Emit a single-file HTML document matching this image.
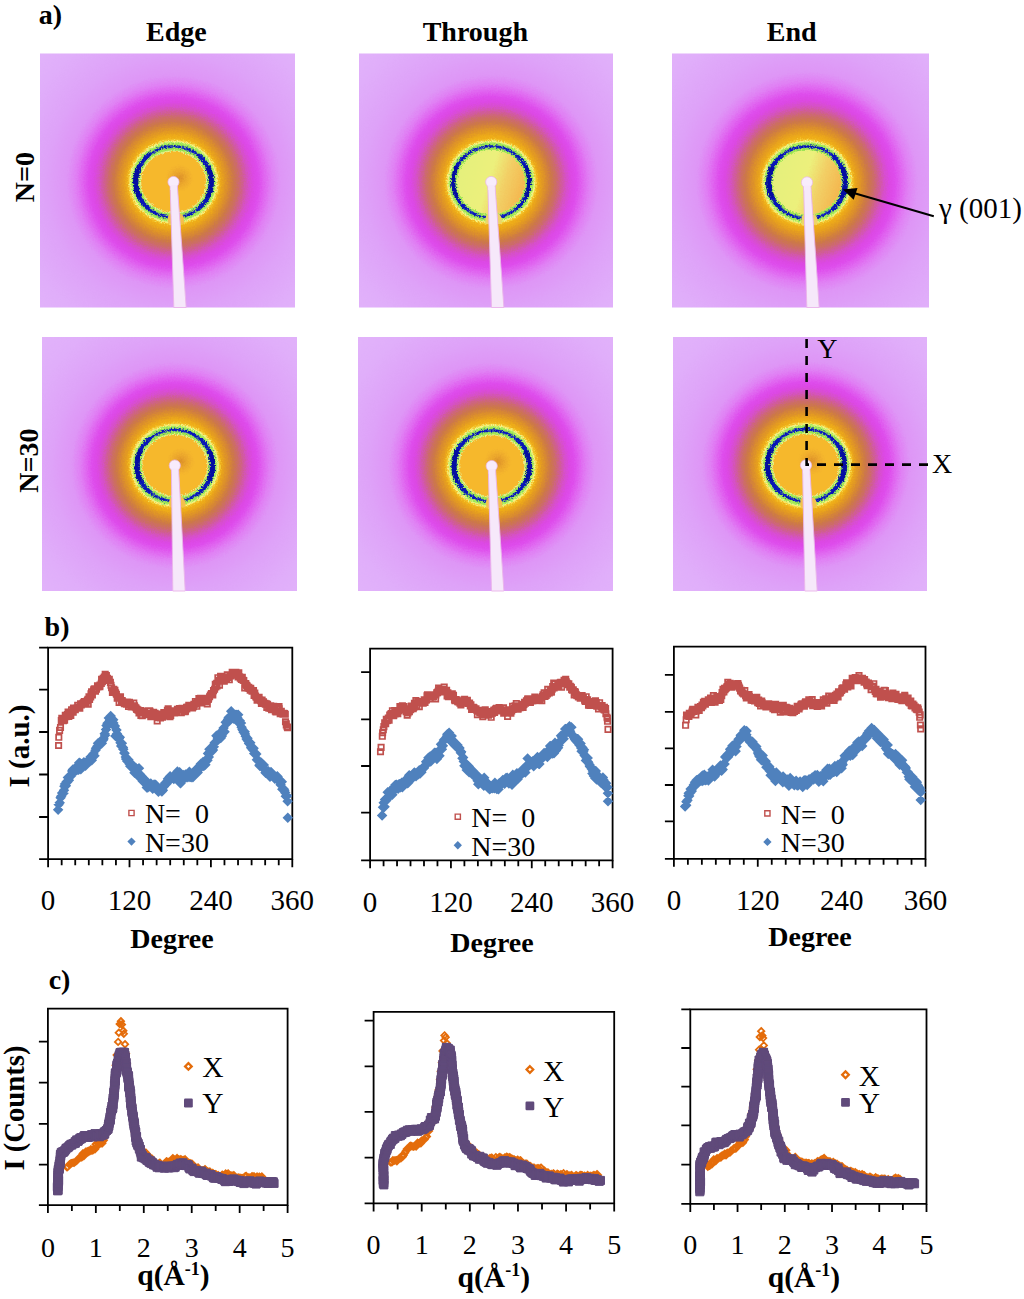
<!DOCTYPE html>
<html><head><meta charset="utf-8"><style>
html,body{margin:0;padding:0;background:#fff;}
body{width:1024px;height:1299px;position:relative;overflow:hidden;font-family:"Liberation Serif",serif;}
</style></head><body>
<svg width="1024" height="1299" viewBox="0 0 1024 1299" style="position:absolute;left:0;top:0">
<defs>
<radialGradient id="ge0" gradientUnits="userSpaceOnUse" cx="173.5" cy="182" r="260">
<stop offset="0.0000" stop-color="#eeac18"/>
<stop offset="0.1762" stop-color="#eeac18"/>
<stop offset="0.1915" stop-color="#e49c20"/>
<stop offset="0.2108" stop-color="#d88a30"/>
<stop offset="0.2300" stop-color="#cc7848"/>
<stop offset="0.2492" stop-color="#cc6c68"/>
<stop offset="0.2685" stop-color="#d05c98"/>
<stop offset="0.2877" stop-color="#d650c8"/>
<stop offset="0.3069" stop-color="#dc48e4"/>
<stop offset="0.3262" stop-color="#de4cec"/>
<stop offset="0.3492" stop-color="#e064f0"/>
<stop offset="0.3762" stop-color="#e080f4"/>
<stop offset="0.4108" stop-color="#de96f6"/>
<stop offset="0.4915" stop-color="#dea2f8"/>
<stop offset="0.6262" stop-color="#e0aefa"/>
<stop offset="1.0000" stop-color="#e6c0fa"/>
</radialGradient>
<radialGradient id="re0" gradientUnits="userSpaceOnUse" cx="173.5" cy="182" r="47.599999999999994" gradientTransform="translate(0 10.92) scale(1 0.94)">
<stop offset="0.0000" stop-color="#f6b82c" stop-opacity="1"/>
<stop offset="0.6681" stop-color="#f6b82c" stop-opacity="1"/>
<stop offset="0.6933" stop-color="#e8f090" stop-opacity="1"/>
<stop offset="0.7143" stop-color="#a8e858" stop-opacity="1"/>
<stop offset="0.7479" stop-color="#90e050" stop-opacity="1"/>
<stop offset="0.7790" stop-color="#1a28c8" stop-opacity="1"/>
<stop offset="0.7941" stop-color="#0410b0" stop-opacity="1"/>
<stop offset="0.8092" stop-color="#1020c0" stop-opacity="1"/>
<stop offset="0.8403" stop-color="#90e050" stop-opacity="1"/>
<stop offset="0.8782" stop-color="#b0ec60" stop-opacity="1"/>
<stop offset="0.9076" stop-color="#f8f488" stop-opacity="1"/>
<stop offset="0.9412" stop-color="#f4c830" stop-opacity="1"/>
<stop offset="1.0000" stop-color="#f0b018" stop-opacity="0"/>
</radialGradient>
<radialGradient id="gt0" gradientUnits="userSpaceOnUse" cx="491.2" cy="182" r="260">
<stop offset="0.0000" stop-color="#eeac18"/>
<stop offset="0.1769" stop-color="#eeac18"/>
<stop offset="0.1923" stop-color="#e49c20"/>
<stop offset="0.2115" stop-color="#d88a30"/>
<stop offset="0.2308" stop-color="#cc7848"/>
<stop offset="0.2500" stop-color="#cc6c68"/>
<stop offset="0.2692" stop-color="#d05c98"/>
<stop offset="0.2885" stop-color="#d650c8"/>
<stop offset="0.3077" stop-color="#dc48e4"/>
<stop offset="0.3269" stop-color="#de4cec"/>
<stop offset="0.3500" stop-color="#e064f0"/>
<stop offset="0.3769" stop-color="#e080f4"/>
<stop offset="0.4115" stop-color="#de96f6"/>
<stop offset="0.4923" stop-color="#dea2f8"/>
<stop offset="0.6269" stop-color="#e0aefa"/>
<stop offset="1.0000" stop-color="#e6c0fa"/>
</radialGradient>
<radialGradient id="rt0" gradientUnits="userSpaceOnUse" cx="491.2" cy="182" r="47.6" gradientTransform="translate(0 10.92) scale(1 0.94)">
<stop offset="0.0000" stop-color="#ecec78" stop-opacity="1"/>
<stop offset="0.6765" stop-color="#ecec78" stop-opacity="1"/>
<stop offset="0.7017" stop-color="#e8f090" stop-opacity="1"/>
<stop offset="0.7227" stop-color="#a8e858" stop-opacity="1"/>
<stop offset="0.7563" stop-color="#90e050" stop-opacity="1"/>
<stop offset="0.7849" stop-color="#1a28c8" stop-opacity="1"/>
<stop offset="0.7983" stop-color="#0410b0" stop-opacity="1"/>
<stop offset="0.8118" stop-color="#1020c0" stop-opacity="1"/>
<stop offset="0.8403" stop-color="#90e050" stop-opacity="1"/>
<stop offset="0.8782" stop-color="#b0ec60" stop-opacity="1"/>
<stop offset="0.9076" stop-color="#f8f488" stop-opacity="1"/>
<stop offset="0.9412" stop-color="#f4c830" stop-opacity="1"/>
<stop offset="1.0000" stop-color="#f0b018" stop-opacity="0"/>
</radialGradient>
<radialGradient id="gn0" gradientUnits="userSpaceOnUse" cx="807" cy="182.4" r="260">
<stop offset="0.0000" stop-color="#eeac18"/>
<stop offset="0.1781" stop-color="#eeac18"/>
<stop offset="0.1958" stop-color="#e49c20"/>
<stop offset="0.2160" stop-color="#d88a30"/>
<stop offset="0.2362" stop-color="#cc7848"/>
<stop offset="0.2563" stop-color="#cc6c68"/>
<stop offset="0.2765" stop-color="#d05c98"/>
<stop offset="0.2967" stop-color="#d650c8"/>
<stop offset="0.3169" stop-color="#dc48e4"/>
<stop offset="0.3371" stop-color="#de4cec"/>
<stop offset="0.3613" stop-color="#e064f0"/>
<stop offset="0.3896" stop-color="#e080f4"/>
<stop offset="0.4260" stop-color="#de96f6"/>
<stop offset="0.5108" stop-color="#dea2f8"/>
<stop offset="0.6521" stop-color="#e0aefa"/>
<stop offset="1.0000" stop-color="#e6c0fa"/>
</radialGradient>
<radialGradient id="rn0" gradientUnits="userSpaceOnUse" cx="807" cy="182.4" r="48.099999999999994" gradientTransform="translate(0 10.94) scale(1 0.94)">
<stop offset="0.0000" stop-color="#ecec78" stop-opacity="1"/>
<stop offset="0.6715" stop-color="#ecec78" stop-opacity="1"/>
<stop offset="0.6965" stop-color="#e8f090" stop-opacity="1"/>
<stop offset="0.7173" stop-color="#a8e858" stop-opacity="1"/>
<stop offset="0.7505" stop-color="#90e050" stop-opacity="1"/>
<stop offset="0.7813" stop-color="#1a28c8" stop-opacity="1"/>
<stop offset="0.7963" stop-color="#0410b0" stop-opacity="1"/>
<stop offset="0.8112" stop-color="#1020c0" stop-opacity="1"/>
<stop offset="0.8420" stop-color="#90e050" stop-opacity="1"/>
<stop offset="0.8794" stop-color="#b0ec60" stop-opacity="1"/>
<stop offset="0.9085" stop-color="#f8f488" stop-opacity="1"/>
<stop offset="0.9418" stop-color="#f4c830" stop-opacity="1"/>
<stop offset="1.0000" stop-color="#f0b018" stop-opacity="0"/>
</radialGradient>
<radialGradient id="ge3" gradientUnits="userSpaceOnUse" cx="174.8" cy="465.5" r="260">
<stop offset="0.0000" stop-color="#eeac18"/>
<stop offset="0.1762" stop-color="#eeac18"/>
<stop offset="0.1892" stop-color="#e49c20"/>
<stop offset="0.2075" stop-color="#d88a30"/>
<stop offset="0.2258" stop-color="#cc7848"/>
<stop offset="0.2440" stop-color="#cc6c68"/>
<stop offset="0.2623" stop-color="#d05c98"/>
<stop offset="0.2806" stop-color="#d650c8"/>
<stop offset="0.2988" stop-color="#dc48e4"/>
<stop offset="0.3171" stop-color="#de4cec"/>
<stop offset="0.3390" stop-color="#e064f0"/>
<stop offset="0.3646" stop-color="#e080f4"/>
<stop offset="0.3975" stop-color="#de96f6"/>
<stop offset="0.4742" stop-color="#dea2f8"/>
<stop offset="0.6021" stop-color="#e0aefa"/>
<stop offset="1.0000" stop-color="#e6c0fa"/>
</radialGradient>
<radialGradient id="re3" gradientUnits="userSpaceOnUse" cx="174.8" cy="465.5" r="47.5" gradientTransform="translate(0 27.93) scale(1 0.94)">
<stop offset="0.0000" stop-color="#f6b82c" stop-opacity="1"/>
<stop offset="0.6716" stop-color="#f6b82c" stop-opacity="1"/>
<stop offset="0.6968" stop-color="#e8f090" stop-opacity="1"/>
<stop offset="0.7179" stop-color="#a8e858" stop-opacity="1"/>
<stop offset="0.7516" stop-color="#90e050" stop-opacity="1"/>
<stop offset="0.7815" stop-color="#1a28c8" stop-opacity="1"/>
<stop offset="0.7958" stop-color="#0410b0" stop-opacity="1"/>
<stop offset="0.8101" stop-color="#1020c0" stop-opacity="1"/>
<stop offset="0.8400" stop-color="#90e050" stop-opacity="1"/>
<stop offset="0.8779" stop-color="#b0ec60" stop-opacity="1"/>
<stop offset="0.9074" stop-color="#f8f488" stop-opacity="1"/>
<stop offset="0.9411" stop-color="#f4c830" stop-opacity="1"/>
<stop offset="1.0000" stop-color="#f0b018" stop-opacity="0"/>
</radialGradient>
<radialGradient id="gt3" gradientUnits="userSpaceOnUse" cx="491.7" cy="466" r="260">
<stop offset="0.0000" stop-color="#eeac18"/>
<stop offset="0.1762" stop-color="#eeac18"/>
<stop offset="0.1892" stop-color="#e49c20"/>
<stop offset="0.2075" stop-color="#d88a30"/>
<stop offset="0.2258" stop-color="#cc7848"/>
<stop offset="0.2440" stop-color="#cc6c68"/>
<stop offset="0.2623" stop-color="#d05c98"/>
<stop offset="0.2806" stop-color="#d650c8"/>
<stop offset="0.2988" stop-color="#dc48e4"/>
<stop offset="0.3171" stop-color="#de4cec"/>
<stop offset="0.3390" stop-color="#e064f0"/>
<stop offset="0.3646" stop-color="#e080f4"/>
<stop offset="0.3975" stop-color="#de96f6"/>
<stop offset="0.4742" stop-color="#dea2f8"/>
<stop offset="0.6021" stop-color="#e0aefa"/>
<stop offset="1.0000" stop-color="#e6c0fa"/>
</radialGradient>
<radialGradient id="rt3" gradientUnits="userSpaceOnUse" cx="491.7" cy="466" r="47.5" gradientTransform="translate(0 27.96) scale(1 0.94)">
<stop offset="0.0000" stop-color="#f6b82c" stop-opacity="1"/>
<stop offset="0.6716" stop-color="#f6b82c" stop-opacity="1"/>
<stop offset="0.6968" stop-color="#e8f090" stop-opacity="1"/>
<stop offset="0.7179" stop-color="#a8e858" stop-opacity="1"/>
<stop offset="0.7516" stop-color="#90e050" stop-opacity="1"/>
<stop offset="0.7815" stop-color="#1a28c8" stop-opacity="1"/>
<stop offset="0.7958" stop-color="#0410b0" stop-opacity="1"/>
<stop offset="0.8101" stop-color="#1020c0" stop-opacity="1"/>
<stop offset="0.8400" stop-color="#90e050" stop-opacity="1"/>
<stop offset="0.8779" stop-color="#b0ec60" stop-opacity="1"/>
<stop offset="0.9074" stop-color="#f8f488" stop-opacity="1"/>
<stop offset="0.9411" stop-color="#f4c830" stop-opacity="1"/>
<stop offset="1.0000" stop-color="#f0b018" stop-opacity="0"/>
</radialGradient>
<radialGradient id="gn3" gradientUnits="userSpaceOnUse" cx="806" cy="465.3" r="260">
<stop offset="0.0000" stop-color="#eeac18"/>
<stop offset="0.1788" stop-color="#eeac18"/>
<stop offset="0.1919" stop-color="#e49c20"/>
<stop offset="0.2102" stop-color="#d88a30"/>
<stop offset="0.2285" stop-color="#cc7848"/>
<stop offset="0.2467" stop-color="#cc6c68"/>
<stop offset="0.2650" stop-color="#d05c98"/>
<stop offset="0.2833" stop-color="#d650c8"/>
<stop offset="0.3015" stop-color="#dc48e4"/>
<stop offset="0.3198" stop-color="#de4cec"/>
<stop offset="0.3417" stop-color="#e064f0"/>
<stop offset="0.3673" stop-color="#e080f4"/>
<stop offset="0.4002" stop-color="#de96f6"/>
<stop offset="0.4769" stop-color="#dea2f8"/>
<stop offset="0.6048" stop-color="#e0aefa"/>
<stop offset="1.0000" stop-color="#e6c0fa"/>
</radialGradient>
<radialGradient id="rn3" gradientUnits="userSpaceOnUse" cx="806" cy="465.3" r="48.3" gradientTransform="translate(0 27.92) scale(1 0.94)">
<stop offset="0.0000" stop-color="#f6b82c" stop-opacity="1"/>
<stop offset="0.6729" stop-color="#f6b82c" stop-opacity="1"/>
<stop offset="0.6977" stop-color="#e8f090" stop-opacity="1"/>
<stop offset="0.7184" stop-color="#a8e858" stop-opacity="1"/>
<stop offset="0.7516" stop-color="#90e050" stop-opacity="1"/>
<stop offset="0.7822" stop-color="#1a28c8" stop-opacity="1"/>
<stop offset="0.7971" stop-color="#0410b0" stop-opacity="1"/>
<stop offset="0.8120" stop-color="#1020c0" stop-opacity="1"/>
<stop offset="0.8427" stop-color="#90e050" stop-opacity="1"/>
<stop offset="0.8799" stop-color="#b0ec60" stop-opacity="1"/>
<stop offset="0.9089" stop-color="#f8f488" stop-opacity="1"/>
<stop offset="0.9420" stop-color="#f4c830" stop-opacity="1"/>
<stop offset="1.0000" stop-color="#f0b018" stop-opacity="0"/>
</radialGradient>
<linearGradient id="yl" x1="0" y1="0.2" x2="1" y2="0.5"><stop offset="0" stop-color="#e4f07c"/><stop offset="0.5" stop-color="#ecf07c"/><stop offset="0.72" stop-color="#f2d066"/><stop offset="1" stop-color="#f4b850"/></linearGradient>
<radialGradient id="dk"><stop offset="0" stop-color="#d88a28" stop-opacity="0.9"/><stop offset="1" stop-color="#e8a030" stop-opacity="0"/></radialGradient>
<filter id="spk" x="-5%" y="-5%" width="110%" height="110%" color-interpolation-filters="sRGB"><feTurbulence type="fractalNoise" baseFrequency="0.7" numOctaves="2" seed="3" result="n"/><feDisplacementMap in="SourceGraphic" in2="n" scale="4.5" xChannelSelector="R" yChannelSelector="G"/></filter>
<clipPath id="ce0"><rect x="40" y="53.5" width="255" height="254.0"/></clipPath>
<clipPath id="ct0"><rect x="359" y="53.5" width="254" height="254.0"/></clipPath>
<clipPath id="cn0"><rect x="672" y="53.5" width="257" height="254.0"/></clipPath>
<clipPath id="ce3"><rect x="42" y="337" width="255" height="254"/></clipPath>
<clipPath id="ct3"><rect x="358" y="337" width="255" height="254"/></clipPath>
<clipPath id="cn3"><rect x="673" y="337" width="254" height="254"/></clipPath>
</defs>
<g clip-path="url(#ce0)"><g filter="url(#spk)">
<rect x="34" y="47.5" width="267" height="266.0" fill="url(#ge0)"/>
<ellipse cx="173.5" cy="182" rx="47.599999999999994" ry="44.74" fill="url(#re0)"/>
<circle cx="179.5" cy="178" r="14" fill="url(#dk)" />
<ellipse cx="173.5" cy="182" rx="37.8" ry="35.53" fill="none" stroke="#0814b8" stroke-width="4.2" pathLength="360" stroke-dasharray="48 84 96 84 48" opacity="0.9"/>
<ellipse cx="173.5" cy="182" rx="37.8" ry="35.53" fill="none" stroke="#040ca0" stroke-width="5.4" pathLength="360" stroke-dasharray="25 130 50 130 25" opacity="0.9"/>
</g></g>
<path d="M169.5 213.8 Q166.5 217.8 168.5 223.8 L183.5 223.8 Q185.5 217.8 181.5 213.8 Z" fill="#f4c04c"/>
<path d="M170.1 185 L173.8 307.5 L186.2 307.5 L177.3 185 Z" fill="#f6e8fa" stroke="#eab4ea" stroke-width="0.9"/>
<circle cx="173.5" cy="182" r="5.6" fill="#f8ecfc" stroke="#eab4ea" stroke-width="0.7"/>
<path d="M170.5 185 L170.6 190 L176.9 190 L176.8 185 Z" fill="#f6e8fa"/>
<g clip-path="url(#ct0)"><g filter="url(#spk)">
<rect x="353" y="47.5" width="266" height="266.0" fill="url(#gt0)"/>
<ellipse cx="491.2" cy="182" rx="47.6" ry="44.74" fill="url(#rt0)"/>
<ellipse cx="491.2" cy="182" rx="34.0" ry="31.96" fill="url(#yl)" />
<ellipse cx="491.2" cy="182" rx="38" ry="35.72" fill="none" stroke="#0814b8" stroke-width="3.4" pathLength="360" stroke-dasharray="48 84 96 84 48" opacity="0.9"/>
<ellipse cx="491.2" cy="182" rx="38" ry="35.72" fill="none" stroke="#040ca0" stroke-width="4.2" pathLength="360" stroke-dasharray="25 130 50 130 25" opacity="0.9"/>
</g></g>
<path d="M487.2 214 Q484.2 218 486.2 224 L501.2 224 Q503.2 218 499.2 214 Z" fill="#eed468"/>
<path d="M487.8 185 L491.5 307.5 L503.9 307.5 L495.0 185 Z" fill="#f6e8fa" stroke="#eab4ea" stroke-width="0.9"/>
<circle cx="491.2" cy="182" r="5.6" fill="#f8ecfc" stroke="#eab4ea" stroke-width="0.7"/>
<path d="M488.2 185 L488.3 190 L494.59999999999997 190 L494.5 185 Z" fill="#f6e8fa"/>
<g clip-path="url(#cn0)"><g filter="url(#spk)">
<rect x="666" y="47.5" width="269" height="266.0" fill="url(#gn0)"/>
<ellipse cx="807" cy="182.4" rx="48.099999999999994" ry="45.21" fill="url(#rn0)"/>
<ellipse cx="807" cy="182.4" rx="34.3" ry="32.24" fill="url(#yl)" />
<ellipse cx="807" cy="182.4" rx="38.3" ry="36.00" fill="none" stroke="#0814b8" stroke-width="4.2" pathLength="360" stroke-dasharray="48 84 96 84 48" opacity="0.9"/>
<ellipse cx="807" cy="182.4" rx="38.3" ry="36.00" fill="none" stroke="#040ca0" stroke-width="5.4" pathLength="360" stroke-dasharray="25 130 50 130 25" opacity="0.9"/>
</g></g>
<path d="M803 214.7 Q800 218.7 802 224.7 L817 224.7 Q819 218.7 815 214.7 Z" fill="#eed468"/>
<path d="M803.6 185.4 L806.8 307.5 L819.2 307.5 L810.8 185.4 Z" fill="#f6e8fa" stroke="#eab4ea" stroke-width="0.9"/>
<circle cx="807" cy="182.4" r="5.6" fill="#f8ecfc" stroke="#eab4ea" stroke-width="0.7"/>
<path d="M804.0 185.4 L804.1 190.4 L810.4 190.4 L810.3 185.4 Z" fill="#f6e8fa"/>
<g clip-path="url(#ce3)"><g filter="url(#spk)">
<rect x="36" y="331" width="267" height="266" fill="url(#ge3)"/>
<ellipse cx="174.8" cy="465.5" rx="47.5" ry="44.65" fill="url(#re3)"/>
<circle cx="180.8" cy="461.5" r="14" fill="url(#dk)" />
<ellipse cx="174.8" cy="465.5" rx="37.8" ry="35.53" fill="none" stroke="#0814b8" stroke-width="4.2" pathLength="360" stroke-dasharray="48 84 96 84 48" opacity="0.9"/>
<ellipse cx="174.8" cy="465.5" rx="37.8" ry="35.53" fill="none" stroke="#040ca0" stroke-width="5.4" pathLength="360" stroke-dasharray="25 130 50 130 25" opacity="0.9"/>
</g></g>
<path d="M170.8 497.3 Q167.8 501.3 169.8 507.3 L184.8 507.3 Q186.8 501.3 182.8 497.3 Z" fill="#f4c04c"/>
<path d="M171.4 468.5 L172.8 591 L185.2 591 L178.60000000000002 468.5 Z" fill="#f6e8fa" stroke="#eab4ea" stroke-width="0.9"/>
<circle cx="174.8" cy="465.5" r="5.6" fill="#f8ecfc" stroke="#eab4ea" stroke-width="0.7"/>
<path d="M171.8 468.5 L171.9 473.5 L178.20000000000002 473.5 L178.10000000000002 468.5 Z" fill="#f6e8fa"/>
<g clip-path="url(#ct3)"><g filter="url(#spk)">
<rect x="352" y="331" width="267" height="266" fill="url(#gt3)"/>
<ellipse cx="491.7" cy="466" rx="47.5" ry="44.65" fill="url(#rt3)"/>
<circle cx="497.7" cy="462" r="14" fill="url(#dk)" />
<ellipse cx="491.7" cy="466" rx="37.8" ry="35.53" fill="none" stroke="#0814b8" stroke-width="4.2" pathLength="360" stroke-dasharray="48 84 96 84 48" opacity="0.9"/>
<ellipse cx="491.7" cy="466" rx="37.8" ry="35.53" fill="none" stroke="#040ca0" stroke-width="5.4" pathLength="360" stroke-dasharray="25 130 50 130 25" opacity="0.9"/>
</g></g>
<path d="M487.7 497.8 Q484.7 501.8 486.7 507.8 L501.7 507.8 Q503.7 501.8 499.7 497.8 Z" fill="#f4c04c"/>
<path d="M488.3 469 L491.5 591 L503.9 591 L495.5 469 Z" fill="#f6e8fa" stroke="#eab4ea" stroke-width="0.9"/>
<circle cx="491.7" cy="466" r="5.6" fill="#f8ecfc" stroke="#eab4ea" stroke-width="0.7"/>
<path d="M488.7 469 L488.8 474 L495.09999999999997 474 L495.0 469 Z" fill="#f6e8fa"/>
<g clip-path="url(#cn3)"><g filter="url(#spk)">
<rect x="667" y="331" width="266" height="266" fill="url(#gn3)"/>
<ellipse cx="806" cy="465.3" rx="48.3" ry="45.40" fill="url(#rn3)"/>
<circle cx="812" cy="461.3" r="14" fill="url(#dk)" />
<ellipse cx="806" cy="465.3" rx="38.5" ry="36.19" fill="none" stroke="#0814b8" stroke-width="4.2" pathLength="360" stroke-dasharray="48 84 96 84 48" opacity="0.9"/>
<ellipse cx="806" cy="465.3" rx="38.5" ry="36.19" fill="none" stroke="#040ca0" stroke-width="5.4" pathLength="360" stroke-dasharray="25 130 50 130 25" opacity="0.9"/>
</g></g>
<path d="M802 497.8 Q799 501.8 801 507.8 L816 507.8 Q818 501.8 814 497.8 Z" fill="#f4c04c"/>
<path d="M802.6 468.3 L804.8 591 L817.2 591 L809.8 468.3 Z" fill="#f6e8fa" stroke="#eab4ea" stroke-width="0.9"/>
<circle cx="806" cy="465.3" r="5.6" fill="#f8ecfc" stroke="#eab4ea" stroke-width="0.7"/>
<path d="M803.0 468.3 L803.1 473.3 L809.4 473.3 L809.3 468.3 Z" fill="#f6e8fa"/>
<text x="38.7" y="24" font-family="Liberation Serif" font-size="28" font-weight="bold" text-anchor="start" >a)</text>
<text x="146.1" y="40.8" font-family="Liberation Serif" font-size="28" font-weight="bold" text-anchor="start" >Edge</text>
<text x="422.7" y="40.5" font-family="Liberation Serif" font-size="28" font-weight="bold" text-anchor="start" >Through</text>
<text x="766.8" y="40.5" font-family="Liberation Serif" font-size="28" font-weight="bold" text-anchor="start" >End</text>
<text transform="translate(33.8,202.3) rotate(-90)" font-family="Liberation Serif" font-size="28" font-weight="bold">N=0</text>
<text transform="translate(37.9,492.8) rotate(-90)" font-family="Liberation Serif" font-size="28" font-weight="bold">N=30</text>
<line x1="933.8" y1="216.3" x2="852" y2="192.5" stroke="#000" stroke-width="2"/>
<path d="M842.9 189.4 L857.5 188 L853.7 199.8 Z" fill="#000"/>
<text x="939" y="217.8" font-family="Liberation Serif" font-size="29" text-anchor="start" >γ (001)</text>
<path d="M806.6 339 V464.6 H932" fill="none" stroke="#000" stroke-width="2.6" stroke-dasharray="9 8"/>
<text x="817.3" y="357.7" font-family="Liberation Serif" font-size="28" text-anchor="start" >Y</text>
<text x="932" y="472.8" font-family="Liberation Serif" font-size="28" text-anchor="start" >X</text>
<text x="44.6" y="636.2" font-family="Liberation Serif" font-size="28" font-weight="bold" text-anchor="start">b)</text>
<text x="48.7" y="989.2" font-family="Liberation Serif" font-size="28" font-weight="bold" text-anchor="start">c)</text>
<text transform="translate(28.5,787.5) rotate(-90)" font-family="Liberation Serif" font-size="29" font-weight="bold">I (a.u.)</text>
<text transform="translate(23.9,1170.6) rotate(-90)" font-family="Liberation Serif" font-size="28.7" font-weight="bold">I (Counts)</text>
<path d="M48.1 647.7 H292.3 V859.2 H48.1 Z" fill="none" stroke="#000" stroke-width="1.8" stroke-linejoin="miter"/>
<path d="M39.1 647.7 H48.1 M39.1 689.7 H48.1 M39.1 732 H48.1 M39.1 774.5 H48.1 M39.1 817 H48.1 M39.1 859.2 H48.1 M48.1 859.2 V867.2 M129.5 859.2 V867.2 M210.9 859.2 V867.2 M292.3 859.2 V867.2 M61.66666666666667 859.2 V865.2 M75.23333333333333 859.2 V865.2 M88.80000000000001 859.2 V865.2 M102.36666666666667 859.2 V865.2 M115.93333333333334 859.2 V865.2 M143.06666666666666 859.2 V865.2 M156.63333333333335 859.2 V865.2 M170.20000000000002 859.2 V865.2 M183.76666666666665 859.2 V865.2 M197.33333333333334 859.2 V865.2 M224.46666666666667 859.2 V865.2 M238.03333333333333 859.2 V865.2 M251.60000000000002 859.2 V865.2 M265.1666666666667 859.2 V865.2 M278.73333333333335 859.2 V865.2" fill="none" stroke="#000" stroke-width="1.8"/>
<text x="48.1" y="910.1" font-family="Liberation Serif" font-size="29" text-anchor="middle">0</text>
<text x="129.5" y="910.1" font-family="Liberation Serif" font-size="29" text-anchor="middle">120</text>
<text x="210.9" y="910.1" font-family="Liberation Serif" font-size="29" text-anchor="middle">240</text>
<text x="292.3" y="910.1" font-family="Liberation Serif" font-size="29" text-anchor="middle">360</text>
<text x="172" y="948.4" font-family="Liberation Serif" font-size="28" font-weight="bold" text-anchor="middle">Degree</text>
<path d="M58.1 804.4l5.25 5.25l-5.25 5.25l-5.25 -5.25zM58.7 799.2l5.25 5.25l-5.25 5.25l-5.25 -5.25zM59.7 797.6l5.25 5.25l-5.25 5.25l-5.25 -5.25zM60.6 792.6l5.25 5.25l-5.25 5.25l-5.25 -5.25zM61.2 791.1l5.25 5.25l-5.25 5.25l-5.25 -5.25zM62.1 787.7l5.25 5.25l-5.25 5.25l-5.25 -5.25zM62.6 787.3l5.25 5.25l-5.25 5.25l-5.25 -5.25zM63.5 787.9l5.25 5.25l-5.25 5.25l-5.25 -5.25zM64.0 784.9l5.25 5.25l-5.25 5.25l-5.25 -5.25zM64.4 781.0l5.25 5.25l-5.25 5.25l-5.25 -5.25zM65.0 778.7l5.25 5.25l-5.25 5.25l-5.25 -5.25zM65.9 780.4l5.25 5.25l-5.25 5.25l-5.25 -5.25zM66.6 776.6l5.25 5.25l-5.25 5.25l-5.25 -5.25zM67.2 777.1l5.25 5.25l-5.25 5.25l-5.25 -5.25zM67.9 772.3l5.25 5.25l-5.25 5.25l-5.25 -5.25zM68.9 775.0l5.25 5.25l-5.25 5.25l-5.25 -5.25zM69.4 771.1l5.25 5.25l-5.25 5.25l-5.25 -5.25zM70.2 770.5l5.25 5.25l-5.25 5.25l-5.25 -5.25zM71.0 770.8l5.25 5.25l-5.25 5.25l-5.25 -5.25zM71.6 769.2l5.25 5.25l-5.25 5.25l-5.25 -5.25zM72.2 765.8l5.25 5.25l-5.25 5.25l-5.25 -5.25zM72.9 764.3l5.25 5.25l-5.25 5.25l-5.25 -5.25zM73.4 765.9l5.25 5.25l-5.25 5.25l-5.25 -5.25zM74.4 764.2l5.25 5.25l-5.25 5.25l-5.25 -5.25zM75.0 762.9l5.25 5.25l-5.25 5.25l-5.25 -5.25zM75.7 763.0l5.25 5.25l-5.25 5.25l-5.25 -5.25zM76.7 765.1l5.25 5.25l-5.25 5.25l-5.25 -5.25zM77.2 763.7l5.25 5.25l-5.25 5.25l-5.25 -5.25zM77.7 762.1l5.25 5.25l-5.25 5.25l-5.25 -5.25zM78.6 764.4l5.25 5.25l-5.25 5.25l-5.25 -5.25zM79.2 757.5l5.25 5.25l-5.25 5.25l-5.25 -5.25zM80.0 757.8l5.25 5.25l-5.25 5.25l-5.25 -5.25zM80.8 764.0l5.25 5.25l-5.25 5.25l-5.25 -5.25zM81.5 759.0l5.25 5.25l-5.25 5.25l-5.25 -5.25zM82.0 758.7l5.25 5.25l-5.25 5.25l-5.25 -5.25zM83.0 761.0l5.25 5.25l-5.25 5.25l-5.25 -5.25zM83.7 761.2l5.25 5.25l-5.25 5.25l-5.25 -5.25zM83.9 756.9l5.25 5.25l-5.25 5.25l-5.25 -5.25zM84.8 759.2l5.25 5.25l-5.25 5.25l-5.25 -5.25zM85.5 760.4l5.25 5.25l-5.25 5.25l-5.25 -5.25zM86.1 759.2l5.25 5.25l-5.25 5.25l-5.25 -5.25zM86.8 757.4l5.25 5.25l-5.25 5.25l-5.25 -5.25zM87.4 756.1l5.25 5.25l-5.25 5.25l-5.25 -5.25zM88.4 754.9l5.25 5.25l-5.25 5.25l-5.25 -5.25zM89.1 754.8l5.25 5.25l-5.25 5.25l-5.25 -5.25zM89.9 756.2l5.25 5.25l-5.25 5.25l-5.25 -5.25zM90.5 751.7l5.25 5.25l-5.25 5.25l-5.25 -5.25zM91.4 753.4l5.25 5.25l-5.25 5.25l-5.25 -5.25zM91.8 755.0l5.25 5.25l-5.25 5.25l-5.25 -5.25zM92.8 751.6l5.25 5.25l-5.25 5.25l-5.25 -5.25zM93.4 748.4l5.25 5.25l-5.25 5.25l-5.25 -5.25zM94.1 750.3l5.25 5.25l-5.25 5.25l-5.25 -5.25zM94.5 750.5l5.25 5.25l-5.25 5.25l-5.25 -5.25zM95.5 745.0l5.25 5.25l-5.25 5.25l-5.25 -5.25zM96.0 742.9l5.25 5.25l-5.25 5.25l-5.25 -5.25zM96.7 743.0l5.25 5.25l-5.25 5.25l-5.25 -5.25zM97.3 741.1l5.25 5.25l-5.25 5.25l-5.25 -5.25zM98.0 737.9l5.25 5.25l-5.25 5.25l-5.25 -5.25zM98.9 738.0l5.25 5.25l-5.25 5.25l-5.25 -5.25zM99.4 739.5l5.25 5.25l-5.25 5.25l-5.25 -5.25zM100.1 738.7l5.25 5.25l-5.25 5.25l-5.25 -5.25zM101.1 737.9l5.25 5.25l-5.25 5.25l-5.25 -5.25zM101.9 738.1l5.25 5.25l-5.25 5.25l-5.25 -5.25zM102.4 735.4l5.25 5.25l-5.25 5.25l-5.25 -5.25zM103.3 734.4l5.25 5.25l-5.25 5.25l-5.25 -5.25zM103.5 732.9l5.25 5.25l-5.25 5.25l-5.25 -5.25zM104.7 728.5l5.25 5.25l-5.25 5.25l-5.25 -5.25zM105.1 730.1l5.25 5.25l-5.25 5.25l-5.25 -5.25zM106.0 724.2l5.25 5.25l-5.25 5.25l-5.25 -5.25zM106.5 720.2l5.25 5.25l-5.25 5.25l-5.25 -5.25zM107.5 717.9l5.25 5.25l-5.25 5.25l-5.25 -5.25zM108.2 719.8l5.25 5.25l-5.25 5.25l-5.25 -5.25zM108.8 712.8l5.25 5.25l-5.25 5.25l-5.25 -5.25zM109.5 712.7l5.25 5.25l-5.25 5.25l-5.25 -5.25zM109.9 714.9l5.25 5.25l-5.25 5.25l-5.25 -5.25zM110.7 710.8l5.25 5.25l-5.25 5.25l-5.25 -5.25zM111.3 715.2l5.25 5.25l-5.25 5.25l-5.25 -5.25zM111.9 717.1l5.25 5.25l-5.25 5.25l-5.25 -5.25zM113.2 714.4l5.25 5.25l-5.25 5.25l-5.25 -5.25zM113.4 717.7l5.25 5.25l-5.25 5.25l-5.25 -5.25zM114.4 721.1l5.25 5.25l-5.25 5.25l-5.25 -5.25zM114.9 720.8l5.25 5.25l-5.25 5.25l-5.25 -5.25zM115.4 730.8l5.25 5.25l-5.25 5.25l-5.25 -5.25zM116.5 724.8l5.25 5.25l-5.25 5.25l-5.25 -5.25zM117.0 728.5l5.25 5.25l-5.25 5.25l-5.25 -5.25zM117.9 730.6l5.25 5.25l-5.25 5.25l-5.25 -5.25zM118.4 733.2l5.25 5.25l-5.25 5.25l-5.25 -5.25zM118.9 733.4l5.25 5.25l-5.25 5.25l-5.25 -5.25zM119.8 732.1l5.25 5.25l-5.25 5.25l-5.25 -5.25zM120.5 737.5l5.25 5.25l-5.25 5.25l-5.25 -5.25zM121.2 740.7l5.25 5.25l-5.25 5.25l-5.25 -5.25zM121.9 738.1l5.25 5.25l-5.25 5.25l-5.25 -5.25zM123.0 742.3l5.25 5.25l-5.25 5.25l-5.25 -5.25zM123.3 743.9l5.25 5.25l-5.25 5.25l-5.25 -5.25zM124.3 747.7l5.25 5.25l-5.25 5.25l-5.25 -5.25zM124.6 747.9l5.25 5.25l-5.25 5.25l-5.25 -5.25zM125.8 751.7l5.25 5.25l-5.25 5.25l-5.25 -5.25zM126.1 753.7l5.25 5.25l-5.25 5.25l-5.25 -5.25zM126.8 752.9l5.25 5.25l-5.25 5.25l-5.25 -5.25zM127.3 756.0l5.25 5.25l-5.25 5.25l-5.25 -5.25zM128.4 754.4l5.25 5.25l-5.25 5.25l-5.25 -5.25zM128.9 757.2l5.25 5.25l-5.25 5.25l-5.25 -5.25zM129.6 758.7l5.25 5.25l-5.25 5.25l-5.25 -5.25zM130.3 760.9l5.25 5.25l-5.25 5.25l-5.25 -5.25zM131.3 759.1l5.25 5.25l-5.25 5.25l-5.25 -5.25zM131.7 758.7l5.25 5.25l-5.25 5.25l-5.25 -5.25zM132.5 760.7l5.25 5.25l-5.25 5.25l-5.25 -5.25zM133.5 761.4l5.25 5.25l-5.25 5.25l-5.25 -5.25zM133.9 763.7l5.25 5.25l-5.25 5.25l-5.25 -5.25zM134.5 767.4l5.25 5.25l-5.25 5.25l-5.25 -5.25zM135.0 763.9l5.25 5.25l-5.25 5.25l-5.25 -5.25zM136.0 762.7l5.25 5.25l-5.25 5.25l-5.25 -5.25zM136.6 764.1l5.25 5.25l-5.25 5.25l-5.25 -5.25zM137.7 763.9l5.25 5.25l-5.25 5.25l-5.25 -5.25zM138.1 770.8l5.25 5.25l-5.25 5.25l-5.25 -5.25zM139.0 763.0l5.25 5.25l-5.25 5.25l-5.25 -5.25zM139.2 769.0l5.25 5.25l-5.25 5.25l-5.25 -5.25zM140.0 769.1l5.25 5.25l-5.25 5.25l-5.25 -5.25zM140.8 771.1l5.25 5.25l-5.25 5.25l-5.25 -5.25zM141.8 771.4l5.25 5.25l-5.25 5.25l-5.25 -5.25zM142.0 771.2l5.25 5.25l-5.25 5.25l-5.25 -5.25zM142.8 776.0l5.25 5.25l-5.25 5.25l-5.25 -5.25zM143.7 774.2l5.25 5.25l-5.25 5.25l-5.25 -5.25zM144.6 774.1l5.25 5.25l-5.25 5.25l-5.25 -5.25zM145.0 776.9l5.25 5.25l-5.25 5.25l-5.25 -5.25zM146.0 775.5l5.25 5.25l-5.25 5.25l-5.25 -5.25zM146.8 782.2l5.25 5.25l-5.25 5.25l-5.25 -5.25zM147.0 776.9l5.25 5.25l-5.25 5.25l-5.25 -5.25zM148.0 781.9l5.25 5.25l-5.25 5.25l-5.25 -5.25zM148.5 779.9l5.25 5.25l-5.25 5.25l-5.25 -5.25zM149.3 781.1l5.25 5.25l-5.25 5.25l-5.25 -5.25zM149.8 780.0l5.25 5.25l-5.25 5.25l-5.25 -5.25zM150.8 778.2l5.25 5.25l-5.25 5.25l-5.25 -5.25zM151.6 781.5l5.25 5.25l-5.25 5.25l-5.25 -5.25zM152.0 779.6l5.25 5.25l-5.25 5.25l-5.25 -5.25zM152.7 783.6l5.25 5.25l-5.25 5.25l-5.25 -5.25zM153.3 782.2l5.25 5.25l-5.25 5.25l-5.25 -5.25zM154.1 779.3l5.25 5.25l-5.25 5.25l-5.25 -5.25zM155.0 780.7l5.25 5.25l-5.25 5.25l-5.25 -5.25zM155.6 779.4l5.25 5.25l-5.25 5.25l-5.25 -5.25zM156.1 781.2l5.25 5.25l-5.25 5.25l-5.25 -5.25zM156.8 781.4l5.25 5.25l-5.25 5.25l-5.25 -5.25zM157.4 782.8l5.25 5.25l-5.25 5.25l-5.25 -5.25zM158.4 786.4l5.25 5.25l-5.25 5.25l-5.25 -5.25zM159.1 783.5l5.25 5.25l-5.25 5.25l-5.25 -5.25zM160.1 784.2l5.25 5.25l-5.25 5.25l-5.25 -5.25zM160.4 783.9l5.25 5.25l-5.25 5.25l-5.25 -5.25zM161.4 785.3l5.25 5.25l-5.25 5.25l-5.25 -5.25zM161.9 786.3l5.25 5.25l-5.25 5.25l-5.25 -5.25zM162.9 785.1l5.25 5.25l-5.25 5.25l-5.25 -5.25zM163.4 781.6l5.25 5.25l-5.25 5.25l-5.25 -5.25zM163.8 781.6l5.25 5.25l-5.25 5.25l-5.25 -5.25zM165.0 778.1l5.25 5.25l-5.25 5.25l-5.25 -5.25zM165.3 779.8l5.25 5.25l-5.25 5.25l-5.25 -5.25zM166.4 777.7l5.25 5.25l-5.25 5.25l-5.25 -5.25zM166.6 778.4l5.25 5.25l-5.25 5.25l-5.25 -5.25zM167.6 775.2l5.25 5.25l-5.25 5.25l-5.25 -5.25zM168.0 773.6l5.25 5.25l-5.25 5.25l-5.25 -5.25zM169.1 772.4l5.25 5.25l-5.25 5.25l-5.25 -5.25zM169.7 771.4l5.25 5.25l-5.25 5.25l-5.25 -5.25zM170.1 771.0l5.25 5.25l-5.25 5.25l-5.25 -5.25zM171.2 773.5l5.25 5.25l-5.25 5.25l-5.25 -5.25zM171.8 772.9l5.25 5.25l-5.25 5.25l-5.25 -5.25zM172.4 771.8l5.25 5.25l-5.25 5.25l-5.25 -5.25zM173.2 772.8l5.25 5.25l-5.25 5.25l-5.25 -5.25zM173.8 773.8l5.25 5.25l-5.25 5.25l-5.25 -5.25zM174.6 771.9l5.25 5.25l-5.25 5.25l-5.25 -5.25zM175.2 772.0l5.25 5.25l-5.25 5.25l-5.25 -5.25zM176.2 770.9l5.25 5.25l-5.25 5.25l-5.25 -5.25zM176.4 771.7l5.25 5.25l-5.25 5.25l-5.25 -5.25zM177.4 766.3l5.25 5.25l-5.25 5.25l-5.25 -5.25zM177.9 774.2l5.25 5.25l-5.25 5.25l-5.25 -5.25zM178.6 772.6l5.25 5.25l-5.25 5.25l-5.25 -5.25zM179.6 767.1l5.25 5.25l-5.25 5.25l-5.25 -5.25zM180.1 777.8l5.25 5.25l-5.25 5.25l-5.25 -5.25zM180.6 777.9l5.25 5.25l-5.25 5.25l-5.25 -5.25zM181.8 775.2l5.25 5.25l-5.25 5.25l-5.25 -5.25zM182.4 770.7l5.25 5.25l-5.25 5.25l-5.25 -5.25zM183.2 774.0l5.25 5.25l-5.25 5.25l-5.25 -5.25zM183.3 769.7l5.25 5.25l-5.25 5.25l-5.25 -5.25zM184.2 773.4l5.25 5.25l-5.25 5.25l-5.25 -5.25zM185.2 769.6l5.25 5.25l-5.25 5.25l-5.25 -5.25zM185.9 769.3l5.25 5.25l-5.25 5.25l-5.25 -5.25zM186.2 772.0l5.25 5.25l-5.25 5.25l-5.25 -5.25zM186.8 770.2l5.25 5.25l-5.25 5.25l-5.25 -5.25zM187.8 772.0l5.25 5.25l-5.25 5.25l-5.25 -5.25zM188.3 769.7l5.25 5.25l-5.25 5.25l-5.25 -5.25zM189.4 766.4l5.25 5.25l-5.25 5.25l-5.25 -5.25zM189.9 771.8l5.25 5.25l-5.25 5.25l-5.25 -5.25zM190.8 767.9l5.25 5.25l-5.25 5.25l-5.25 -5.25zM191.2 771.9l5.25 5.25l-5.25 5.25l-5.25 -5.25zM191.8 769.9l5.25 5.25l-5.25 5.25l-5.25 -5.25zM192.9 772.0l5.25 5.25l-5.25 5.25l-5.25 -5.25zM193.6 770.0l5.25 5.25l-5.25 5.25l-5.25 -5.25zM194.0 769.2l5.25 5.25l-5.25 5.25l-5.25 -5.25zM195.0 768.9l5.25 5.25l-5.25 5.25l-5.25 -5.25zM195.2 764.9l5.25 5.25l-5.25 5.25l-5.25 -5.25zM196.5 764.5l5.25 5.25l-5.25 5.25l-5.25 -5.25zM197.1 767.4l5.25 5.25l-5.25 5.25l-5.25 -5.25zM197.7 767.2l5.25 5.25l-5.25 5.25l-5.25 -5.25zM198.3 763.2l5.25 5.25l-5.25 5.25l-5.25 -5.25zM198.7 763.7l5.25 5.25l-5.25 5.25l-5.25 -5.25zM199.8 760.2l5.25 5.25l-5.25 5.25l-5.25 -5.25zM200.3 762.8l5.25 5.25l-5.25 5.25l-5.25 -5.25zM200.9 758.4l5.25 5.25l-5.25 5.25l-5.25 -5.25zM201.6 758.6l5.25 5.25l-5.25 5.25l-5.25 -5.25zM202.3 758.9l5.25 5.25l-5.25 5.25l-5.25 -5.25zM203.0 756.7l5.25 5.25l-5.25 5.25l-5.25 -5.25zM203.8 760.7l5.25 5.25l-5.25 5.25l-5.25 -5.25zM204.4 756.6l5.25 5.25l-5.25 5.25l-5.25 -5.25zM205.4 759.4l5.25 5.25l-5.25 5.25l-5.25 -5.25zM205.9 755.9l5.25 5.25l-5.25 5.25l-5.25 -5.25zM206.5 754.4l5.25 5.25l-5.25 5.25l-5.25 -5.25zM207.5 755.1l5.25 5.25l-5.25 5.25l-5.25 -5.25zM208.0 748.3l5.25 5.25l-5.25 5.25l-5.25 -5.25zM208.8 751.8l5.25 5.25l-5.25 5.25l-5.25 -5.25zM209.4 744.0l5.25 5.25l-5.25 5.25l-5.25 -5.25zM210.3 746.3l5.25 5.25l-5.25 5.25l-5.25 -5.25zM210.8 745.3l5.25 5.25l-5.25 5.25l-5.25 -5.25zM211.8 746.2l5.25 5.25l-5.25 5.25l-5.25 -5.25zM212.4 741.2l5.25 5.25l-5.25 5.25l-5.25 -5.25zM213.0 744.7l5.25 5.25l-5.25 5.25l-5.25 -5.25zM213.8 741.4l5.25 5.25l-5.25 5.25l-5.25 -5.25zM214.5 737.8l5.25 5.25l-5.25 5.25l-5.25 -5.25zM215.1 737.1l5.25 5.25l-5.25 5.25l-5.25 -5.25zM215.7 736.9l5.25 5.25l-5.25 5.25l-5.25 -5.25zM216.4 730.6l5.25 5.25l-5.25 5.25l-5.25 -5.25zM217.3 735.6l5.25 5.25l-5.25 5.25l-5.25 -5.25zM217.8 733.0l5.25 5.25l-5.25 5.25l-5.25 -5.25zM218.4 731.0l5.25 5.25l-5.25 5.25l-5.25 -5.25zM219.3 732.1l5.25 5.25l-5.25 5.25l-5.25 -5.25zM219.9 730.3l5.25 5.25l-5.25 5.25l-5.25 -5.25zM220.8 732.8l5.25 5.25l-5.25 5.25l-5.25 -5.25zM221.4 726.2l5.25 5.25l-5.25 5.25l-5.25 -5.25zM221.9 730.8l5.25 5.25l-5.25 5.25l-5.25 -5.25zM222.7 728.6l5.25 5.25l-5.25 5.25l-5.25 -5.25zM223.6 722.8l5.25 5.25l-5.25 5.25l-5.25 -5.25zM224.1 725.9l5.25 5.25l-5.25 5.25l-5.25 -5.25zM224.6 726.6l5.25 5.25l-5.25 5.25l-5.25 -5.25zM225.7 717.1l5.25 5.25l-5.25 5.25l-5.25 -5.25zM226.3 717.4l5.25 5.25l-5.25 5.25l-5.25 -5.25zM226.9 718.0l5.25 5.25l-5.25 5.25l-5.25 -5.25zM228.0 713.9l5.25 5.25l-5.25 5.25l-5.25 -5.25zM228.7 712.3l5.25 5.25l-5.25 5.25l-5.25 -5.25zM229.3 715.8l5.25 5.25l-5.25 5.25l-5.25 -5.25zM229.9 714.3l5.25 5.25l-5.25 5.25l-5.25 -5.25zM230.2 711.7l5.25 5.25l-5.25 5.25l-5.25 -5.25zM231.2 706.0l5.25 5.25l-5.25 5.25l-5.25 -5.25zM231.7 709.7l5.25 5.25l-5.25 5.25l-5.25 -5.25zM232.9 712.8l5.25 5.25l-5.25 5.25l-5.25 -5.25zM233.1 712.6l5.25 5.25l-5.25 5.25l-5.25 -5.25zM233.9 713.4l5.25 5.25l-5.25 5.25l-5.25 -5.25zM234.5 711.4l5.25 5.25l-5.25 5.25l-5.25 -5.25zM235.5 711.4l5.25 5.25l-5.25 5.25l-5.25 -5.25zM236.0 709.6l5.25 5.25l-5.25 5.25l-5.25 -5.25zM237.0 709.7l5.25 5.25l-5.25 5.25l-5.25 -5.25zM237.3 712.4l5.25 5.25l-5.25 5.25l-5.25 -5.25zM238.2 709.4l5.25 5.25l-5.25 5.25l-5.25 -5.25zM239.2 718.1l5.25 5.25l-5.25 5.25l-5.25 -5.25zM239.8 715.5l5.25 5.25l-5.25 5.25l-5.25 -5.25zM240.3 718.5l5.25 5.25l-5.25 5.25l-5.25 -5.25zM241.0 717.8l5.25 5.25l-5.25 5.25l-5.25 -5.25zM241.6 722.0l5.25 5.25l-5.25 5.25l-5.25 -5.25zM242.4 723.9l5.25 5.25l-5.25 5.25l-5.25 -5.25zM242.9 725.0l5.25 5.25l-5.25 5.25l-5.25 -5.25zM243.6 727.0l5.25 5.25l-5.25 5.25l-5.25 -5.25zM244.7 726.4l5.25 5.25l-5.25 5.25l-5.25 -5.25zM245.0 728.8l5.25 5.25l-5.25 5.25l-5.25 -5.25zM245.7 731.1l5.25 5.25l-5.25 5.25l-5.25 -5.25zM246.6 733.8l5.25 5.25l-5.25 5.25l-5.25 -5.25zM247.5 732.9l5.25 5.25l-5.25 5.25l-5.25 -5.25zM247.8 735.6l5.25 5.25l-5.25 5.25l-5.25 -5.25zM249.0 738.2l5.25 5.25l-5.25 5.25l-5.25 -5.25zM249.4 737.4l5.25 5.25l-5.25 5.25l-5.25 -5.25zM250.3 737.6l5.25 5.25l-5.25 5.25l-5.25 -5.25zM251.1 742.6l5.25 5.25l-5.25 5.25l-5.25 -5.25zM251.3 741.8l5.25 5.25l-5.25 5.25l-5.25 -5.25zM252.4 743.2l5.25 5.25l-5.25 5.25l-5.25 -5.25zM252.7 744.6l5.25 5.25l-5.25 5.25l-5.25 -5.25zM253.6 743.0l5.25 5.25l-5.25 5.25l-5.25 -5.25zM254.2 748.3l5.25 5.25l-5.25 5.25l-5.25 -5.25zM255.3 748.3l5.25 5.25l-5.25 5.25l-5.25 -5.25zM255.4 747.7l5.25 5.25l-5.25 5.25l-5.25 -5.25zM256.3 748.8l5.25 5.25l-5.25 5.25l-5.25 -5.25zM256.9 754.6l5.25 5.25l-5.25 5.25l-5.25 -5.25zM258.1 755.2l5.25 5.25l-5.25 5.25l-5.25 -5.25zM258.6 755.2l5.25 5.25l-5.25 5.25l-5.25 -5.25zM259.4 759.9l5.25 5.25l-5.25 5.25l-5.25 -5.25zM259.9 760.8l5.25 5.25l-5.25 5.25l-5.25 -5.25zM260.8 758.2l5.25 5.25l-5.25 5.25l-5.25 -5.25zM261.4 757.5l5.25 5.25l-5.25 5.25l-5.25 -5.25zM261.9 760.3l5.25 5.25l-5.25 5.25l-5.25 -5.25zM262.7 759.4l5.25 5.25l-5.25 5.25l-5.25 -5.25zM263.3 762.2l5.25 5.25l-5.25 5.25l-5.25 -5.25zM263.8 759.8l5.25 5.25l-5.25 5.25l-5.25 -5.25zM265.0 764.7l5.25 5.25l-5.25 5.25l-5.25 -5.25zM265.5 767.4l5.25 5.25l-5.25 5.25l-5.25 -5.25zM266.1 766.2l5.25 5.25l-5.25 5.25l-5.25 -5.25zM266.8 766.4l5.25 5.25l-5.25 5.25l-5.25 -5.25zM267.5 767.9l5.25 5.25l-5.25 5.25l-5.25 -5.25zM268.4 766.1l5.25 5.25l-5.25 5.25l-5.25 -5.25zM269.0 768.8l5.25 5.25l-5.25 5.25l-5.25 -5.25zM270.0 771.4l5.25 5.25l-5.25 5.25l-5.25 -5.25zM270.1 770.3l5.25 5.25l-5.25 5.25l-5.25 -5.25zM271.0 766.7l5.25 5.25l-5.25 5.25l-5.25 -5.25zM271.9 768.2l5.25 5.25l-5.25 5.25l-5.25 -5.25zM272.6 769.4l5.25 5.25l-5.25 5.25l-5.25 -5.25zM273.3 771.6l5.25 5.25l-5.25 5.25l-5.25 -5.25zM273.9 770.8l5.25 5.25l-5.25 5.25l-5.25 -5.25zM274.8 773.5l5.25 5.25l-5.25 5.25l-5.25 -5.25zM275.2 772.8l5.25 5.25l-5.25 5.25l-5.25 -5.25zM275.9 772.7l5.25 5.25l-5.25 5.25l-5.25 -5.25zM276.9 773.4l5.25 5.25l-5.25 5.25l-5.25 -5.25zM277.3 771.0l5.25 5.25l-5.25 5.25l-5.25 -5.25zM277.9 771.9l5.25 5.25l-5.25 5.25l-5.25 -5.25zM279.1 776.3l5.25 5.25l-5.25 5.25l-5.25 -5.25zM279.4 776.0l5.25 5.25l-5.25 5.25l-5.25 -5.25zM280.4 774.9l5.25 5.25l-5.25 5.25l-5.25 -5.25zM280.6 779.5l5.25 5.25l-5.25 5.25l-5.25 -5.25zM281.8 776.6l5.25 5.25l-5.25 5.25l-5.25 -5.25zM282.3 784.0l5.25 5.25l-5.25 5.25l-5.25 -5.25zM283.3 783.8l5.25 5.25l-5.25 5.25l-5.25 -5.25zM284.0 784.0l5.25 5.25l-5.25 5.25l-5.25 -5.25zM284.6 785.7l5.25 5.25l-5.25 5.25l-5.25 -5.25zM285.2 787.5l5.25 5.25l-5.25 5.25l-5.25 -5.25zM285.8 791.0l5.25 5.25l-5.25 5.25l-5.25 -5.25zM286.8 790.9l5.25 5.25l-5.25 5.25l-5.25 -5.25zM286.9 790.2l5.25 5.25l-5.25 5.25l-5.25 -5.25zM287.8 812.5l5.25 5.25l-5.25 5.25l-5.25 -5.25zM287.6 796.0l5.25 5.25l-5.25 5.25l-5.25 -5.25z" fill="#4f81bd"/>
<path d="M55.9 742.8h5.4v5.4h-5.4zM56.1 734.6h5.4v5.4h-5.4zM56.9 727.7h5.4v5.4h-5.4zM57.8 724.8h5.4v5.4h-5.4zM58.6 717.8h5.4v5.4h-5.4zM59.1 715.6h5.4v5.4h-5.4zM60.0 716.3h5.4v5.4h-5.4zM60.7 718.0h5.4v5.4h-5.4zM61.5 716.1h5.4v5.4h-5.4zM61.9 717.5h5.4v5.4h-5.4zM62.6 712.7h5.4v5.4h-5.4zM63.3 714.1h5.4v5.4h-5.4zM64.3 713.4h5.4v5.4h-5.4zM64.7 711.9h5.4v5.4h-5.4zM65.4 709.3h5.4v5.4h-5.4zM66.1 713.8h5.4v5.4h-5.4zM66.8 711.0h5.4v5.4h-5.4zM67.4 709.7h5.4v5.4h-5.4zM68.1 712.7h5.4v5.4h-5.4zM68.9 707.1h5.4v5.4h-5.4zM69.8 709.3h5.4v5.4h-5.4zM70.5 709.6h5.4v5.4h-5.4zM70.8 705.3h5.4v5.4h-5.4zM71.8 705.8h5.4v5.4h-5.4zM72.6 706.9h5.4v5.4h-5.4zM72.8 705.3h5.4v5.4h-5.4zM73.9 705.6h5.4v5.4h-5.4zM74.4 705.2h5.4v5.4h-5.4zM75.0 702.5h5.4v5.4h-5.4zM76.0 705.1h5.4v5.4h-5.4zM76.5 704.4h5.4v5.4h-5.4zM77.1 705.4h5.4v5.4h-5.4zM77.9 701.2h5.4v5.4h-5.4zM78.6 702.3h5.4v5.4h-5.4zM79.2 701.1h5.4v5.4h-5.4zM80.2 700.7h5.4v5.4h-5.4zM81.0 699.9h5.4v5.4h-5.4zM81.6 698.9h5.4v5.4h-5.4zM82.3 701.5h5.4v5.4h-5.4zM83.1 699.1h5.4v5.4h-5.4zM83.5 700.4h5.4v5.4h-5.4zM84.6 697.8h5.4v5.4h-5.4zM85.2 696.7h5.4v5.4h-5.4zM85.5 701.6h5.4v5.4h-5.4zM86.3 694.1h5.4v5.4h-5.4zM86.9 696.8h5.4v5.4h-5.4zM88.0 694.2h5.4v5.4h-5.4zM88.3 691.0h5.4v5.4h-5.4zM88.9 689.2h5.4v5.4h-5.4zM89.7 692.2h5.4v5.4h-5.4zM90.9 688.1h5.4v5.4h-5.4zM91.1 686.5h5.4v5.4h-5.4zM92.0 686.2h5.4v5.4h-5.4zM92.8 688.5h5.4v5.4h-5.4zM93.2 686.5h5.4v5.4h-5.4zM93.8 686.6h5.4v5.4h-5.4zM94.8 683.0h5.4v5.4h-5.4zM95.3 684.3h5.4v5.4h-5.4zM96.4 683.7h5.4v5.4h-5.4zM97.2 684.0h5.4v5.4h-5.4zM97.3 682.4h5.4v5.4h-5.4zM98.6 680.7h5.4v5.4h-5.4zM98.9 676.7h5.4v5.4h-5.4zM99.7 679.1h5.4v5.4h-5.4zM100.5 675.6h5.4v5.4h-5.4zM100.8 676.5h5.4v5.4h-5.4zM101.6 674.4h5.4v5.4h-5.4zM102.5 671.7h5.4v5.4h-5.4zM103.0 674.0h5.4v5.4h-5.4zM103.7 672.8h5.4v5.4h-5.4zM104.8 675.6h5.4v5.4h-5.4zM105.5 677.2h5.4v5.4h-5.4zM106.1 677.7h5.4v5.4h-5.4zM106.6 676.6h5.4v5.4h-5.4zM107.7 679.7h5.4v5.4h-5.4zM108.3 682.6h5.4v5.4h-5.4zM108.9 685.0h5.4v5.4h-5.4zM109.7 689.8h5.4v5.4h-5.4zM110.4 688.6h5.4v5.4h-5.4zM111.1 686.6h5.4v5.4h-5.4zM111.8 688.3h5.4v5.4h-5.4zM112.2 687.5h5.4v5.4h-5.4zM112.9 690.1h5.4v5.4h-5.4zM113.7 691.5h5.4v5.4h-5.4zM114.5 695.4h5.4v5.4h-5.4zM115.2 694.4h5.4v5.4h-5.4zM115.9 695.0h5.4v5.4h-5.4zM116.4 699.7h5.4v5.4h-5.4zM117.2 695.2h5.4v5.4h-5.4zM117.8 694.2h5.4v5.4h-5.4zM118.7 699.4h5.4v5.4h-5.4zM119.5 697.9h5.4v5.4h-5.4zM120.1 699.0h5.4v5.4h-5.4zM120.8 700.0h5.4v5.4h-5.4zM121.1 700.1h5.4v5.4h-5.4zM121.9 701.0h5.4v5.4h-5.4zM122.7 699.6h5.4v5.4h-5.4zM123.7 701.4h5.4v5.4h-5.4zM124.5 699.3h5.4v5.4h-5.4zM124.9 700.6h5.4v5.4h-5.4zM125.8 703.7h5.4v5.4h-5.4zM126.0 701.7h5.4v5.4h-5.4zM126.7 699.6h5.4v5.4h-5.4zM128.0 701.3h5.4v5.4h-5.4zM128.2 703.9h5.4v5.4h-5.4zM129.1 704.3h5.4v5.4h-5.4zM130.1 703.5h5.4v5.4h-5.4zM130.5 703.6h5.4v5.4h-5.4zM131.1 700.3h5.4v5.4h-5.4zM131.8 703.1h5.4v5.4h-5.4zM132.5 704.6h5.4v5.4h-5.4zM133.4 705.3h5.4v5.4h-5.4zM133.8 706.6h5.4v5.4h-5.4zM134.4 706.7h5.4v5.4h-5.4zM135.3 707.4h5.4v5.4h-5.4zM136.3 710.3h5.4v5.4h-5.4zM137.1 708.5h5.4v5.4h-5.4zM137.8 707.9h5.4v5.4h-5.4zM138.2 712.8h5.4v5.4h-5.4zM138.9 712.6h5.4v5.4h-5.4zM139.6 713.0h5.4v5.4h-5.4zM140.6 710.1h5.4v5.4h-5.4zM141.3 709.4h5.4v5.4h-5.4zM141.9 708.9h5.4v5.4h-5.4zM142.5 711.4h5.4v5.4h-5.4zM143.1 712.0h5.4v5.4h-5.4zM143.8 711.6h5.4v5.4h-5.4zM144.3 711.0h5.4v5.4h-5.4zM145.2 708.0h5.4v5.4h-5.4zM145.8 710.5h5.4v5.4h-5.4zM146.8 708.2h5.4v5.4h-5.4zM147.3 708.5h5.4v5.4h-5.4zM148.1 714.1h5.4v5.4h-5.4zM148.5 710.9h5.4v5.4h-5.4zM149.6 713.7h5.4v5.4h-5.4zM150.2 712.8h5.4v5.4h-5.4zM150.9 709.6h5.4v5.4h-5.4zM151.5 711.9h5.4v5.4h-5.4zM152.4 710.7h5.4v5.4h-5.4zM152.7 711.9h5.4v5.4h-5.4zM153.8 713.8h5.4v5.4h-5.4zM154.5 718.3h5.4v5.4h-5.4zM154.9 714.5h5.4v5.4h-5.4zM155.7 714.9h5.4v5.4h-5.4zM156.4 713.5h5.4v5.4h-5.4zM156.8 713.1h5.4v5.4h-5.4zM157.8 715.2h5.4v5.4h-5.4zM158.6 714.2h5.4v5.4h-5.4zM159.0 711.3h5.4v5.4h-5.4zM159.8 714.6h5.4v5.4h-5.4zM160.3 713.3h5.4v5.4h-5.4zM161.1 709.8h5.4v5.4h-5.4zM162.2 713.1h5.4v5.4h-5.4zM162.5 709.8h5.4v5.4h-5.4zM163.6 710.0h5.4v5.4h-5.4zM164.0 710.9h5.4v5.4h-5.4zM164.7 707.6h5.4v5.4h-5.4zM165.5 706.0h5.4v5.4h-5.4zM166.2 711.7h5.4v5.4h-5.4zM166.8 708.3h5.4v5.4h-5.4zM167.3 714.0h5.4v5.4h-5.4zM168.0 712.8h5.4v5.4h-5.4zM169.1 708.1h5.4v5.4h-5.4zM169.6 710.3h5.4v5.4h-5.4zM170.2 709.4h5.4v5.4h-5.4zM171.2 708.7h5.4v5.4h-5.4zM171.9 710.2h5.4v5.4h-5.4zM172.6 708.9h5.4v5.4h-5.4zM173.1 709.4h5.4v5.4h-5.4zM174.0 709.4h5.4v5.4h-5.4zM174.7 706.5h5.4v5.4h-5.4zM175.3 706.5h5.4v5.4h-5.4zM176.2 709.8h5.4v5.4h-5.4zM176.7 705.8h5.4v5.4h-5.4zM177.3 707.6h5.4v5.4h-5.4zM178.0 706.1h5.4v5.4h-5.4zM178.6 709.9h5.4v5.4h-5.4zM179.4 705.6h5.4v5.4h-5.4zM180.1 705.7h5.4v5.4h-5.4zM180.8 707.6h5.4v5.4h-5.4zM181.8 706.3h5.4v5.4h-5.4zM182.3 709.0h5.4v5.4h-5.4zM182.8 708.5h5.4v5.4h-5.4zM183.9 704.6h5.4v5.4h-5.4zM184.1 706.2h5.4v5.4h-5.4zM185.1 704.3h5.4v5.4h-5.4zM186.1 702.5h5.4v5.4h-5.4zM186.6 703.1h5.4v5.4h-5.4zM187.2 704.5h5.4v5.4h-5.4zM188.1 704.5h5.4v5.4h-5.4zM188.7 705.2h5.4v5.4h-5.4zM189.5 704.9h5.4v5.4h-5.4zM189.8 705.3h5.4v5.4h-5.4zM190.8 703.9h5.4v5.4h-5.4zM191.2 701.7h5.4v5.4h-5.4zM192.3 701.5h5.4v5.4h-5.4zM192.7 698.9h5.4v5.4h-5.4zM193.4 700.8h5.4v5.4h-5.4zM194.2 703.6h5.4v5.4h-5.4zM194.9 700.0h5.4v5.4h-5.4zM195.8 699.0h5.4v5.4h-5.4zM196.2 695.9h5.4v5.4h-5.4zM197.2 699.4h5.4v5.4h-5.4zM197.9 695.7h5.4v5.4h-5.4zM198.7 700.2h5.4v5.4h-5.4zM199.2 695.6h5.4v5.4h-5.4zM200.0 695.6h5.4v5.4h-5.4zM200.5 697.1h5.4v5.4h-5.4zM201.3 697.7h5.4v5.4h-5.4zM202.2 699.1h5.4v5.4h-5.4zM202.4 698.1h5.4v5.4h-5.4zM203.3 698.9h5.4v5.4h-5.4zM203.7 696.9h5.4v5.4h-5.4zM204.6 701.3h5.4v5.4h-5.4zM205.6 696.7h5.4v5.4h-5.4zM205.9 695.8h5.4v5.4h-5.4zM206.9 694.1h5.4v5.4h-5.4zM207.7 692.3h5.4v5.4h-5.4zM208.0 692.3h5.4v5.4h-5.4zM208.7 690.9h5.4v5.4h-5.4zM209.7 691.0h5.4v5.4h-5.4zM210.1 692.3h5.4v5.4h-5.4zM210.8 687.9h5.4v5.4h-5.4zM211.9 686.5h5.4v5.4h-5.4zM212.6 681.5h5.4v5.4h-5.4zM213.1 684.2h5.4v5.4h-5.4zM214.0 680.7h5.4v5.4h-5.4zM214.4 683.2h5.4v5.4h-5.4zM215.2 675.0h5.4v5.4h-5.4zM215.7 677.7h5.4v5.4h-5.4zM216.8 682.5h5.4v5.4h-5.4zM217.2 678.4h5.4v5.4h-5.4zM217.9 673.5h5.4v5.4h-5.4zM219.0 675.2h5.4v5.4h-5.4zM219.1 675.6h5.4v5.4h-5.4zM220.1 676.5h5.4v5.4h-5.4zM220.9 674.9h5.4v5.4h-5.4zM221.6 678.5h5.4v5.4h-5.4zM222.1 676.8h5.4v5.4h-5.4zM222.8 676.5h5.4v5.4h-5.4zM223.7 676.3h5.4v5.4h-5.4zM224.6 672.2h5.4v5.4h-5.4zM224.8 672.7h5.4v5.4h-5.4zM225.9 674.8h5.4v5.4h-5.4zM226.6 676.9h5.4v5.4h-5.4zM227.3 672.9h5.4v5.4h-5.4zM227.9 673.2h5.4v5.4h-5.4zM228.3 672.5h5.4v5.4h-5.4zM229.5 669.6h5.4v5.4h-5.4zM230.0 671.6h5.4v5.4h-5.4zM230.8 671.6h5.4v5.4h-5.4zM231.3 669.5h5.4v5.4h-5.4zM232.2 671.4h5.4v5.4h-5.4zM232.5 670.4h5.4v5.4h-5.4zM233.2 669.6h5.4v5.4h-5.4zM234.3 670.6h5.4v5.4h-5.4zM234.5 670.8h5.4v5.4h-5.4zM235.4 674.2h5.4v5.4h-5.4zM236.1 670.1h5.4v5.4h-5.4zM237.0 674.2h5.4v5.4h-5.4zM237.6 675.5h5.4v5.4h-5.4zM238.6 676.0h5.4v5.4h-5.4zM238.7 676.8h5.4v5.4h-5.4zM239.6 674.6h5.4v5.4h-5.4zM240.4 677.6h5.4v5.4h-5.4zM241.1 677.8h5.4v5.4h-5.4zM242.0 685.2h5.4v5.4h-5.4zM242.3 681.5h5.4v5.4h-5.4zM243.1 680.8h5.4v5.4h-5.4zM243.9 682.7h5.4v5.4h-5.4zM244.5 683.4h5.4v5.4h-5.4zM245.4 685.6h5.4v5.4h-5.4zM246.1 684.6h5.4v5.4h-5.4zM246.6 685.8h5.4v5.4h-5.4zM247.5 687.5h5.4v5.4h-5.4zM248.0 685.6h5.4v5.4h-5.4zM248.6 687.5h5.4v5.4h-5.4zM249.3 688.4h5.4v5.4h-5.4zM250.0 688.3h5.4v5.4h-5.4zM250.8 687.8h5.4v5.4h-5.4zM251.4 692.8h5.4v5.4h-5.4zM252.1 690.3h5.4v5.4h-5.4zM252.9 693.3h5.4v5.4h-5.4zM253.4 694.5h5.4v5.4h-5.4zM254.4 697.4h5.4v5.4h-5.4zM255.2 695.8h5.4v5.4h-5.4zM255.7 696.9h5.4v5.4h-5.4zM256.4 694.7h5.4v5.4h-5.4zM257.1 697.1h5.4v5.4h-5.4zM258.0 698.1h5.4v5.4h-5.4zM258.7 700.8h5.4v5.4h-5.4zM259.4 697.4h5.4v5.4h-5.4zM259.9 699.6h5.4v5.4h-5.4zM260.8 699.1h5.4v5.4h-5.4zM261.4 700.6h5.4v5.4h-5.4zM262.3 700.6h5.4v5.4h-5.4zM262.6 701.6h5.4v5.4h-5.4zM263.7 701.1h5.4v5.4h-5.4zM264.1 704.8h5.4v5.4h-5.4zM264.9 701.6h5.4v5.4h-5.4zM265.9 705.0h5.4v5.4h-5.4zM266.3 705.5h5.4v5.4h-5.4zM266.8 704.1h5.4v5.4h-5.4zM268.0 703.1h5.4v5.4h-5.4zM268.1 705.8h5.4v5.4h-5.4zM268.9 707.1h5.4v5.4h-5.4zM269.7 705.8h5.4v5.4h-5.4zM270.8 705.1h5.4v5.4h-5.4zM271.0 703.5h5.4v5.4h-5.4zM272.2 706.4h5.4v5.4h-5.4zM272.6 708.5h5.4v5.4h-5.4zM273.3 709.3h5.4v5.4h-5.4zM274.2 705.8h5.4v5.4h-5.4zM275.0 705.7h5.4v5.4h-5.4zM275.2 706.7h5.4v5.4h-5.4zM276.3 703.8h5.4v5.4h-5.4zM276.6 706.1h5.4v5.4h-5.4zM277.5 711.1h5.4v5.4h-5.4zM278.2 709.9h5.4v5.4h-5.4zM278.6 708.6h5.4v5.4h-5.4zM279.9 711.3h5.4v5.4h-5.4zM280.6 711.6h5.4v5.4h-5.4zM281.1 710.5h5.4v5.4h-5.4zM281.8 710.9h5.4v5.4h-5.4zM282.6 711.5h5.4v5.4h-5.4zM282.8 719.1h5.4v5.4h-5.4zM283.6 722.3h5.4v5.4h-5.4zM284.4 724.1h5.4v5.4h-5.4zM284.9 724.9h5.4v5.4h-5.4zM283.6 721.1h5.4v5.4h-5.4z" fill="none" stroke="#c0504d" stroke-width="1.7"/>
<path d="M128.9 810.4h5.2v5.2h-5.2z" fill="none" stroke="#c0504d" stroke-width="1.4"/>
<path d="M131.5 837.4l4.15 4.15l-4.15 4.15l-4.15 -4.15z" fill="#4f81bd"/>
<text x="144.9" y="823.3" font-family="Liberation Serif" font-size="28" style="white-space:pre">N=  0</text>
<text x="144.9" y="851.6" font-family="Liberation Serif" font-size="28" text-anchor="start">N=30</text>
<path d="M370.1 648.6 H612.6 V860.3 H370.1 Z" fill="none" stroke="#000" stroke-width="1.8" stroke-linejoin="miter"/>
<path d="M361.1 672.2 H370.1 M361.1 719.3 H370.1 M361.1 766 H370.1 M361.1 812.7 H370.1 M361.1 860.3 H370.1 M370.1 860.3 V868.3 M450.93333333333334 860.3 V868.3 M531.7666666666667 860.3 V868.3 M612.6 860.3 V868.3 M383.57222222222225 860.3 V866.3 M397.0444444444445 860.3 V866.3 M410.5166666666667 860.3 V866.3 M423.98888888888894 860.3 V866.3 M437.4611111111111 860.3 V866.3 M464.40555555555557 860.3 V866.3 M477.8777777777778 860.3 V866.3 M491.35 860.3 V866.3 M504.82222222222225 860.3 V866.3 M518.2944444444445 860.3 V866.3 M545.2388888888889 860.3 V866.3 M558.7111111111111 860.3 V866.3 M572.1833333333334 860.3 V866.3 M585.6555555555556 860.3 V866.3 M599.1277777777777 860.3 V866.3" fill="none" stroke="#000" stroke-width="1.8"/>
<text x="370.1" y="911.6" font-family="Liberation Serif" font-size="29" text-anchor="middle">0</text>
<text x="450.93333333333334" y="911.6" font-family="Liberation Serif" font-size="29" text-anchor="middle">120</text>
<text x="531.7666666666667" y="911.6" font-family="Liberation Serif" font-size="29" text-anchor="middle">240</text>
<text x="612.6" y="911.6" font-family="Liberation Serif" font-size="29" text-anchor="middle">360</text>
<text x="492" y="952" font-family="Liberation Serif" font-size="28" font-weight="bold" text-anchor="middle">Degree</text>
<path d="M382.1 810.2l5.25 5.25l-5.25 5.25l-5.25 -5.25zM383.0 802.0l5.25 5.25l-5.25 5.25l-5.25 -5.25zM383.7 797.5l5.25 5.25l-5.25 5.25l-5.25 -5.25zM384.6 801.4l5.25 5.25l-5.25 5.25l-5.25 -5.25zM385.0 794.2l5.25 5.25l-5.25 5.25l-5.25 -5.25zM386.1 794.2l5.25 5.25l-5.25 5.25l-5.25 -5.25zM386.3 795.2l5.25 5.25l-5.25 5.25l-5.25 -5.25zM387.5 792.2l5.25 5.25l-5.25 5.25l-5.25 -5.25zM387.7 786.9l5.25 5.25l-5.25 5.25l-5.25 -5.25zM388.4 791.8l5.25 5.25l-5.25 5.25l-5.25 -5.25zM389.5 789.7l5.25 5.25l-5.25 5.25l-5.25 -5.25zM389.8 791.1l5.25 5.25l-5.25 5.25l-5.25 -5.25zM390.6 787.2l5.25 5.25l-5.25 5.25l-5.25 -5.25zM391.5 788.2l5.25 5.25l-5.25 5.25l-5.25 -5.25zM392.3 789.6l5.25 5.25l-5.25 5.25l-5.25 -5.25zM392.8 782.9l5.25 5.25l-5.25 5.25l-5.25 -5.25zM393.4 785.9l5.25 5.25l-5.25 5.25l-5.25 -5.25zM394.3 781.3l5.25 5.25l-5.25 5.25l-5.25 -5.25zM394.8 783.6l5.25 5.25l-5.25 5.25l-5.25 -5.25zM395.3 779.7l5.25 5.25l-5.25 5.25l-5.25 -5.25zM396.2 779.8l5.25 5.25l-5.25 5.25l-5.25 -5.25zM396.7 779.6l5.25 5.25l-5.25 5.25l-5.25 -5.25zM397.7 781.0l5.25 5.25l-5.25 5.25l-5.25 -5.25zM398.1 783.5l5.25 5.25l-5.25 5.25l-5.25 -5.25zM399.0 779.1l5.25 5.25l-5.25 5.25l-5.25 -5.25zM399.6 779.0l5.25 5.25l-5.25 5.25l-5.25 -5.25zM400.6 782.1l5.25 5.25l-5.25 5.25l-5.25 -5.25zM401.0 781.1l5.25 5.25l-5.25 5.25l-5.25 -5.25zM401.7 777.6l5.25 5.25l-5.25 5.25l-5.25 -5.25zM402.4 782.0l5.25 5.25l-5.25 5.25l-5.25 -5.25zM403.4 779.5l5.25 5.25l-5.25 5.25l-5.25 -5.25zM403.8 779.1l5.25 5.25l-5.25 5.25l-5.25 -5.25zM404.6 777.2l5.25 5.25l-5.25 5.25l-5.25 -5.25zM405.3 777.8l5.25 5.25l-5.25 5.25l-5.25 -5.25zM406.1 773.9l5.25 5.25l-5.25 5.25l-5.25 -5.25zM407.0 774.7l5.25 5.25l-5.25 5.25l-5.25 -5.25zM407.4 778.1l5.25 5.25l-5.25 5.25l-5.25 -5.25zM408.3 777.4l5.25 5.25l-5.25 5.25l-5.25 -5.25zM409.2 770.0l5.25 5.25l-5.25 5.25l-5.25 -5.25zM409.9 775.4l5.25 5.25l-5.25 5.25l-5.25 -5.25zM410.1 773.3l5.25 5.25l-5.25 5.25l-5.25 -5.25zM410.9 773.1l5.25 5.25l-5.25 5.25l-5.25 -5.25zM411.7 771.1l5.25 5.25l-5.25 5.25l-5.25 -5.25zM412.2 772.9l5.25 5.25l-5.25 5.25l-5.25 -5.25zM413.3 768.3l5.25 5.25l-5.25 5.25l-5.25 -5.25zM413.5 770.9l5.25 5.25l-5.25 5.25l-5.25 -5.25zM414.4 767.2l5.25 5.25l-5.25 5.25l-5.25 -5.25zM415.5 767.9l5.25 5.25l-5.25 5.25l-5.25 -5.25zM416.0 771.0l5.25 5.25l-5.25 5.25l-5.25 -5.25zM416.4 770.3l5.25 5.25l-5.25 5.25l-5.25 -5.25zM417.4 768.2l5.25 5.25l-5.25 5.25l-5.25 -5.25zM417.7 767.7l5.25 5.25l-5.25 5.25l-5.25 -5.25zM418.4 769.1l5.25 5.25l-5.25 5.25l-5.25 -5.25zM419.3 765.1l5.25 5.25l-5.25 5.25l-5.25 -5.25zM420.1 768.3l5.25 5.25l-5.25 5.25l-5.25 -5.25zM420.9 765.7l5.25 5.25l-5.25 5.25l-5.25 -5.25zM421.4 767.1l5.25 5.25l-5.25 5.25l-5.25 -5.25zM422.1 763.2l5.25 5.25l-5.25 5.25l-5.25 -5.25zM422.6 763.6l5.25 5.25l-5.25 5.25l-5.25 -5.25zM423.4 761.8l5.25 5.25l-5.25 5.25l-5.25 -5.25zM424.0 762.8l5.25 5.25l-5.25 5.25l-5.25 -5.25zM425.2 760.3l5.25 5.25l-5.25 5.25l-5.25 -5.25zM425.6 760.3l5.25 5.25l-5.25 5.25l-5.25 -5.25zM426.1 756.5l5.25 5.25l-5.25 5.25l-5.25 -5.25zM426.9 758.7l5.25 5.25l-5.25 5.25l-5.25 -5.25zM427.8 757.3l5.25 5.25l-5.25 5.25l-5.25 -5.25zM428.4 752.6l5.25 5.25l-5.25 5.25l-5.25 -5.25zM429.4 753.9l5.25 5.25l-5.25 5.25l-5.25 -5.25zM430.1 751.2l5.25 5.25l-5.25 5.25l-5.25 -5.25zM430.7 756.3l5.25 5.25l-5.25 5.25l-5.25 -5.25zM431.3 751.3l5.25 5.25l-5.25 5.25l-5.25 -5.25zM432.0 750.3l5.25 5.25l-5.25 5.25l-5.25 -5.25zM432.9 751.4l5.25 5.25l-5.25 5.25l-5.25 -5.25zM433.6 751.7l5.25 5.25l-5.25 5.25l-5.25 -5.25zM434.2 751.0l5.25 5.25l-5.25 5.25l-5.25 -5.25zM434.5 747.4l5.25 5.25l-5.25 5.25l-5.25 -5.25zM435.5 748.1l5.25 5.25l-5.25 5.25l-5.25 -5.25zM436.0 747.4l5.25 5.25l-5.25 5.25l-5.25 -5.25zM436.9 753.7l5.25 5.25l-5.25 5.25l-5.25 -5.25zM437.6 752.0l5.25 5.25l-5.25 5.25l-5.25 -5.25zM438.4 750.7l5.25 5.25l-5.25 5.25l-5.25 -5.25zM438.7 745.8l5.25 5.25l-5.25 5.25l-5.25 -5.25zM439.5 750.5l5.25 5.25l-5.25 5.25l-5.25 -5.25zM440.6 745.1l5.25 5.25l-5.25 5.25l-5.25 -5.25zM441.0 739.1l5.25 5.25l-5.25 5.25l-5.25 -5.25zM441.9 744.0l5.25 5.25l-5.25 5.25l-5.25 -5.25zM442.2 740.7l5.25 5.25l-5.25 5.25l-5.25 -5.25zM442.9 740.4l5.25 5.25l-5.25 5.25l-5.25 -5.25zM443.9 734.7l5.25 5.25l-5.25 5.25l-5.25 -5.25zM444.8 733.8l5.25 5.25l-5.25 5.25l-5.25 -5.25zM445.6 733.6l5.25 5.25l-5.25 5.25l-5.25 -5.25zM445.9 733.6l5.25 5.25l-5.25 5.25l-5.25 -5.25zM446.8 731.0l5.25 5.25l-5.25 5.25l-5.25 -5.25zM447.3 728.9l5.25 5.25l-5.25 5.25l-5.25 -5.25zM448.1 729.4l5.25 5.25l-5.25 5.25l-5.25 -5.25zM449.1 727.4l5.25 5.25l-5.25 5.25l-5.25 -5.25zM449.8 732.6l5.25 5.25l-5.25 5.25l-5.25 -5.25zM450.0 735.3l5.25 5.25l-5.25 5.25l-5.25 -5.25zM450.7 730.1l5.25 5.25l-5.25 5.25l-5.25 -5.25zM451.7 730.7l5.25 5.25l-5.25 5.25l-5.25 -5.25zM452.2 734.6l5.25 5.25l-5.25 5.25l-5.25 -5.25zM452.7 737.1l5.25 5.25l-5.25 5.25l-5.25 -5.25zM453.5 736.6l5.25 5.25l-5.25 5.25l-5.25 -5.25zM454.6 738.5l5.25 5.25l-5.25 5.25l-5.25 -5.25zM454.8 740.3l5.25 5.25l-5.25 5.25l-5.25 -5.25zM456.0 738.3l5.25 5.25l-5.25 5.25l-5.25 -5.25zM456.7 740.6l5.25 5.25l-5.25 5.25l-5.25 -5.25zM457.5 739.8l5.25 5.25l-5.25 5.25l-5.25 -5.25zM458.2 742.9l5.25 5.25l-5.25 5.25l-5.25 -5.25zM458.7 743.4l5.25 5.25l-5.25 5.25l-5.25 -5.25zM459.5 742.8l5.25 5.25l-5.25 5.25l-5.25 -5.25zM460.0 745.3l5.25 5.25l-5.25 5.25l-5.25 -5.25zM460.8 747.4l5.25 5.25l-5.25 5.25l-5.25 -5.25zM461.2 746.6l5.25 5.25l-5.25 5.25l-5.25 -5.25zM462.4 752.9l5.25 5.25l-5.25 5.25l-5.25 -5.25zM463.1 752.2l5.25 5.25l-5.25 5.25l-5.25 -5.25zM463.8 756.2l5.25 5.25l-5.25 5.25l-5.25 -5.25zM464.4 760.6l5.25 5.25l-5.25 5.25l-5.25 -5.25zM465.1 757.6l5.25 5.25l-5.25 5.25l-5.25 -5.25zM465.7 760.6l5.25 5.25l-5.25 5.25l-5.25 -5.25zM466.5 762.6l5.25 5.25l-5.25 5.25l-5.25 -5.25zM466.7 764.8l5.25 5.25l-5.25 5.25l-5.25 -5.25zM467.8 764.4l5.25 5.25l-5.25 5.25l-5.25 -5.25zM468.7 760.9l5.25 5.25l-5.25 5.25l-5.25 -5.25zM469.1 766.9l5.25 5.25l-5.25 5.25l-5.25 -5.25zM469.9 765.6l5.25 5.25l-5.25 5.25l-5.25 -5.25zM470.4 765.7l5.25 5.25l-5.25 5.25l-5.25 -5.25zM471.4 766.6l5.25 5.25l-5.25 5.25l-5.25 -5.25zM472.0 767.1l5.25 5.25l-5.25 5.25l-5.25 -5.25zM472.4 769.2l5.25 5.25l-5.25 5.25l-5.25 -5.25zM473.3 766.0l5.25 5.25l-5.25 5.25l-5.25 -5.25zM473.8 768.4l5.25 5.25l-5.25 5.25l-5.25 -5.25zM474.4 767.7l5.25 5.25l-5.25 5.25l-5.25 -5.25zM475.2 768.9l5.25 5.25l-5.25 5.25l-5.25 -5.25zM475.9 772.3l5.25 5.25l-5.25 5.25l-5.25 -5.25zM477.0 769.8l5.25 5.25l-5.25 5.25l-5.25 -5.25zM477.6 775.5l5.25 5.25l-5.25 5.25l-5.25 -5.25zM478.3 779.1l5.25 5.25l-5.25 5.25l-5.25 -5.25zM479.0 776.2l5.25 5.25l-5.25 5.25l-5.25 -5.25zM479.5 774.2l5.25 5.25l-5.25 5.25l-5.25 -5.25zM480.0 774.2l5.25 5.25l-5.25 5.25l-5.25 -5.25zM481.1 775.2l5.25 5.25l-5.25 5.25l-5.25 -5.25zM481.9 774.5l5.25 5.25l-5.25 5.25l-5.25 -5.25zM482.6 775.4l5.25 5.25l-5.25 5.25l-5.25 -5.25zM483.4 775.5l5.25 5.25l-5.25 5.25l-5.25 -5.25zM483.8 780.5l5.25 5.25l-5.25 5.25l-5.25 -5.25zM484.2 772.6l5.25 5.25l-5.25 5.25l-5.25 -5.25zM485.4 775.7l5.25 5.25l-5.25 5.25l-5.25 -5.25zM486.0 776.2l5.25 5.25l-5.25 5.25l-5.25 -5.25zM486.8 779.4l5.25 5.25l-5.25 5.25l-5.25 -5.25zM487.4 780.6l5.25 5.25l-5.25 5.25l-5.25 -5.25zM488.2 782.8l5.25 5.25l-5.25 5.25l-5.25 -5.25zM488.9 781.3l5.25 5.25l-5.25 5.25l-5.25 -5.25zM489.6 784.1l5.25 5.25l-5.25 5.25l-5.25 -5.25zM490.0 780.6l5.25 5.25l-5.25 5.25l-5.25 -5.25zM490.7 783.3l5.25 5.25l-5.25 5.25l-5.25 -5.25zM491.8 782.5l5.25 5.25l-5.25 5.25l-5.25 -5.25zM492.3 780.7l5.25 5.25l-5.25 5.25l-5.25 -5.25zM492.7 782.9l5.25 5.25l-5.25 5.25l-5.25 -5.25zM493.4 781.6l5.25 5.25l-5.25 5.25l-5.25 -5.25zM494.4 783.0l5.25 5.25l-5.25 5.25l-5.25 -5.25zM494.9 777.5l5.25 5.25l-5.25 5.25l-5.25 -5.25zM496.0 783.1l5.25 5.25l-5.25 5.25l-5.25 -5.25zM496.2 783.1l5.25 5.25l-5.25 5.25l-5.25 -5.25zM496.8 783.7l5.25 5.25l-5.25 5.25l-5.25 -5.25zM497.7 779.8l5.25 5.25l-5.25 5.25l-5.25 -5.25zM498.5 784.0l5.25 5.25l-5.25 5.25l-5.25 -5.25zM499.2 777.9l5.25 5.25l-5.25 5.25l-5.25 -5.25zM499.6 778.3l5.25 5.25l-5.25 5.25l-5.25 -5.25zM500.8 777.4l5.25 5.25l-5.25 5.25l-5.25 -5.25zM501.5 779.0l5.25 5.25l-5.25 5.25l-5.25 -5.25zM502.2 776.6l5.25 5.25l-5.25 5.25l-5.25 -5.25zM502.8 774.8l5.25 5.25l-5.25 5.25l-5.25 -5.25zM503.5 777.1l5.25 5.25l-5.25 5.25l-5.25 -5.25zM504.3 774.7l5.25 5.25l-5.25 5.25l-5.25 -5.25zM504.6 778.5l5.25 5.25l-5.25 5.25l-5.25 -5.25zM505.5 774.7l5.25 5.25l-5.25 5.25l-5.25 -5.25zM506.0 772.7l5.25 5.25l-5.25 5.25l-5.25 -5.25zM507.2 772.6l5.25 5.25l-5.25 5.25l-5.25 -5.25zM507.9 774.1l5.25 5.25l-5.25 5.25l-5.25 -5.25zM508.2 775.8l5.25 5.25l-5.25 5.25l-5.25 -5.25zM508.9 778.2l5.25 5.25l-5.25 5.25l-5.25 -5.25zM509.5 776.1l5.25 5.25l-5.25 5.25l-5.25 -5.25zM510.3 772.7l5.25 5.25l-5.25 5.25l-5.25 -5.25zM511.2 777.3l5.25 5.25l-5.25 5.25l-5.25 -5.25zM512.0 779.5l5.25 5.25l-5.25 5.25l-5.25 -5.25zM512.8 769.6l5.25 5.25l-5.25 5.25l-5.25 -5.25zM513.0 773.0l5.25 5.25l-5.25 5.25l-5.25 -5.25zM513.9 776.8l5.25 5.25l-5.25 5.25l-5.25 -5.25zM514.9 774.0l5.25 5.25l-5.25 5.25l-5.25 -5.25zM515.1 773.6l5.25 5.25l-5.25 5.25l-5.25 -5.25zM515.7 770.6l5.25 5.25l-5.25 5.25l-5.25 -5.25zM516.9 768.1l5.25 5.25l-5.25 5.25l-5.25 -5.25zM517.6 774.0l5.25 5.25l-5.25 5.25l-5.25 -5.25zM518.1 772.3l5.25 5.25l-5.25 5.25l-5.25 -5.25zM518.9 770.0l5.25 5.25l-5.25 5.25l-5.25 -5.25zM519.2 771.5l5.25 5.25l-5.25 5.25l-5.25 -5.25zM520.3 766.7l5.25 5.25l-5.25 5.25l-5.25 -5.25zM520.7 769.5l5.25 5.25l-5.25 5.25l-5.25 -5.25zM521.5 768.8l5.25 5.25l-5.25 5.25l-5.25 -5.25zM522.5 764.6l5.25 5.25l-5.25 5.25l-5.25 -5.25zM523.0 763.8l5.25 5.25l-5.25 5.25l-5.25 -5.25zM523.6 764.3l5.25 5.25l-5.25 5.25l-5.25 -5.25zM524.3 763.0l5.25 5.25l-5.25 5.25l-5.25 -5.25zM525.3 767.2l5.25 5.25l-5.25 5.25l-5.25 -5.25zM525.5 762.0l5.25 5.25l-5.25 5.25l-5.25 -5.25zM526.8 762.6l5.25 5.25l-5.25 5.25l-5.25 -5.25zM527.3 759.6l5.25 5.25l-5.25 5.25l-5.25 -5.25zM527.6 753.2l5.25 5.25l-5.25 5.25l-5.25 -5.25zM528.7 758.5l5.25 5.25l-5.25 5.25l-5.25 -5.25zM529.4 758.7l5.25 5.25l-5.25 5.25l-5.25 -5.25zM529.8 759.7l5.25 5.25l-5.25 5.25l-5.25 -5.25zM530.5 757.5l5.25 5.25l-5.25 5.25l-5.25 -5.25zM531.4 757.8l5.25 5.25l-5.25 5.25l-5.25 -5.25zM532.1 759.1l5.25 5.25l-5.25 5.25l-5.25 -5.25zM532.7 755.9l5.25 5.25l-5.25 5.25l-5.25 -5.25zM533.7 761.0l5.25 5.25l-5.25 5.25l-5.25 -5.25zM533.9 756.4l5.25 5.25l-5.25 5.25l-5.25 -5.25zM535.0 756.6l5.25 5.25l-5.25 5.25l-5.25 -5.25zM535.7 756.9l5.25 5.25l-5.25 5.25l-5.25 -5.25zM536.1 755.7l5.25 5.25l-5.25 5.25l-5.25 -5.25zM537.1 753.8l5.25 5.25l-5.25 5.25l-5.25 -5.25zM537.5 751.8l5.25 5.25l-5.25 5.25l-5.25 -5.25zM538.6 758.4l5.25 5.25l-5.25 5.25l-5.25 -5.25zM539.4 758.7l5.25 5.25l-5.25 5.25l-5.25 -5.25zM539.7 752.2l5.25 5.25l-5.25 5.25l-5.25 -5.25zM540.7 752.3l5.25 5.25l-5.25 5.25l-5.25 -5.25zM540.9 754.4l5.25 5.25l-5.25 5.25l-5.25 -5.25zM542.1 752.9l5.25 5.25l-5.25 5.25l-5.25 -5.25zM542.5 750.8l5.25 5.25l-5.25 5.25l-5.25 -5.25zM543.1 750.8l5.25 5.25l-5.25 5.25l-5.25 -5.25zM544.1 747.7l5.25 5.25l-5.25 5.25l-5.25 -5.25zM544.5 751.1l5.25 5.25l-5.25 5.25l-5.25 -5.25zM545.4 748.5l5.25 5.25l-5.25 5.25l-5.25 -5.25zM546.3 747.7l5.25 5.25l-5.25 5.25l-5.25 -5.25zM546.6 748.5l5.25 5.25l-5.25 5.25l-5.25 -5.25zM547.4 751.7l5.25 5.25l-5.25 5.25l-5.25 -5.25zM548.2 746.6l5.25 5.25l-5.25 5.25l-5.25 -5.25zM548.9 745.6l5.25 5.25l-5.25 5.25l-5.25 -5.25zM549.7 743.8l5.25 5.25l-5.25 5.25l-5.25 -5.25zM550.1 740.8l5.25 5.25l-5.25 5.25l-5.25 -5.25zM550.9 746.4l5.25 5.25l-5.25 5.25l-5.25 -5.25zM551.7 747.8l5.25 5.25l-5.25 5.25l-5.25 -5.25zM552.3 748.2l5.25 5.25l-5.25 5.25l-5.25 -5.25zM552.8 746.6l5.25 5.25l-5.25 5.25l-5.25 -5.25zM554.0 747.9l5.25 5.25l-5.25 5.25l-5.25 -5.25zM554.7 745.9l5.25 5.25l-5.25 5.25l-5.25 -5.25zM555.0 737.6l5.25 5.25l-5.25 5.25l-5.25 -5.25zM556.0 745.3l5.25 5.25l-5.25 5.25l-5.25 -5.25zM556.3 742.6l5.25 5.25l-5.25 5.25l-5.25 -5.25zM557.1 740.4l5.25 5.25l-5.25 5.25l-5.25 -5.25zM558.1 742.4l5.25 5.25l-5.25 5.25l-5.25 -5.25zM558.7 740.1l5.25 5.25l-5.25 5.25l-5.25 -5.25zM559.2 737.8l5.25 5.25l-5.25 5.25l-5.25 -5.25zM559.9 736.0l5.25 5.25l-5.25 5.25l-5.25 -5.25zM561.0 730.5l5.25 5.25l-5.25 5.25l-5.25 -5.25zM561.7 730.2l5.25 5.25l-5.25 5.25l-5.25 -5.25zM562.0 731.9l5.25 5.25l-5.25 5.25l-5.25 -5.25zM562.9 731.1l5.25 5.25l-5.25 5.25l-5.25 -5.25zM563.7 733.4l5.25 5.25l-5.25 5.25l-5.25 -5.25zM564.5 728.8l5.25 5.25l-5.25 5.25l-5.25 -5.25zM565.2 723.7l5.25 5.25l-5.25 5.25l-5.25 -5.25zM565.9 727.5l5.25 5.25l-5.25 5.25l-5.25 -5.25zM566.3 727.0l5.25 5.25l-5.25 5.25l-5.25 -5.25zM566.8 725.3l5.25 5.25l-5.25 5.25l-5.25 -5.25zM568.1 726.2l5.25 5.25l-5.25 5.25l-5.25 -5.25zM568.4 723.2l5.25 5.25l-5.25 5.25l-5.25 -5.25zM569.5 720.9l5.25 5.25l-5.25 5.25l-5.25 -5.25zM570.1 726.1l5.25 5.25l-5.25 5.25l-5.25 -5.25zM570.5 727.6l5.25 5.25l-5.25 5.25l-5.25 -5.25zM571.4 721.9l5.25 5.25l-5.25 5.25l-5.25 -5.25zM572.3 729.9l5.25 5.25l-5.25 5.25l-5.25 -5.25zM572.7 729.9l5.25 5.25l-5.25 5.25l-5.25 -5.25zM573.1 731.0l5.25 5.25l-5.25 5.25l-5.25 -5.25zM574.1 732.4l5.25 5.25l-5.25 5.25l-5.25 -5.25zM575.0 734.3l5.25 5.25l-5.25 5.25l-5.25 -5.25zM575.6 734.3l5.25 5.25l-5.25 5.25l-5.25 -5.25zM576.2 735.7l5.25 5.25l-5.25 5.25l-5.25 -5.25zM576.6 733.5l5.25 5.25l-5.25 5.25l-5.25 -5.25zM577.5 737.3l5.25 5.25l-5.25 5.25l-5.25 -5.25zM578.1 734.0l5.25 5.25l-5.25 5.25l-5.25 -5.25zM578.8 737.5l5.25 5.25l-5.25 5.25l-5.25 -5.25zM579.4 739.7l5.25 5.25l-5.25 5.25l-5.25 -5.25zM580.6 738.2l5.25 5.25l-5.25 5.25l-5.25 -5.25zM581.2 742.7l5.25 5.25l-5.25 5.25l-5.25 -5.25zM581.6 745.9l5.25 5.25l-5.25 5.25l-5.25 -5.25zM582.4 742.2l5.25 5.25l-5.25 5.25l-5.25 -5.25zM583.3 746.6l5.25 5.25l-5.25 5.25l-5.25 -5.25zM584.0 744.5l5.25 5.25l-5.25 5.25l-5.25 -5.25zM584.6 750.3l5.25 5.25l-5.25 5.25l-5.25 -5.25zM585.5 750.7l5.25 5.25l-5.25 5.25l-5.25 -5.25zM585.9 755.2l5.25 5.25l-5.25 5.25l-5.25 -5.25zM586.4 752.5l5.25 5.25l-5.25 5.25l-5.25 -5.25zM587.7 752.7l5.25 5.25l-5.25 5.25l-5.25 -5.25zM587.9 756.6l5.25 5.25l-5.25 5.25l-5.25 -5.25zM588.5 757.8l5.25 5.25l-5.25 5.25l-5.25 -5.25zM589.7 759.8l5.25 5.25l-5.25 5.25l-5.25 -5.25zM589.9 761.3l5.25 5.25l-5.25 5.25l-5.25 -5.25zM590.9 761.7l5.25 5.25l-5.25 5.25l-5.25 -5.25zM591.8 763.8l5.25 5.25l-5.25 5.25l-5.25 -5.25zM592.4 768.3l5.25 5.25l-5.25 5.25l-5.25 -5.25zM592.9 765.7l5.25 5.25l-5.25 5.25l-5.25 -5.25zM593.9 770.7l5.25 5.25l-5.25 5.25l-5.25 -5.25zM594.5 768.6l5.25 5.25l-5.25 5.25l-5.25 -5.25zM595.3 773.1l5.25 5.25l-5.25 5.25l-5.25 -5.25zM595.8 765.8l5.25 5.25l-5.25 5.25l-5.25 -5.25zM596.4 773.9l5.25 5.25l-5.25 5.25l-5.25 -5.25zM597.0 769.3l5.25 5.25l-5.25 5.25l-5.25 -5.25zM597.6 770.5l5.25 5.25l-5.25 5.25l-5.25 -5.25zM598.4 771.5l5.25 5.25l-5.25 5.25l-5.25 -5.25zM599.5 773.5l5.25 5.25l-5.25 5.25l-5.25 -5.25zM599.9 775.8l5.25 5.25l-5.25 5.25l-5.25 -5.25zM600.6 777.2l5.25 5.25l-5.25 5.25l-5.25 -5.25zM601.6 777.3l5.25 5.25l-5.25 5.25l-5.25 -5.25zM602.4 773.5l5.25 5.25l-5.25 5.25l-5.25 -5.25zM602.9 772.3l5.25 5.25l-5.25 5.25l-5.25 -5.25zM603.5 774.8l5.25 5.25l-5.25 5.25l-5.25 -5.25zM604.2 777.6l5.25 5.25l-5.25 5.25l-5.25 -5.25zM604.7 780.9l5.25 5.25l-5.25 5.25l-5.25 -5.25zM605.7 777.6l5.25 5.25l-5.25 5.25l-5.25 -5.25zM606.1 778.0l5.25 5.25l-5.25 5.25l-5.25 -5.25zM607.0 782.4l5.25 5.25l-5.25 5.25l-5.25 -5.25zM607.9 788.1l5.25 5.25l-5.25 5.25l-5.25 -5.25zM608.0 796.0l5.25 5.25l-5.25 5.25l-5.25 -5.25zM607.5 782.0l5.25 5.25l-5.25 5.25l-5.25 -5.25z" fill="#4f81bd"/>
<path d="M377.8 749.0h5.4v5.4h-5.4zM378.4 744.7h5.4v5.4h-5.4zM379.6 733.6h5.4v5.4h-5.4zM379.9 730.1h5.4v5.4h-5.4zM380.6 727.1h5.4v5.4h-5.4zM381.2 723.9h5.4v5.4h-5.4zM382.0 720.2h5.4v5.4h-5.4zM383.0 720.9h5.4v5.4h-5.4zM383.6 716.6h5.4v5.4h-5.4zM384.2 718.1h5.4v5.4h-5.4zM384.7 717.7h5.4v5.4h-5.4zM385.6 715.4h5.4v5.4h-5.4zM386.4 717.5h5.4v5.4h-5.4zM387.0 712.3h5.4v5.4h-5.4zM388.0 711.5h5.4v5.4h-5.4zM388.5 710.9h5.4v5.4h-5.4zM389.2 711.0h5.4v5.4h-5.4zM389.7 708.0h5.4v5.4h-5.4zM390.9 712.9h5.4v5.4h-5.4zM391.1 712.6h5.4v5.4h-5.4zM392.0 707.8h5.4v5.4h-5.4zM392.5 711.3h5.4v5.4h-5.4zM393.5 709.9h5.4v5.4h-5.4zM393.9 708.2h5.4v5.4h-5.4zM395.1 711.1h5.4v5.4h-5.4zM395.6 708.2h5.4v5.4h-5.4zM396.1 707.8h5.4v5.4h-5.4zM397.2 703.8h5.4v5.4h-5.4zM397.6 705.7h5.4v5.4h-5.4zM398.3 705.7h5.4v5.4h-5.4zM398.9 705.5h5.4v5.4h-5.4zM399.7 703.1h5.4v5.4h-5.4zM400.2 704.6h5.4v5.4h-5.4zM401.2 703.9h5.4v5.4h-5.4zM402.1 706.7h5.4v5.4h-5.4zM402.3 706.1h5.4v5.4h-5.4zM403.4 709.1h5.4v5.4h-5.4zM404.1 708.7h5.4v5.4h-5.4zM404.5 712.5h5.4v5.4h-5.4zM405.3 710.3h5.4v5.4h-5.4zM406.0 707.5h5.4v5.4h-5.4zM406.7 709.1h5.4v5.4h-5.4zM407.3 706.0h5.4v5.4h-5.4zM408.0 707.1h5.4v5.4h-5.4zM408.6 703.3h5.4v5.4h-5.4zM409.7 704.2h5.4v5.4h-5.4zM410.5 705.9h5.4v5.4h-5.4zM411.1 704.7h5.4v5.4h-5.4zM411.7 700.5h5.4v5.4h-5.4zM412.1 702.0h5.4v5.4h-5.4zM413.2 697.9h5.4v5.4h-5.4zM414.0 700.2h5.4v5.4h-5.4zM414.1 702.8h5.4v5.4h-5.4zM415.3 698.9h5.4v5.4h-5.4zM415.9 699.6h5.4v5.4h-5.4zM416.6 703.9h5.4v5.4h-5.4zM416.9 699.0h5.4v5.4h-5.4zM418.2 700.1h5.4v5.4h-5.4zM418.8 699.5h5.4v5.4h-5.4zM419.4 698.9h5.4v5.4h-5.4zM420.2 700.4h5.4v5.4h-5.4zM420.5 700.4h5.4v5.4h-5.4zM421.5 697.0h5.4v5.4h-5.4zM422.3 699.8h5.4v5.4h-5.4zM423.0 697.5h5.4v5.4h-5.4zM423.8 697.3h5.4v5.4h-5.4zM424.3 693.0h5.4v5.4h-5.4zM424.8 692.1h5.4v5.4h-5.4zM425.3 693.9h5.4v5.4h-5.4zM426.1 694.2h5.4v5.4h-5.4zM427.1 696.3h5.4v5.4h-5.4zM427.7 694.3h5.4v5.4h-5.4zM428.3 692.4h5.4v5.4h-5.4zM429.2 694.2h5.4v5.4h-5.4zM429.9 694.2h5.4v5.4h-5.4zM430.8 694.1h5.4v5.4h-5.4zM431.4 692.3h5.4v5.4h-5.4zM432.0 692.0h5.4v5.4h-5.4zM432.9 696.3h5.4v5.4h-5.4zM433.2 692.3h5.4v5.4h-5.4zM434.0 690.2h5.4v5.4h-5.4zM434.9 689.9h5.4v5.4h-5.4zM435.4 688.7h5.4v5.4h-5.4zM435.9 685.4h5.4v5.4h-5.4zM436.6 689.3h5.4v5.4h-5.4zM437.4 687.3h5.4v5.4h-5.4zM437.9 687.2h5.4v5.4h-5.4zM438.9 689.2h5.4v5.4h-5.4zM439.9 687.2h5.4v5.4h-5.4zM440.2 687.2h5.4v5.4h-5.4zM440.8 686.7h5.4v5.4h-5.4zM441.5 684.3h5.4v5.4h-5.4zM442.4 689.2h5.4v5.4h-5.4zM443.1 689.0h5.4v5.4h-5.4zM443.9 687.5h5.4v5.4h-5.4zM444.4 693.2h5.4v5.4h-5.4zM445.2 690.0h5.4v5.4h-5.4zM445.7 694.0h5.4v5.4h-5.4zM446.8 691.9h5.4v5.4h-5.4zM447.3 693.9h5.4v5.4h-5.4zM447.9 693.0h5.4v5.4h-5.4zM448.6 692.8h5.4v5.4h-5.4zM449.6 691.2h5.4v5.4h-5.4zM450.1 693.0h5.4v5.4h-5.4zM450.8 692.5h5.4v5.4h-5.4zM451.8 697.2h5.4v5.4h-5.4zM452.4 698.0h5.4v5.4h-5.4zM452.8 696.8h5.4v5.4h-5.4zM453.7 697.3h5.4v5.4h-5.4zM454.3 697.0h5.4v5.4h-5.4zM455.0 699.1h5.4v5.4h-5.4zM455.8 699.2h5.4v5.4h-5.4zM456.5 698.2h5.4v5.4h-5.4zM457.2 700.6h5.4v5.4h-5.4zM457.6 700.4h5.4v5.4h-5.4zM458.2 702.2h5.4v5.4h-5.4zM458.9 700.5h5.4v5.4h-5.4zM459.7 698.2h5.4v5.4h-5.4zM460.9 700.6h5.4v5.4h-5.4zM461.4 699.9h5.4v5.4h-5.4zM461.9 696.5h5.4v5.4h-5.4zM462.6 698.7h5.4v5.4h-5.4zM463.2 697.5h5.4v5.4h-5.4zM464.0 700.5h5.4v5.4h-5.4zM464.7 697.7h5.4v5.4h-5.4zM465.7 700.7h5.4v5.4h-5.4zM466.3 700.3h5.4v5.4h-5.4zM466.9 700.3h5.4v5.4h-5.4zM467.6 703.3h5.4v5.4h-5.4zM468.2 702.1h5.4v5.4h-5.4zM468.9 706.7h5.4v5.4h-5.4zM469.7 706.6h5.4v5.4h-5.4zM470.6 704.5h5.4v5.4h-5.4zM471.3 705.0h5.4v5.4h-5.4zM472.1 706.1h5.4v5.4h-5.4zM472.6 706.1h5.4v5.4h-5.4zM473.3 706.2h5.4v5.4h-5.4zM474.2 707.7h5.4v5.4h-5.4zM474.7 712.1h5.4v5.4h-5.4zM475.4 708.3h5.4v5.4h-5.4zM475.8 708.4h5.4v5.4h-5.4zM477.0 710.2h5.4v5.4h-5.4zM477.3 707.5h5.4v5.4h-5.4zM478.0 709.8h5.4v5.4h-5.4zM479.0 710.2h5.4v5.4h-5.4zM479.3 711.4h5.4v5.4h-5.4zM480.1 714.0h5.4v5.4h-5.4zM481.1 712.1h5.4v5.4h-5.4zM481.3 710.2h5.4v5.4h-5.4zM482.5 707.0h5.4v5.4h-5.4zM482.9 708.5h5.4v5.4h-5.4zM483.9 708.9h5.4v5.4h-5.4zM484.5 710.0h5.4v5.4h-5.4zM485.2 711.6h5.4v5.4h-5.4zM485.8 712.6h5.4v5.4h-5.4zM486.3 709.4h5.4v5.4h-5.4zM487.4 711.6h5.4v5.4h-5.4zM488.2 711.3h5.4v5.4h-5.4zM488.5 714.6h5.4v5.4h-5.4zM489.3 709.7h5.4v5.4h-5.4zM489.8 710.5h5.4v5.4h-5.4zM490.8 708.3h5.4v5.4h-5.4zM491.3 707.3h5.4v5.4h-5.4zM491.9 709.7h5.4v5.4h-5.4zM492.9 706.4h5.4v5.4h-5.4zM493.8 705.7h5.4v5.4h-5.4zM494.2 706.9h5.4v5.4h-5.4zM495.1 708.1h5.4v5.4h-5.4zM495.3 706.1h5.4v5.4h-5.4zM496.4 704.8h5.4v5.4h-5.4zM497.2 708.2h5.4v5.4h-5.4zM497.6 705.1h5.4v5.4h-5.4zM498.4 707.1h5.4v5.4h-5.4zM499.2 707.9h5.4v5.4h-5.4zM499.6 707.1h5.4v5.4h-5.4zM500.8 705.1h5.4v5.4h-5.4zM501.0 710.4h5.4v5.4h-5.4zM501.7 709.4h5.4v5.4h-5.4zM502.8 709.4h5.4v5.4h-5.4zM503.3 709.7h5.4v5.4h-5.4zM504.1 708.7h5.4v5.4h-5.4zM504.9 713.8h5.4v5.4h-5.4zM505.2 709.7h5.4v5.4h-5.4zM506.0 709.1h5.4v5.4h-5.4zM507.0 707.1h5.4v5.4h-5.4zM507.4 709.1h5.4v5.4h-5.4zM508.2 710.6h5.4v5.4h-5.4zM509.0 708.3h5.4v5.4h-5.4zM509.9 703.7h5.4v5.4h-5.4zM510.4 706.7h5.4v5.4h-5.4zM510.8 706.5h5.4v5.4h-5.4zM511.7 705.9h5.4v5.4h-5.4zM512.4 703.2h5.4v5.4h-5.4zM513.2 706.4h5.4v5.4h-5.4zM513.6 700.8h5.4v5.4h-5.4zM514.3 703.3h5.4v5.4h-5.4zM515.4 706.4h5.4v5.4h-5.4zM515.8 705.3h5.4v5.4h-5.4zM516.4 703.7h5.4v5.4h-5.4zM517.4 704.9h5.4v5.4h-5.4zM517.7 703.2h5.4v5.4h-5.4zM518.7 703.8h5.4v5.4h-5.4zM519.2 701.6h5.4v5.4h-5.4zM520.4 704.7h5.4v5.4h-5.4zM520.9 702.1h5.4v5.4h-5.4zM521.3 701.8h5.4v5.4h-5.4zM521.9 699.6h5.4v5.4h-5.4zM522.8 700.6h5.4v5.4h-5.4zM523.7 698.1h5.4v5.4h-5.4zM524.3 698.4h5.4v5.4h-5.4zM524.9 696.3h5.4v5.4h-5.4zM525.6 696.2h5.4v5.4h-5.4zM526.2 697.7h5.4v5.4h-5.4zM526.8 698.5h5.4v5.4h-5.4zM527.7 699.7h5.4v5.4h-5.4zM528.3 697.8h5.4v5.4h-5.4zM529.4 698.2h5.4v5.4h-5.4zM529.8 696.1h5.4v5.4h-5.4zM530.8 697.7h5.4v5.4h-5.4zM531.4 698.0h5.4v5.4h-5.4zM532.1 694.4h5.4v5.4h-5.4zM532.6 695.2h5.4v5.4h-5.4zM533.4 697.8h5.4v5.4h-5.4zM534.1 695.0h5.4v5.4h-5.4zM535.0 696.5h5.4v5.4h-5.4zM535.2 696.5h5.4v5.4h-5.4zM536.1 695.0h5.4v5.4h-5.4zM537.0 697.8h5.4v5.4h-5.4zM537.5 695.0h5.4v5.4h-5.4zM538.5 695.4h5.4v5.4h-5.4zM539.1 697.9h5.4v5.4h-5.4zM539.7 693.8h5.4v5.4h-5.4zM540.3 692.2h5.4v5.4h-5.4zM541.4 690.1h5.4v5.4h-5.4zM542.1 692.7h5.4v5.4h-5.4zM542.3 693.7h5.4v5.4h-5.4zM543.5 692.7h5.4v5.4h-5.4zM543.8 690.1h5.4v5.4h-5.4zM544.8 691.3h5.4v5.4h-5.4zM545.0 686.6h5.4v5.4h-5.4zM546.3 689.9h5.4v5.4h-5.4zM546.6 690.3h5.4v5.4h-5.4zM547.5 688.4h5.4v5.4h-5.4zM548.4 689.6h5.4v5.4h-5.4zM548.8 689.3h5.4v5.4h-5.4zM549.5 686.6h5.4v5.4h-5.4zM550.0 683.8h5.4v5.4h-5.4zM551.0 680.4h5.4v5.4h-5.4zM551.4 685.2h5.4v5.4h-5.4zM552.2 681.2h5.4v5.4h-5.4zM553.0 683.8h5.4v5.4h-5.4zM553.5 684.5h5.4v5.4h-5.4zM554.5 683.0h5.4v5.4h-5.4zM555.3 683.3h5.4v5.4h-5.4zM555.7 682.9h5.4v5.4h-5.4zM556.3 683.9h5.4v5.4h-5.4zM557.3 680.2h5.4v5.4h-5.4zM558.0 679.5h5.4v5.4h-5.4zM558.8 684.6h5.4v5.4h-5.4zM559.5 680.6h5.4v5.4h-5.4zM559.8 680.7h5.4v5.4h-5.4zM560.5 679.5h5.4v5.4h-5.4zM561.4 677.7h5.4v5.4h-5.4zM562.0 678.5h5.4v5.4h-5.4zM563.0 676.7h5.4v5.4h-5.4zM563.6 679.0h5.4v5.4h-5.4zM564.5 680.7h5.4v5.4h-5.4zM564.8 681.9h5.4v5.4h-5.4zM565.8 681.6h5.4v5.4h-5.4zM566.1 681.1h5.4v5.4h-5.4zM567.0 684.6h5.4v5.4h-5.4zM567.6 683.7h5.4v5.4h-5.4zM568.7 684.5h5.4v5.4h-5.4zM568.9 686.7h5.4v5.4h-5.4zM569.6 687.6h5.4v5.4h-5.4zM570.6 687.2h5.4v5.4h-5.4zM571.5 692.2h5.4v5.4h-5.4zM571.8 688.9h5.4v5.4h-5.4zM572.7 689.4h5.4v5.4h-5.4zM573.3 691.6h5.4v5.4h-5.4zM573.9 692.4h5.4v5.4h-5.4zM574.4 693.0h5.4v5.4h-5.4zM575.7 694.2h5.4v5.4h-5.4zM575.9 693.3h5.4v5.4h-5.4zM576.9 694.3h5.4v5.4h-5.4zM577.5 695.4h5.4v5.4h-5.4zM578.2 694.9h5.4v5.4h-5.4zM578.7 695.0h5.4v5.4h-5.4zM579.4 692.8h5.4v5.4h-5.4zM580.5 694.5h5.4v5.4h-5.4zM580.7 695.3h5.4v5.4h-5.4zM581.9 697.6h5.4v5.4h-5.4zM582.5 698.8h5.4v5.4h-5.4zM583.2 696.8h5.4v5.4h-5.4zM583.5 694.0h5.4v5.4h-5.4zM584.3 698.2h5.4v5.4h-5.4zM584.9 697.2h5.4v5.4h-5.4zM585.8 702.6h5.4v5.4h-5.4zM586.4 700.7h5.4v5.4h-5.4zM587.4 702.8h5.4v5.4h-5.4zM588.2 700.9h5.4v5.4h-5.4zM588.6 700.0h5.4v5.4h-5.4zM589.2 698.9h5.4v5.4h-5.4zM590.2 699.9h5.4v5.4h-5.4zM590.6 700.2h5.4v5.4h-5.4zM591.4 700.7h5.4v5.4h-5.4zM592.0 702.2h5.4v5.4h-5.4zM592.8 698.2h5.4v5.4h-5.4zM593.6 699.9h5.4v5.4h-5.4zM594.1 703.5h5.4v5.4h-5.4zM594.9 702.5h5.4v5.4h-5.4zM595.8 706.2h5.4v5.4h-5.4zM596.3 703.6h5.4v5.4h-5.4zM596.9 700.0h5.4v5.4h-5.4zM597.7 702.9h5.4v5.4h-5.4zM598.6 704.3h5.4v5.4h-5.4zM599.4 702.8h5.4v5.4h-5.4zM599.8 706.0h5.4v5.4h-5.4zM600.8 706.5h5.4v5.4h-5.4zM601.6 707.3h5.4v5.4h-5.4zM601.8 704.6h5.4v5.4h-5.4zM602.9 705.8h5.4v5.4h-5.4zM603.2 711.0h5.4v5.4h-5.4zM604.3 714.6h5.4v5.4h-5.4zM604.7 715.9h5.4v5.4h-5.4zM605.3 726.7h5.4v5.4h-5.4zM604.8 718.6h5.4v5.4h-5.4z" fill="none" stroke="#c0504d" stroke-width="1.7"/>
<path d="M455.2 814.1h5.2v5.2h-5.2z" fill="none" stroke="#c0504d" stroke-width="1.4"/>
<path d="M457.8 841.1l4.15 4.15l-4.15 4.15l-4.15 -4.15z" fill="#4f81bd"/>
<text x="471.3" y="826.7" font-family="Liberation Serif" font-size="28" style="white-space:pre">N=  0</text>
<text x="471.3" y="855.5" font-family="Liberation Serif" font-size="28" text-anchor="start">N=30</text>
<path d="M673.9 646.7 H925.5 V858.8 H673.9 Z" fill="none" stroke="#000" stroke-width="1.8" stroke-linejoin="miter"/>
<path d="M664.9 674.8 H673.9 M664.9 711.8 H673.9 M664.9 748.3 H673.9 M664.9 785 H673.9 M664.9 821.4 H673.9 M664.9 858.8 H673.9 M673.9 858.8 V866.8 M757.7666666666667 858.8 V866.8 M841.6333333333333 858.8 V866.8 M925.5 858.8 V866.8 M687.8777777777777 858.8 V864.8 M701.8555555555555 858.8 V864.8 M715.8333333333333 858.8 V864.8 M729.8111111111111 858.8 V864.8 M743.7888888888889 858.8 V864.8 M771.7444444444444 858.8 V864.8 M785.7222222222222 858.8 V864.8 M799.7 858.8 V864.8 M813.6777777777777 858.8 V864.8 M827.6555555555556 858.8 V864.8 M855.6111111111111 858.8 V864.8 M869.588888888889 858.8 V864.8 M883.5666666666666 858.8 V864.8 M897.5444444444445 858.8 V864.8 M911.5222222222222 858.8 V864.8" fill="none" stroke="#000" stroke-width="1.8"/>
<text x="673.9" y="909.6" font-family="Liberation Serif" font-size="29" text-anchor="middle">0</text>
<text x="757.7666666666667" y="909.6" font-family="Liberation Serif" font-size="29" text-anchor="middle">120</text>
<text x="841.6333333333333" y="909.6" font-family="Liberation Serif" font-size="29" text-anchor="middle">240</text>
<text x="925.5" y="909.6" font-family="Liberation Serif" font-size="29" text-anchor="middle">360</text>
<text x="810" y="945.5" font-family="Liberation Serif" font-size="28" font-weight="bold" text-anchor="middle">Degree</text>
<path d="M685.1 801.3l5.25 5.25l-5.25 5.25l-5.25 -5.25zM686.2 799.9l5.25 5.25l-5.25 5.25l-5.25 -5.25zM686.4 796.4l5.25 5.25l-5.25 5.25l-5.25 -5.25zM687.5 794.9l5.25 5.25l-5.25 5.25l-5.25 -5.25zM688.4 790.4l5.25 5.25l-5.25 5.25l-5.25 -5.25zM688.7 788.1l5.25 5.25l-5.25 5.25l-5.25 -5.25zM689.2 790.8l5.25 5.25l-5.25 5.25l-5.25 -5.25zM690.4 787.5l5.25 5.25l-5.25 5.25l-5.25 -5.25zM690.6 783.8l5.25 5.25l-5.25 5.25l-5.25 -5.25zM691.8 785.8l5.25 5.25l-5.25 5.25l-5.25 -5.25zM692.0 783.8l5.25 5.25l-5.25 5.25l-5.25 -5.25zM692.9 782.7l5.25 5.25l-5.25 5.25l-5.25 -5.25zM693.9 779.4l5.25 5.25l-5.25 5.25l-5.25 -5.25zM694.5 778.9l5.25 5.25l-5.25 5.25l-5.25 -5.25zM695.0 776.9l5.25 5.25l-5.25 5.25l-5.25 -5.25zM695.5 778.9l5.25 5.25l-5.25 5.25l-5.25 -5.25zM696.5 774.9l5.25 5.25l-5.25 5.25l-5.25 -5.25zM697.2 774.7l5.25 5.25l-5.25 5.25l-5.25 -5.25zM698.0 777.7l5.25 5.25l-5.25 5.25l-5.25 -5.25zM698.8 773.7l5.25 5.25l-5.25 5.25l-5.25 -5.25zM699.4 775.6l5.25 5.25l-5.25 5.25l-5.25 -5.25zM699.9 774.9l5.25 5.25l-5.25 5.25l-5.25 -5.25zM701.0 775.2l5.25 5.25l-5.25 5.25l-5.25 -5.25zM701.7 771.0l5.25 5.25l-5.25 5.25l-5.25 -5.25zM702.2 775.8l5.25 5.25l-5.25 5.25l-5.25 -5.25zM702.8 770.2l5.25 5.25l-5.25 5.25l-5.25 -5.25zM703.8 774.9l5.25 5.25l-5.25 5.25l-5.25 -5.25zM704.3 769.5l5.25 5.25l-5.25 5.25l-5.25 -5.25zM705.0 774.4l5.25 5.25l-5.25 5.25l-5.25 -5.25zM705.6 774.9l5.25 5.25l-5.25 5.25l-5.25 -5.25zM706.4 774.6l5.25 5.25l-5.25 5.25l-5.25 -5.25zM706.9 771.5l5.25 5.25l-5.25 5.25l-5.25 -5.25zM707.6 771.4l5.25 5.25l-5.25 5.25l-5.25 -5.25zM708.4 775.3l5.25 5.25l-5.25 5.25l-5.25 -5.25zM709.4 772.0l5.25 5.25l-5.25 5.25l-5.25 -5.25zM709.8 773.5l5.25 5.25l-5.25 5.25l-5.25 -5.25zM710.3 769.2l5.25 5.25l-5.25 5.25l-5.25 -5.25zM711.1 771.5l5.25 5.25l-5.25 5.25l-5.25 -5.25zM711.9 771.8l5.25 5.25l-5.25 5.25l-5.25 -5.25zM712.6 764.5l5.25 5.25l-5.25 5.25l-5.25 -5.25zM713.1 768.5l5.25 5.25l-5.25 5.25l-5.25 -5.25zM714.0 769.8l5.25 5.25l-5.25 5.25l-5.25 -5.25zM714.6 771.2l5.25 5.25l-5.25 5.25l-5.25 -5.25zM715.5 765.3l5.25 5.25l-5.25 5.25l-5.25 -5.25zM716.2 765.8l5.25 5.25l-5.25 5.25l-5.25 -5.25zM716.7 768.0l5.25 5.25l-5.25 5.25l-5.25 -5.25zM717.5 765.9l5.25 5.25l-5.25 5.25l-5.25 -5.25zM718.5 762.2l5.25 5.25l-5.25 5.25l-5.25 -5.25zM719.0 766.1l5.25 5.25l-5.25 5.25l-5.25 -5.25zM719.4 763.1l5.25 5.25l-5.25 5.25l-5.25 -5.25zM720.4 760.2l5.25 5.25l-5.25 5.25l-5.25 -5.25zM721.1 765.1l5.25 5.25l-5.25 5.25l-5.25 -5.25zM721.6 765.4l5.25 5.25l-5.25 5.25l-5.25 -5.25zM722.7 764.3l5.25 5.25l-5.25 5.25l-5.25 -5.25zM722.8 759.9l5.25 5.25l-5.25 5.25l-5.25 -5.25zM723.8 758.4l5.25 5.25l-5.25 5.25l-5.25 -5.25zM724.6 758.8l5.25 5.25l-5.25 5.25l-5.25 -5.25zM725.2 751.8l5.25 5.25l-5.25 5.25l-5.25 -5.25zM725.8 750.9l5.25 5.25l-5.25 5.25l-5.25 -5.25zM726.5 753.0l5.25 5.25l-5.25 5.25l-5.25 -5.25zM727.6 748.9l5.25 5.25l-5.25 5.25l-5.25 -5.25zM728.0 751.7l5.25 5.25l-5.25 5.25l-5.25 -5.25zM728.9 749.5l5.25 5.25l-5.25 5.25l-5.25 -5.25zM729.5 749.4l5.25 5.25l-5.25 5.25l-5.25 -5.25zM730.1 743.9l5.25 5.25l-5.25 5.25l-5.25 -5.25zM730.8 745.1l5.25 5.25l-5.25 5.25l-5.25 -5.25zM731.7 746.4l5.25 5.25l-5.25 5.25l-5.25 -5.25zM732.4 740.6l5.25 5.25l-5.25 5.25l-5.25 -5.25zM732.9 744.4l5.25 5.25l-5.25 5.25l-5.25 -5.25zM733.8 743.9l5.25 5.25l-5.25 5.25l-5.25 -5.25zM734.5 742.3l5.25 5.25l-5.25 5.25l-5.25 -5.25zM735.1 745.2l5.25 5.25l-5.25 5.25l-5.25 -5.25zM735.6 746.0l5.25 5.25l-5.25 5.25l-5.25 -5.25zM736.5 741.2l5.25 5.25l-5.25 5.25l-5.25 -5.25zM737.1 737.8l5.25 5.25l-5.25 5.25l-5.25 -5.25zM738.0 735.8l5.25 5.25l-5.25 5.25l-5.25 -5.25zM738.5 734.1l5.25 5.25l-5.25 5.25l-5.25 -5.25zM739.3 733.4l5.25 5.25l-5.25 5.25l-5.25 -5.25zM739.7 735.2l5.25 5.25l-5.25 5.25l-5.25 -5.25zM740.7 730.0l5.25 5.25l-5.25 5.25l-5.25 -5.25zM741.1 730.9l5.25 5.25l-5.25 5.25l-5.25 -5.25zM741.9 730.4l5.25 5.25l-5.25 5.25l-5.25 -5.25zM742.7 730.3l5.25 5.25l-5.25 5.25l-5.25 -5.25zM743.5 730.1l5.25 5.25l-5.25 5.25l-5.25 -5.25zM744.3 725.1l5.25 5.25l-5.25 5.25l-5.25 -5.25zM744.9 726.8l5.25 5.25l-5.25 5.25l-5.25 -5.25zM745.3 729.7l5.25 5.25l-5.25 5.25l-5.25 -5.25zM746.4 729.6l5.25 5.25l-5.25 5.25l-5.25 -5.25zM746.6 725.7l5.25 5.25l-5.25 5.25l-5.25 -5.25zM747.4 733.0l5.25 5.25l-5.25 5.25l-5.25 -5.25zM748.4 733.5l5.25 5.25l-5.25 5.25l-5.25 -5.25zM749.1 734.0l5.25 5.25l-5.25 5.25l-5.25 -5.25zM749.7 736.4l5.25 5.25l-5.25 5.25l-5.25 -5.25zM750.5 735.7l5.25 5.25l-5.25 5.25l-5.25 -5.25zM751.3 736.7l5.25 5.25l-5.25 5.25l-5.25 -5.25zM752.0 736.8l5.25 5.25l-5.25 5.25l-5.25 -5.25zM752.5 736.5l5.25 5.25l-5.25 5.25l-5.25 -5.25zM752.9 740.2l5.25 5.25l-5.25 5.25l-5.25 -5.25zM753.9 739.8l5.25 5.25l-5.25 5.25l-5.25 -5.25zM754.9 741.1l5.25 5.25l-5.25 5.25l-5.25 -5.25zM755.2 741.5l5.25 5.25l-5.25 5.25l-5.25 -5.25zM756.3 741.2l5.25 5.25l-5.25 5.25l-5.25 -5.25zM756.5 743.5l5.25 5.25l-5.25 5.25l-5.25 -5.25zM757.3 745.0l5.25 5.25l-5.25 5.25l-5.25 -5.25zM758.0 747.8l5.25 5.25l-5.25 5.25l-5.25 -5.25zM758.8 749.4l5.25 5.25l-5.25 5.25l-5.25 -5.25zM759.5 751.2l5.25 5.25l-5.25 5.25l-5.25 -5.25zM760.0 748.4l5.25 5.25l-5.25 5.25l-5.25 -5.25zM761.0 754.4l5.25 5.25l-5.25 5.25l-5.25 -5.25zM761.5 754.9l5.25 5.25l-5.25 5.25l-5.25 -5.25zM762.6 754.5l5.25 5.25l-5.25 5.25l-5.25 -5.25zM762.7 750.3l5.25 5.25l-5.25 5.25l-5.25 -5.25zM763.5 755.2l5.25 5.25l-5.25 5.25l-5.25 -5.25zM764.1 756.5l5.25 5.25l-5.25 5.25l-5.25 -5.25zM765.0 755.6l5.25 5.25l-5.25 5.25l-5.25 -5.25zM765.7 756.0l5.25 5.25l-5.25 5.25l-5.25 -5.25zM766.4 761.9l5.25 5.25l-5.25 5.25l-5.25 -5.25zM767.0 758.9l5.25 5.25l-5.25 5.25l-5.25 -5.25zM767.9 761.7l5.25 5.25l-5.25 5.25l-5.25 -5.25zM768.7 760.7l5.25 5.25l-5.25 5.25l-5.25 -5.25zM769.3 761.5l5.25 5.25l-5.25 5.25l-5.25 -5.25zM769.8 765.8l5.25 5.25l-5.25 5.25l-5.25 -5.25zM770.6 770.1l5.25 5.25l-5.25 5.25l-5.25 -5.25zM771.2 764.7l5.25 5.25l-5.25 5.25l-5.25 -5.25zM772.3 769.8l5.25 5.25l-5.25 5.25l-5.25 -5.25zM772.9 767.3l5.25 5.25l-5.25 5.25l-5.25 -5.25zM773.3 770.6l5.25 5.25l-5.25 5.25l-5.25 -5.25zM774.2 769.0l5.25 5.25l-5.25 5.25l-5.25 -5.25zM775.0 771.3l5.25 5.25l-5.25 5.25l-5.25 -5.25zM775.4 775.8l5.25 5.25l-5.25 5.25l-5.25 -5.25zM776.3 767.2l5.25 5.25l-5.25 5.25l-5.25 -5.25zM777.3 770.5l5.25 5.25l-5.25 5.25l-5.25 -5.25zM777.7 768.8l5.25 5.25l-5.25 5.25l-5.25 -5.25zM778.3 772.2l5.25 5.25l-5.25 5.25l-5.25 -5.25zM779.2 772.3l5.25 5.25l-5.25 5.25l-5.25 -5.25zM780.0 773.8l5.25 5.25l-5.25 5.25l-5.25 -5.25zM780.7 772.0l5.25 5.25l-5.25 5.25l-5.25 -5.25zM781.2 772.2l5.25 5.25l-5.25 5.25l-5.25 -5.25zM781.7 775.1l5.25 5.25l-5.25 5.25l-5.25 -5.25zM782.8 777.0l5.25 5.25l-5.25 5.25l-5.25 -5.25zM783.1 771.2l5.25 5.25l-5.25 5.25l-5.25 -5.25zM784.0 774.7l5.25 5.25l-5.25 5.25l-5.25 -5.25zM784.6 774.4l5.25 5.25l-5.25 5.25l-5.25 -5.25zM785.4 775.3l5.25 5.25l-5.25 5.25l-5.25 -5.25zM786.1 776.7l5.25 5.25l-5.25 5.25l-5.25 -5.25zM786.7 776.5l5.25 5.25l-5.25 5.25l-5.25 -5.25zM787.3 774.3l5.25 5.25l-5.25 5.25l-5.25 -5.25zM788.2 778.6l5.25 5.25l-5.25 5.25l-5.25 -5.25zM788.9 780.4l5.25 5.25l-5.25 5.25l-5.25 -5.25zM789.5 779.3l5.25 5.25l-5.25 5.25l-5.25 -5.25zM790.2 772.8l5.25 5.25l-5.25 5.25l-5.25 -5.25zM791.1 777.3l5.25 5.25l-5.25 5.25l-5.25 -5.25zM791.4 778.1l5.25 5.25l-5.25 5.25l-5.25 -5.25zM792.3 776.3l5.25 5.25l-5.25 5.25l-5.25 -5.25zM793.4 776.1l5.25 5.25l-5.25 5.25l-5.25 -5.25zM793.6 777.9l5.25 5.25l-5.25 5.25l-5.25 -5.25zM794.3 779.9l5.25 5.25l-5.25 5.25l-5.25 -5.25zM795.1 779.0l5.25 5.25l-5.25 5.25l-5.25 -5.25zM796.1 775.6l5.25 5.25l-5.25 5.25l-5.25 -5.25zM796.6 778.9l5.25 5.25l-5.25 5.25l-5.25 -5.25zM797.3 780.3l5.25 5.25l-5.25 5.25l-5.25 -5.25zM798.2 780.0l5.25 5.25l-5.25 5.25l-5.25 -5.25zM798.8 778.4l5.25 5.25l-5.25 5.25l-5.25 -5.25zM799.2 778.2l5.25 5.25l-5.25 5.25l-5.25 -5.25zM800.1 776.2l5.25 5.25l-5.25 5.25l-5.25 -5.25zM800.7 778.6l5.25 5.25l-5.25 5.25l-5.25 -5.25zM801.4 778.9l5.25 5.25l-5.25 5.25l-5.25 -5.25zM802.3 777.3l5.25 5.25l-5.25 5.25l-5.25 -5.25zM802.7 781.8l5.25 5.25l-5.25 5.25l-5.25 -5.25zM803.3 777.2l5.25 5.25l-5.25 5.25l-5.25 -5.25zM804.0 775.3l5.25 5.25l-5.25 5.25l-5.25 -5.25zM805.0 775.0l5.25 5.25l-5.25 5.25l-5.25 -5.25zM805.7 775.2l5.25 5.25l-5.25 5.25l-5.25 -5.25zM806.6 775.4l5.25 5.25l-5.25 5.25l-5.25 -5.25zM807.2 779.7l5.25 5.25l-5.25 5.25l-5.25 -5.25zM808.0 777.0l5.25 5.25l-5.25 5.25l-5.25 -5.25zM808.7 774.8l5.25 5.25l-5.25 5.25l-5.25 -5.25zM809.1 774.1l5.25 5.25l-5.25 5.25l-5.25 -5.25zM810.2 776.4l5.25 5.25l-5.25 5.25l-5.25 -5.25zM810.6 774.7l5.25 5.25l-5.25 5.25l-5.25 -5.25zM811.3 773.5l5.25 5.25l-5.25 5.25l-5.25 -5.25zM812.2 772.3l5.25 5.25l-5.25 5.25l-5.25 -5.25zM812.7 773.4l5.25 5.25l-5.25 5.25l-5.25 -5.25zM813.6 774.2l5.25 5.25l-5.25 5.25l-5.25 -5.25zM814.1 771.0l5.25 5.25l-5.25 5.25l-5.25 -5.25zM815.1 770.1l5.25 5.25l-5.25 5.25l-5.25 -5.25zM815.5 771.7l5.25 5.25l-5.25 5.25l-5.25 -5.25zM816.2 771.3l5.25 5.25l-5.25 5.25l-5.25 -5.25zM816.8 771.7l5.25 5.25l-5.25 5.25l-5.25 -5.25zM817.3 769.8l5.25 5.25l-5.25 5.25l-5.25 -5.25zM818.2 772.5l5.25 5.25l-5.25 5.25l-5.25 -5.25zM818.8 776.4l5.25 5.25l-5.25 5.25l-5.25 -5.25zM819.9 773.3l5.25 5.25l-5.25 5.25l-5.25 -5.25zM820.4 771.1l5.25 5.25l-5.25 5.25l-5.25 -5.25zM821.0 773.1l5.25 5.25l-5.25 5.25l-5.25 -5.25zM822.1 771.8l5.25 5.25l-5.25 5.25l-5.25 -5.25zM822.2 770.2l5.25 5.25l-5.25 5.25l-5.25 -5.25zM823.3 776.0l5.25 5.25l-5.25 5.25l-5.25 -5.25zM823.8 772.7l5.25 5.25l-5.25 5.25l-5.25 -5.25zM824.6 770.0l5.25 5.25l-5.25 5.25l-5.25 -5.25zM825.2 768.8l5.25 5.25l-5.25 5.25l-5.25 -5.25zM826.2 765.5l5.25 5.25l-5.25 5.25l-5.25 -5.25zM826.6 764.6l5.25 5.25l-5.25 5.25l-5.25 -5.25zM827.6 763.4l5.25 5.25l-5.25 5.25l-5.25 -5.25zM828.1 764.8l5.25 5.25l-5.25 5.25l-5.25 -5.25zM828.7 769.8l5.25 5.25l-5.25 5.25l-5.25 -5.25zM829.4 763.5l5.25 5.25l-5.25 5.25l-5.25 -5.25zM830.2 769.6l5.25 5.25l-5.25 5.25l-5.25 -5.25zM831.1 766.0l5.25 5.25l-5.25 5.25l-5.25 -5.25zM831.7 763.9l5.25 5.25l-5.25 5.25l-5.25 -5.25zM832.2 764.3l5.25 5.25l-5.25 5.25l-5.25 -5.25zM833.1 765.2l5.25 5.25l-5.25 5.25l-5.25 -5.25zM833.9 766.7l5.25 5.25l-5.25 5.25l-5.25 -5.25zM834.6 765.9l5.25 5.25l-5.25 5.25l-5.25 -5.25zM834.9 760.8l5.25 5.25l-5.25 5.25l-5.25 -5.25zM835.6 762.6l5.25 5.25l-5.25 5.25l-5.25 -5.25zM836.7 766.7l5.25 5.25l-5.25 5.25l-5.25 -5.25zM837.0 762.4l5.25 5.25l-5.25 5.25l-5.25 -5.25zM838.0 759.6l5.25 5.25l-5.25 5.25l-5.25 -5.25zM838.6 760.6l5.25 5.25l-5.25 5.25l-5.25 -5.25zM839.1 759.4l5.25 5.25l-5.25 5.25l-5.25 -5.25zM839.7 760.5l5.25 5.25l-5.25 5.25l-5.25 -5.25zM840.6 759.3l5.25 5.25l-5.25 5.25l-5.25 -5.25zM841.6 763.0l5.25 5.25l-5.25 5.25l-5.25 -5.25zM842.2 757.8l5.25 5.25l-5.25 5.25l-5.25 -5.25zM842.7 759.5l5.25 5.25l-5.25 5.25l-5.25 -5.25zM843.6 754.9l5.25 5.25l-5.25 5.25l-5.25 -5.25zM844.0 754.4l5.25 5.25l-5.25 5.25l-5.25 -5.25zM844.7 750.5l5.25 5.25l-5.25 5.25l-5.25 -5.25zM845.5 751.9l5.25 5.25l-5.25 5.25l-5.25 -5.25zM846.6 750.0l5.25 5.25l-5.25 5.25l-5.25 -5.25zM847.1 749.2l5.25 5.25l-5.25 5.25l-5.25 -5.25zM847.6 750.1l5.25 5.25l-5.25 5.25l-5.25 -5.25zM848.6 747.3l5.25 5.25l-5.25 5.25l-5.25 -5.25zM849.3 745.5l5.25 5.25l-5.25 5.25l-5.25 -5.25zM849.8 749.3l5.25 5.25l-5.25 5.25l-5.25 -5.25zM850.3 750.4l5.25 5.25l-5.25 5.25l-5.25 -5.25zM851.3 748.3l5.25 5.25l-5.25 5.25l-5.25 -5.25zM851.6 744.5l5.25 5.25l-5.25 5.25l-5.25 -5.25zM852.7 749.8l5.25 5.25l-5.25 5.25l-5.25 -5.25zM853.1 742.8l5.25 5.25l-5.25 5.25l-5.25 -5.25zM854.0 742.8l5.25 5.25l-5.25 5.25l-5.25 -5.25zM854.5 741.5l5.25 5.25l-5.25 5.25l-5.25 -5.25zM855.5 745.4l5.25 5.25l-5.25 5.25l-5.25 -5.25zM856.2 745.0l5.25 5.25l-5.25 5.25l-5.25 -5.25zM856.8 740.8l5.25 5.25l-5.25 5.25l-5.25 -5.25zM857.4 737.3l5.25 5.25l-5.25 5.25l-5.25 -5.25zM858.4 737.0l5.25 5.25l-5.25 5.25l-5.25 -5.25zM858.8 736.2l5.25 5.25l-5.25 5.25l-5.25 -5.25zM859.3 737.7l5.25 5.25l-5.25 5.25l-5.25 -5.25zM860.1 738.0l5.25 5.25l-5.25 5.25l-5.25 -5.25zM860.9 739.8l5.25 5.25l-5.25 5.25l-5.25 -5.25zM861.9 735.9l5.25 5.25l-5.25 5.25l-5.25 -5.25zM862.2 740.7l5.25 5.25l-5.25 5.25l-5.25 -5.25zM863.3 735.5l5.25 5.25l-5.25 5.25l-5.25 -5.25zM863.9 732.7l5.25 5.25l-5.25 5.25l-5.25 -5.25zM864.4 734.9l5.25 5.25l-5.25 5.25l-5.25 -5.25zM865.3 734.1l5.25 5.25l-5.25 5.25l-5.25 -5.25zM866.0 732.9l5.25 5.25l-5.25 5.25l-5.25 -5.25zM866.8 732.6l5.25 5.25l-5.25 5.25l-5.25 -5.25zM867.2 728.7l5.25 5.25l-5.25 5.25l-5.25 -5.25zM867.9 727.4l5.25 5.25l-5.25 5.25l-5.25 -5.25zM868.9 725.8l5.25 5.25l-5.25 5.25l-5.25 -5.25zM869.6 725.4l5.25 5.25l-5.25 5.25l-5.25 -5.25zM870.1 727.5l5.25 5.25l-5.25 5.25l-5.25 -5.25zM870.7 727.1l5.25 5.25l-5.25 5.25l-5.25 -5.25zM871.6 722.8l5.25 5.25l-5.25 5.25l-5.25 -5.25zM872.5 724.5l5.25 5.25l-5.25 5.25l-5.25 -5.25zM872.7 724.1l5.25 5.25l-5.25 5.25l-5.25 -5.25zM873.7 728.5l5.25 5.25l-5.25 5.25l-5.25 -5.25zM874.3 724.8l5.25 5.25l-5.25 5.25l-5.25 -5.25zM875.1 728.6l5.25 5.25l-5.25 5.25l-5.25 -5.25zM875.9 728.0l5.25 5.25l-5.25 5.25l-5.25 -5.25zM876.5 727.9l5.25 5.25l-5.25 5.25l-5.25 -5.25zM877.1 733.2l5.25 5.25l-5.25 5.25l-5.25 -5.25zM877.6 732.2l5.25 5.25l-5.25 5.25l-5.25 -5.25zM878.5 729.1l5.25 5.25l-5.25 5.25l-5.25 -5.25zM879.2 733.6l5.25 5.25l-5.25 5.25l-5.25 -5.25zM880.1 731.8l5.25 5.25l-5.25 5.25l-5.25 -5.25zM880.5 736.8l5.25 5.25l-5.25 5.25l-5.25 -5.25zM881.2 734.3l5.25 5.25l-5.25 5.25l-5.25 -5.25zM881.9 735.3l5.25 5.25l-5.25 5.25l-5.25 -5.25zM882.5 735.1l5.25 5.25l-5.25 5.25l-5.25 -5.25zM883.7 734.3l5.25 5.25l-5.25 5.25l-5.25 -5.25zM884.2 739.1l5.25 5.25l-5.25 5.25l-5.25 -5.25zM885.0 739.1l5.25 5.25l-5.25 5.25l-5.25 -5.25zM885.3 737.8l5.25 5.25l-5.25 5.25l-5.25 -5.25zM885.9 743.0l5.25 5.25l-5.25 5.25l-5.25 -5.25zM886.9 744.4l5.25 5.25l-5.25 5.25l-5.25 -5.25zM887.7 739.8l5.25 5.25l-5.25 5.25l-5.25 -5.25zM888.1 748.4l5.25 5.25l-5.25 5.25l-5.25 -5.25zM889.0 748.4l5.25 5.25l-5.25 5.25l-5.25 -5.25zM889.7 748.5l5.25 5.25l-5.25 5.25l-5.25 -5.25zM890.3 747.6l5.25 5.25l-5.25 5.25l-5.25 -5.25zM891.3 748.1l5.25 5.25l-5.25 5.25l-5.25 -5.25zM891.6 749.4l5.25 5.25l-5.25 5.25l-5.25 -5.25zM892.8 749.1l5.25 5.25l-5.25 5.25l-5.25 -5.25zM893.1 750.4l5.25 5.25l-5.25 5.25l-5.25 -5.25zM893.8 749.8l5.25 5.25l-5.25 5.25l-5.25 -5.25zM894.9 753.9l5.25 5.25l-5.25 5.25l-5.25 -5.25zM895.5 748.7l5.25 5.25l-5.25 5.25l-5.25 -5.25zM896.3 751.8l5.25 5.25l-5.25 5.25l-5.25 -5.25zM896.5 750.3l5.25 5.25l-5.25 5.25l-5.25 -5.25zM897.1 752.0l5.25 5.25l-5.25 5.25l-5.25 -5.25zM898.2 751.2l5.25 5.25l-5.25 5.25l-5.25 -5.25zM898.6 754.6l5.25 5.25l-5.25 5.25l-5.25 -5.25zM899.6 759.4l5.25 5.25l-5.25 5.25l-5.25 -5.25zM900.1 755.6l5.25 5.25l-5.25 5.25l-5.25 -5.25zM900.8 756.8l5.25 5.25l-5.25 5.25l-5.25 -5.25zM901.9 758.3l5.25 5.25l-5.25 5.25l-5.25 -5.25zM902.1 755.1l5.25 5.25l-5.25 5.25l-5.25 -5.25zM902.9 759.2l5.25 5.25l-5.25 5.25l-5.25 -5.25zM903.5 761.8l5.25 5.25l-5.25 5.25l-5.25 -5.25zM904.4 762.4l5.25 5.25l-5.25 5.25l-5.25 -5.25zM904.9 761.3l5.25 5.25l-5.25 5.25l-5.25 -5.25zM905.8 762.8l5.25 5.25l-5.25 5.25l-5.25 -5.25zM906.8 767.0l5.25 5.25l-5.25 5.25l-5.25 -5.25zM907.5 767.4l5.25 5.25l-5.25 5.25l-5.25 -5.25zM907.8 766.8l5.25 5.25l-5.25 5.25l-5.25 -5.25zM908.8 771.5l5.25 5.25l-5.25 5.25l-5.25 -5.25zM909.4 774.0l5.25 5.25l-5.25 5.25l-5.25 -5.25zM909.9 769.7l5.25 5.25l-5.25 5.25l-5.25 -5.25zM911.0 773.2l5.25 5.25l-5.25 5.25l-5.25 -5.25zM911.4 774.2l5.25 5.25l-5.25 5.25l-5.25 -5.25zM912.4 771.8l5.25 5.25l-5.25 5.25l-5.25 -5.25zM912.8 773.3l5.25 5.25l-5.25 5.25l-5.25 -5.25zM913.8 778.1l5.25 5.25l-5.25 5.25l-5.25 -5.25zM914.2 776.5l5.25 5.25l-5.25 5.25l-5.25 -5.25zM914.9 781.5l5.25 5.25l-5.25 5.25l-5.25 -5.25zM915.4 781.6l5.25 5.25l-5.25 5.25l-5.25 -5.25zM916.4 776.3l5.25 5.25l-5.25 5.25l-5.25 -5.25zM916.8 777.2l5.25 5.25l-5.25 5.25l-5.25 -5.25zM917.9 780.1l5.25 5.25l-5.25 5.25l-5.25 -5.25zM918.4 784.9l5.25 5.25l-5.25 5.25l-5.25 -5.25zM918.8 781.9l5.25 5.25l-5.25 5.25l-5.25 -5.25zM919.6 782.5l5.25 5.25l-5.25 5.25l-5.25 -5.25zM920.4 784.1l5.25 5.25l-5.25 5.25l-5.25 -5.25zM920.7 794.8l5.25 5.25l-5.25 5.25l-5.25 -5.25zM920.7 787.1l5.25 5.25l-5.25 5.25l-5.25 -5.25z" fill="#4f81bd"/>
<path d="M682.9 722.6h5.4v5.4h-5.4zM683.5 717.0h5.4v5.4h-5.4zM683.8 712.4h5.4v5.4h-5.4zM684.6 713.0h5.4v5.4h-5.4zM685.4 713.3h5.4v5.4h-5.4zM686.2 713.8h5.4v5.4h-5.4zM686.6 710.6h5.4v5.4h-5.4zM687.5 710.7h5.4v5.4h-5.4zM688.3 711.2h5.4v5.4h-5.4zM689.2 709.4h5.4v5.4h-5.4zM689.7 707.7h5.4v5.4h-5.4zM690.1 706.6h5.4v5.4h-5.4zM690.9 708.8h5.4v5.4h-5.4zM692.0 707.8h5.4v5.4h-5.4zM692.5 708.5h5.4v5.4h-5.4zM693.1 712.2h5.4v5.4h-5.4zM693.6 708.3h5.4v5.4h-5.4zM694.7 707.5h5.4v5.4h-5.4zM695.2 704.7h5.4v5.4h-5.4zM695.9 705.7h5.4v5.4h-5.4zM696.5 707.8h5.4v5.4h-5.4zM697.2 704.5h5.4v5.4h-5.4zM697.8 703.8h5.4v5.4h-5.4zM698.8 704.9h5.4v5.4h-5.4zM699.3 702.3h5.4v5.4h-5.4zM700.2 703.2h5.4v5.4h-5.4zM700.7 699.5h5.4v5.4h-5.4zM701.7 700.8h5.4v5.4h-5.4zM702.0 698.5h5.4v5.4h-5.4zM702.7 701.6h5.4v5.4h-5.4zM703.7 699.1h5.4v5.4h-5.4zM704.2 699.5h5.4v5.4h-5.4zM704.9 699.5h5.4v5.4h-5.4zM705.6 697.2h5.4v5.4h-5.4zM706.2 698.2h5.4v5.4h-5.4zM707.2 697.9h5.4v5.4h-5.4zM707.8 695.4h5.4v5.4h-5.4zM708.6 699.8h5.4v5.4h-5.4zM709.4 696.4h5.4v5.4h-5.4zM709.8 699.6h5.4v5.4h-5.4zM710.7 692.9h5.4v5.4h-5.4zM711.2 695.7h5.4v5.4h-5.4zM712.1 696.6h5.4v5.4h-5.4zM712.4 699.5h5.4v5.4h-5.4zM713.4 696.7h5.4v5.4h-5.4zM714.2 693.9h5.4v5.4h-5.4zM714.6 696.9h5.4v5.4h-5.4zM715.6 695.8h5.4v5.4h-5.4zM716.1 695.3h5.4v5.4h-5.4zM716.8 697.7h5.4v5.4h-5.4zM717.5 694.9h5.4v5.4h-5.4zM718.1 696.8h5.4v5.4h-5.4zM719.0 693.1h5.4v5.4h-5.4zM719.4 689.9h5.4v5.4h-5.4zM720.3 686.7h5.4v5.4h-5.4zM721.2 689.2h5.4v5.4h-5.4zM721.9 685.6h5.4v5.4h-5.4zM722.3 687.0h5.4v5.4h-5.4zM723.1 685.8h5.4v5.4h-5.4zM723.7 685.0h5.4v5.4h-5.4zM724.3 683.9h5.4v5.4h-5.4zM725.1 679.6h5.4v5.4h-5.4zM725.8 681.8h5.4v5.4h-5.4zM726.5 682.1h5.4v5.4h-5.4zM727.4 680.6h5.4v5.4h-5.4zM728.1 681.1h5.4v5.4h-5.4zM728.8 684.4h5.4v5.4h-5.4zM729.7 681.8h5.4v5.4h-5.4zM730.1 682.9h5.4v5.4h-5.4zM730.9 682.9h5.4v5.4h-5.4zM731.6 682.0h5.4v5.4h-5.4zM732.6 683.4h5.4v5.4h-5.4zM733.3 682.5h5.4v5.4h-5.4zM733.8 683.3h5.4v5.4h-5.4zM734.5 681.8h5.4v5.4h-5.4zM735.2 680.9h5.4v5.4h-5.4zM735.8 682.7h5.4v5.4h-5.4zM736.4 684.4h5.4v5.4h-5.4zM737.0 685.6h5.4v5.4h-5.4zM737.8 688.2h5.4v5.4h-5.4zM738.8 687.6h5.4v5.4h-5.4zM739.2 689.1h5.4v5.4h-5.4zM739.7 690.3h5.4v5.4h-5.4zM741.0 691.2h5.4v5.4h-5.4zM741.6 691.0h5.4v5.4h-5.4zM742.1 687.9h5.4v5.4h-5.4zM742.9 693.0h5.4v5.4h-5.4zM743.6 695.3h5.4v5.4h-5.4zM744.1 695.0h5.4v5.4h-5.4zM745.0 693.4h5.4v5.4h-5.4zM745.4 692.6h5.4v5.4h-5.4zM746.3 691.9h5.4v5.4h-5.4zM746.7 693.9h5.4v5.4h-5.4zM747.5 694.8h5.4v5.4h-5.4zM748.4 697.5h5.4v5.4h-5.4zM749.2 697.5h5.4v5.4h-5.4zM750.0 696.3h5.4v5.4h-5.4zM750.4 697.8h5.4v5.4h-5.4zM751.4 696.9h5.4v5.4h-5.4zM751.8 698.3h5.4v5.4h-5.4zM752.6 696.4h5.4v5.4h-5.4zM753.3 696.4h5.4v5.4h-5.4zM754.1 694.6h5.4v5.4h-5.4zM755.0 700.1h5.4v5.4h-5.4zM755.5 699.4h5.4v5.4h-5.4zM756.0 697.4h5.4v5.4h-5.4zM756.6 700.7h5.4v5.4h-5.4zM757.5 700.6h5.4v5.4h-5.4zM757.9 703.3h5.4v5.4h-5.4zM759.0 698.4h5.4v5.4h-5.4zM759.4 699.8h5.4v5.4h-5.4zM760.3 703.2h5.4v5.4h-5.4zM761.0 701.3h5.4v5.4h-5.4zM761.5 702.8h5.4v5.4h-5.4zM762.2 702.9h5.4v5.4h-5.4zM763.2 704.2h5.4v5.4h-5.4zM763.7 703.5h5.4v5.4h-5.4zM764.5 703.9h5.4v5.4h-5.4zM765.5 702.0h5.4v5.4h-5.4zM766.0 701.2h5.4v5.4h-5.4zM766.7 701.8h5.4v5.4h-5.4zM767.4 702.7h5.4v5.4h-5.4zM768.1 704.2h5.4v5.4h-5.4zM768.8 703.2h5.4v5.4h-5.4zM769.2 704.0h5.4v5.4h-5.4zM770.2 705.9h5.4v5.4h-5.4zM770.5 703.8h5.4v5.4h-5.4zM771.3 702.6h5.4v5.4h-5.4zM771.9 707.0h5.4v5.4h-5.4zM773.0 701.7h5.4v5.4h-5.4zM773.4 706.1h5.4v5.4h-5.4zM774.5 705.9h5.4v5.4h-5.4zM775.1 705.3h5.4v5.4h-5.4zM775.4 705.0h5.4v5.4h-5.4zM776.2 707.0h5.4v5.4h-5.4zM776.8 702.8h5.4v5.4h-5.4zM777.6 709.5h5.4v5.4h-5.4zM778.4 704.8h5.4v5.4h-5.4zM778.9 702.8h5.4v5.4h-5.4zM780.1 708.6h5.4v5.4h-5.4zM780.6 702.6h5.4v5.4h-5.4zM781.4 709.3h5.4v5.4h-5.4zM782.2 709.1h5.4v5.4h-5.4zM783.0 707.3h5.4v5.4h-5.4zM783.4 704.6h5.4v5.4h-5.4zM784.3 705.0h5.4v5.4h-5.4zM784.9 707.2h5.4v5.4h-5.4zM785.7 707.2h5.4v5.4h-5.4zM786.4 705.5h5.4v5.4h-5.4zM787.0 705.7h5.4v5.4h-5.4zM787.7 706.8h5.4v5.4h-5.4zM788.4 709.7h5.4v5.4h-5.4zM789.2 706.8h5.4v5.4h-5.4zM789.7 709.1h5.4v5.4h-5.4zM790.2 710.1h5.4v5.4h-5.4zM791.2 707.9h5.4v5.4h-5.4zM791.8 708.7h5.4v5.4h-5.4zM792.7 706.5h5.4v5.4h-5.4zM793.4 707.2h5.4v5.4h-5.4zM793.6 707.7h5.4v5.4h-5.4zM794.5 703.5h5.4v5.4h-5.4zM795.5 704.3h5.4v5.4h-5.4zM795.8 704.8h5.4v5.4h-5.4zM796.4 706.2h5.4v5.4h-5.4zM797.1 704.3h5.4v5.4h-5.4zM798.1 702.6h5.4v5.4h-5.4zM798.5 701.7h5.4v5.4h-5.4zM799.4 701.1h5.4v5.4h-5.4zM800.0 701.8h5.4v5.4h-5.4zM800.8 702.9h5.4v5.4h-5.4zM801.7 703.5h5.4v5.4h-5.4zM802.4 700.2h5.4v5.4h-5.4zM802.9 699.1h5.4v5.4h-5.4zM803.8 700.5h5.4v5.4h-5.4zM804.5 699.9h5.4v5.4h-5.4zM805.3 700.4h5.4v5.4h-5.4zM806.1 697.2h5.4v5.4h-5.4zM806.4 700.3h5.4v5.4h-5.4zM807.3 698.5h5.4v5.4h-5.4zM807.7 701.3h5.4v5.4h-5.4zM808.7 701.2h5.4v5.4h-5.4zM809.5 696.9h5.4v5.4h-5.4zM810.0 703.0h5.4v5.4h-5.4zM810.4 700.2h5.4v5.4h-5.4zM811.2 702.4h5.4v5.4h-5.4zM811.8 701.5h5.4v5.4h-5.4zM813.1 700.1h5.4v5.4h-5.4zM813.5 699.9h5.4v5.4h-5.4zM814.5 703.8h5.4v5.4h-5.4zM815.0 703.6h5.4v5.4h-5.4zM815.3 702.6h5.4v5.4h-5.4zM816.4 703.0h5.4v5.4h-5.4zM816.7 700.6h5.4v5.4h-5.4zM817.9 702.4h5.4v5.4h-5.4zM818.7 701.8h5.4v5.4h-5.4zM818.9 703.3h5.4v5.4h-5.4zM820.0 700.0h5.4v5.4h-5.4zM820.6 697.2h5.4v5.4h-5.4zM821.2 699.5h5.4v5.4h-5.4zM821.6 699.3h5.4v5.4h-5.4zM822.6 698.4h5.4v5.4h-5.4zM823.0 696.0h5.4v5.4h-5.4zM824.2 700.5h5.4v5.4h-5.4zM825.0 697.2h5.4v5.4h-5.4zM825.2 696.3h5.4v5.4h-5.4zM826.0 693.4h5.4v5.4h-5.4zM826.7 693.5h5.4v5.4h-5.4zM827.4 696.4h5.4v5.4h-5.4zM828.3 697.5h5.4v5.4h-5.4zM828.9 695.1h5.4v5.4h-5.4zM829.5 695.2h5.4v5.4h-5.4zM830.1 697.8h5.4v5.4h-5.4zM831.0 694.4h5.4v5.4h-5.4zM831.4 697.8h5.4v5.4h-5.4zM832.2 695.2h5.4v5.4h-5.4zM832.9 692.7h5.4v5.4h-5.4zM833.9 693.3h5.4v5.4h-5.4zM834.2 691.4h5.4v5.4h-5.4zM835.4 694.2h5.4v5.4h-5.4zM835.8 689.2h5.4v5.4h-5.4zM836.7 689.4h5.4v5.4h-5.4zM837.1 690.5h5.4v5.4h-5.4zM837.9 689.4h5.4v5.4h-5.4zM839.0 687.7h5.4v5.4h-5.4zM839.2 685.8h5.4v5.4h-5.4zM840.2 685.0h5.4v5.4h-5.4zM840.6 685.9h5.4v5.4h-5.4zM841.3 685.0h5.4v5.4h-5.4zM841.9 686.6h5.4v5.4h-5.4zM843.1 682.2h5.4v5.4h-5.4zM843.8 680.2h5.4v5.4h-5.4zM844.4 684.0h5.4v5.4h-5.4zM845.1 684.3h5.4v5.4h-5.4zM845.5 680.9h5.4v5.4h-5.4zM846.2 681.0h5.4v5.4h-5.4zM847.1 682.1h5.4v5.4h-5.4zM847.6 681.7h5.4v5.4h-5.4zM848.3 683.2h5.4v5.4h-5.4zM849.5 675.6h5.4v5.4h-5.4zM849.8 678.0h5.4v5.4h-5.4zM850.5 677.2h5.4v5.4h-5.4zM851.1 677.0h5.4v5.4h-5.4zM851.7 677.6h5.4v5.4h-5.4zM852.5 674.9h5.4v5.4h-5.4zM853.7 677.5h5.4v5.4h-5.4zM854.3 678.1h5.4v5.4h-5.4zM854.7 675.0h5.4v5.4h-5.4zM855.4 676.0h5.4v5.4h-5.4zM856.3 672.9h5.4v5.4h-5.4zM856.9 675.9h5.4v5.4h-5.4zM857.4 677.4h5.4v5.4h-5.4zM858.3 677.3h5.4v5.4h-5.4zM859.2 676.4h5.4v5.4h-5.4zM859.8 675.7h5.4v5.4h-5.4zM860.5 677.1h5.4v5.4h-5.4zM861.4 679.5h5.4v5.4h-5.4zM861.9 676.8h5.4v5.4h-5.4zM862.5 679.5h5.4v5.4h-5.4zM863.5 679.3h5.4v5.4h-5.4zM863.9 681.3h5.4v5.4h-5.4zM864.5 683.1h5.4v5.4h-5.4zM865.0 682.0h5.4v5.4h-5.4zM865.8 680.4h5.4v5.4h-5.4zM866.8 682.3h5.4v5.4h-5.4zM867.4 683.1h5.4v5.4h-5.4zM868.4 687.1h5.4v5.4h-5.4zM868.6 687.0h5.4v5.4h-5.4zM869.6 683.7h5.4v5.4h-5.4zM870.2 684.1h5.4v5.4h-5.4zM871.1 681.0h5.4v5.4h-5.4zM871.6 686.5h5.4v5.4h-5.4zM872.5 688.8h5.4v5.4h-5.4zM873.3 686.6h5.4v5.4h-5.4zM873.5 691.1h5.4v5.4h-5.4zM874.6 691.3h5.4v5.4h-5.4zM875.1 690.9h5.4v5.4h-5.4zM876.0 689.3h5.4v5.4h-5.4zM876.7 689.6h5.4v5.4h-5.4zM877.5 688.5h5.4v5.4h-5.4zM877.8 694.4h5.4v5.4h-5.4zM878.7 693.5h5.4v5.4h-5.4zM879.2 692.0h5.4v5.4h-5.4zM880.2 690.3h5.4v5.4h-5.4zM880.5 694.0h5.4v5.4h-5.4zM881.5 687.5h5.4v5.4h-5.4zM882.2 691.9h5.4v5.4h-5.4zM882.7 687.9h5.4v5.4h-5.4zM883.4 693.4h5.4v5.4h-5.4zM884.2 693.3h5.4v5.4h-5.4zM884.7 692.9h5.4v5.4h-5.4zM885.7 695.0h5.4v5.4h-5.4zM886.3 694.9h5.4v5.4h-5.4zM887.3 693.4h5.4v5.4h-5.4zM887.9 693.0h5.4v5.4h-5.4zM888.1 694.8h5.4v5.4h-5.4zM889.2 696.0h5.4v5.4h-5.4zM889.7 691.3h5.4v5.4h-5.4zM890.2 690.3h5.4v5.4h-5.4zM890.9 695.3h5.4v5.4h-5.4zM891.7 692.8h5.4v5.4h-5.4zM892.4 691.5h5.4v5.4h-5.4zM893.3 691.7h5.4v5.4h-5.4zM894.1 696.0h5.4v5.4h-5.4zM894.8 696.4h5.4v5.4h-5.4zM895.5 696.4h5.4v5.4h-5.4zM896.0 696.7h5.4v5.4h-5.4zM896.7 696.5h5.4v5.4h-5.4zM897.2 696.1h5.4v5.4h-5.4zM898.3 696.9h5.4v5.4h-5.4zM899.2 697.9h5.4v5.4h-5.4zM899.4 694.2h5.4v5.4h-5.4zM900.5 694.2h5.4v5.4h-5.4zM901.1 694.9h5.4v5.4h-5.4zM902.0 692.7h5.4v5.4h-5.4zM902.2 693.5h5.4v5.4h-5.4zM903.1 695.6h5.4v5.4h-5.4zM903.6 696.9h5.4v5.4h-5.4zM904.2 696.4h5.4v5.4h-5.4zM905.4 695.4h5.4v5.4h-5.4zM905.9 698.9h5.4v5.4h-5.4zM906.3 699.4h5.4v5.4h-5.4zM907.1 700.2h5.4v5.4h-5.4zM908.1 698.3h5.4v5.4h-5.4zM908.5 702.8h5.4v5.4h-5.4zM909.3 703.3h5.4v5.4h-5.4zM910.2 701.3h5.4v5.4h-5.4zM911.1 703.3h5.4v5.4h-5.4zM911.3 702.6h5.4v5.4h-5.4zM912.3 705.2h5.4v5.4h-5.4zM912.7 704.4h5.4v5.4h-5.4zM913.6 706.5h5.4v5.4h-5.4zM914.5 707.1h5.4v5.4h-5.4zM915.0 705.2h5.4v5.4h-5.4zM915.6 706.5h5.4v5.4h-5.4zM916.5 709.4h5.4v5.4h-5.4zM917.0 714.6h5.4v5.4h-5.4zM917.7 722.3h5.4v5.4h-5.4zM918.0 726.2h5.4v5.4h-5.4zM917.5 712.2h5.4v5.4h-5.4z" fill="none" stroke="#c0504d" stroke-width="1.7"/>
<path d="M764.8 810.8h5.2v5.2h-5.2z" fill="none" stroke="#c0504d" stroke-width="1.4"/>
<path d="M767.4 837.8l4.15 4.15l-4.15 4.15l-4.15 -4.15z" fill="#4f81bd"/>
<text x="780.8" y="823.8" font-family="Liberation Serif" font-size="28" style="white-space:pre">N=  0</text>
<text x="780.8" y="852.1" font-family="Liberation Serif" font-size="28" text-anchor="start">N=30</text>
<path d="M47.9 1008.6 H287.6 V1205.1 H47.9 Z" fill="none" stroke="#000" stroke-width="1.8" stroke-linejoin="miter"/>
<path d="M38.9 1041.6 H47.9 M38.9 1082.6 H47.9 M38.9 1123.9 H47.9 M38.9 1164.6 H47.9 M38.9 1205.1 H47.9 M47.9 1205.1 V1213.1 M95.84 1205.1 V1213.1 M143.78 1205.1 V1213.1 M191.72 1205.1 V1213.1 M239.66000000000003 1205.1 V1213.1 M287.59999999999997 1205.1 V1213.1 M71.87 1205.1 V1211.1 M119.81 1205.1 V1211.1 M167.75 1205.1 V1211.1 M215.69000000000003 1205.1 V1211.1 M263.63 1205.1 V1211.1" fill="none" stroke="#000" stroke-width="1.8"/>
<text x="47.9" y="1257" font-family="Liberation Serif" font-size="28" text-anchor="middle">0</text>
<text x="95.84" y="1257" font-family="Liberation Serif" font-size="28" text-anchor="middle">1</text>
<text x="143.78" y="1257" font-family="Liberation Serif" font-size="28" text-anchor="middle">2</text>
<text x="191.72" y="1257" font-family="Liberation Serif" font-size="28" text-anchor="middle">3</text>
<text x="239.66000000000003" y="1257" font-family="Liberation Serif" font-size="28" text-anchor="middle">4</text>
<text x="287.59999999999997" y="1257" font-family="Liberation Serif" font-size="28" text-anchor="middle">5</text>
<text x="173.5" y="1285" font-family="Liberation Serif" font-size="29.5" font-weight="bold" text-anchor="middle">q(Å<tspan font-size="18" dy="-10.5">-1</tspan><tspan dy="10.5">)</tspan></text>
<path d="M67.0 1164.2l3.2 3.2l-3.2 3.2l-3.2 -3.2zM67.8 1163.7l3.2 3.2l-3.2 3.2l-3.2 -3.2zM69.3 1161.3l3.2 3.2l-3.2 3.2l-3.2 -3.2zM70.3 1160.4l3.2 3.2l-3.2 3.2l-3.2 -3.2zM71.0 1160.2l3.2 3.2l-3.2 3.2l-3.2 -3.2zM71.9 1159.9l3.2 3.2l-3.2 3.2l-3.2 -3.2zM73.1 1159.4l3.2 3.2l-3.2 3.2l-3.2 -3.2zM74.1 1159.5l3.2 3.2l-3.2 3.2l-3.2 -3.2zM75.3 1158.5l3.2 3.2l-3.2 3.2l-3.2 -3.2zM76.0 1158.2l3.2 3.2l-3.2 3.2l-3.2 -3.2zM77.3 1157.1l3.2 3.2l-3.2 3.2l-3.2 -3.2zM78.1 1155.8l3.2 3.2l-3.2 3.2l-3.2 -3.2zM79.0 1154.8l3.2 3.2l-3.2 3.2l-3.2 -3.2zM79.7 1154.7l3.2 3.2l-3.2 3.2l-3.2 -3.2zM80.8 1154.1l3.2 3.2l-3.2 3.2l-3.2 -3.2zM81.8 1154.2l3.2 3.2l-3.2 3.2l-3.2 -3.2zM82.8 1150.2l3.2 3.2l-3.2 3.2l-3.2 -3.2zM83.9 1152.9l3.2 3.2l-3.2 3.2l-3.2 -3.2zM85.0 1149.9l3.2 3.2l-3.2 3.2l-3.2 -3.2zM85.7 1148.6l3.2 3.2l-3.2 3.2l-3.2 -3.2zM87.3 1148.1l3.2 3.2l-3.2 3.2l-3.2 -3.2zM88.0 1149.0l3.2 3.2l-3.2 3.2l-3.2 -3.2zM88.9 1147.5l3.2 3.2l-3.2 3.2l-3.2 -3.2zM89.8 1148.0l3.2 3.2l-3.2 3.2l-3.2 -3.2zM90.9 1146.1l3.2 3.2l-3.2 3.2l-3.2 -3.2zM91.8 1147.3l3.2 3.2l-3.2 3.2l-3.2 -3.2zM92.9 1147.0l3.2 3.2l-3.2 3.2l-3.2 -3.2zM93.9 1145.4l3.2 3.2l-3.2 3.2l-3.2 -3.2zM95.0 1146.1l3.2 3.2l-3.2 3.2l-3.2 -3.2zM95.7 1141.0l3.2 3.2l-3.2 3.2l-3.2 -3.2zM96.7 1143.3l3.2 3.2l-3.2 3.2l-3.2 -3.2zM97.9 1140.1l3.2 3.2l-3.2 3.2l-3.2 -3.2zM98.8 1141.6l3.2 3.2l-3.2 3.2l-3.2 -3.2zM100.3 1139.5l3.2 3.2l-3.2 3.2l-3.2 -3.2zM101.1 1140.0l3.2 3.2l-3.2 3.2l-3.2 -3.2zM102.3 1140.0l3.2 3.2l-3.2 3.2l-3.2 -3.2zM102.7 1138.4l3.2 3.2l-3.2 3.2l-3.2 -3.2zM103.8 1137.1l3.2 3.2l-3.2 3.2l-3.2 -3.2zM104.8 1134.1l3.2 3.2l-3.2 3.2l-3.2 -3.2zM106.1 1130.6l3.2 3.2l-3.2 3.2l-3.2 -3.2zM107.2 1129.7l3.2 3.2l-3.2 3.2l-3.2 -3.2zM107.9 1127.0l3.2 3.2l-3.2 3.2l-3.2 -3.2zM109.0 1123.6l3.2 3.2l-3.2 3.2l-3.2 -3.2zM110.1 1118.7l3.2 3.2l-3.2 3.2l-3.2 -3.2zM110.8 1111.4l3.2 3.2l-3.2 3.2l-3.2 -3.2zM112.2 1103.2l3.2 3.2l-3.2 3.2l-3.2 -3.2zM113.1 1095.6l3.2 3.2l-3.2 3.2l-3.2 -3.2zM114.3 1082.8l3.2 3.2l-3.2 3.2l-3.2 -3.2zM114.9 1074.2l3.2 3.2l-3.2 3.2l-3.2 -3.2zM115.7 1062.0l3.2 3.2l-3.2 3.2l-3.2 -3.2zM116.7 1051.7l3.2 3.2l-3.2 3.2l-3.2 -3.2zM118.1 1038.7l3.2 3.2l-3.2 3.2l-3.2 -3.2zM118.8 1029.5l3.2 3.2l-3.2 3.2l-3.2 -3.2zM119.7 1020.9l3.2 3.2l-3.2 3.2l-3.2 -3.2zM120.9 1018.0l3.2 3.2l-3.2 3.2l-3.2 -3.2zM121.9 1021.3l3.2 3.2l-3.2 3.2l-3.2 -3.2zM123.3 1027.5l3.2 3.2l-3.2 3.2l-3.2 -3.2zM123.8 1030.6l3.2 3.2l-3.2 3.2l-3.2 -3.2zM125.0 1041.0l3.2 3.2l-3.2 3.2l-3.2 -3.2zM126.0 1050.5l3.2 3.2l-3.2 3.2l-3.2 -3.2zM126.8 1060.5l3.2 3.2l-3.2 3.2l-3.2 -3.2zM128.2 1071.9l3.2 3.2l-3.2 3.2l-3.2 -3.2zM128.7 1079.6l3.2 3.2l-3.2 3.2l-3.2 -3.2zM129.8 1086.1l3.2 3.2l-3.2 3.2l-3.2 -3.2zM130.8 1098.0l3.2 3.2l-3.2 3.2l-3.2 -3.2zM132.1 1101.9l3.2 3.2l-3.2 3.2l-3.2 -3.2zM132.8 1112.2l3.2 3.2l-3.2 3.2l-3.2 -3.2zM133.8 1118.0l3.2 3.2l-3.2 3.2l-3.2 -3.2zM134.9 1129.6l3.2 3.2l-3.2 3.2l-3.2 -3.2zM136.1 1136.3l3.2 3.2l-3.2 3.2l-3.2 -3.2zM136.9 1138.6l3.2 3.2l-3.2 3.2l-3.2 -3.2zM138.0 1141.1l3.2 3.2l-3.2 3.2l-3.2 -3.2zM138.8 1140.4l3.2 3.2l-3.2 3.2l-3.2 -3.2zM140.2 1142.8l3.2 3.2l-3.2 3.2l-3.2 -3.2zM141.1 1146.6l3.2 3.2l-3.2 3.2l-3.2 -3.2zM141.7 1148.2l3.2 3.2l-3.2 3.2l-3.2 -3.2zM142.8 1151.2l3.2 3.2l-3.2 3.2l-3.2 -3.2zM144.1 1148.7l3.2 3.2l-3.2 3.2l-3.2 -3.2zM145.0 1149.6l3.2 3.2l-3.2 3.2l-3.2 -3.2zM145.9 1149.5l3.2 3.2l-3.2 3.2l-3.2 -3.2zM147.2 1153.1l3.2 3.2l-3.2 3.2l-3.2 -3.2zM147.9 1153.1l3.2 3.2l-3.2 3.2l-3.2 -3.2zM149.2 1153.1l3.2 3.2l-3.2 3.2l-3.2 -3.2zM149.8 1157.0l3.2 3.2l-3.2 3.2l-3.2 -3.2zM150.9 1155.4l3.2 3.2l-3.2 3.2l-3.2 -3.2zM152.0 1155.5l3.2 3.2l-3.2 3.2l-3.2 -3.2zM152.9 1158.1l3.2 3.2l-3.2 3.2l-3.2 -3.2zM153.9 1158.1l3.2 3.2l-3.2 3.2l-3.2 -3.2zM154.9 1160.7l3.2 3.2l-3.2 3.2l-3.2 -3.2zM156.2 1161.6l3.2 3.2l-3.2 3.2l-3.2 -3.2zM156.8 1161.7l3.2 3.2l-3.2 3.2l-3.2 -3.2zM158.2 1160.6l3.2 3.2l-3.2 3.2l-3.2 -3.2zM158.8 1160.6l3.2 3.2l-3.2 3.2l-3.2 -3.2zM159.8 1159.5l3.2 3.2l-3.2 3.2l-3.2 -3.2zM161.2 1161.0l3.2 3.2l-3.2 3.2l-3.2 -3.2zM161.7 1163.0l3.2 3.2l-3.2 3.2l-3.2 -3.2zM163.0 1161.7l3.2 3.2l-3.2 3.2l-3.2 -3.2zM164.0 1160.6l3.2 3.2l-3.2 3.2l-3.2 -3.2zM164.8 1161.8l3.2 3.2l-3.2 3.2l-3.2 -3.2zM166.3 1158.3l3.2 3.2l-3.2 3.2l-3.2 -3.2zM166.8 1158.2l3.2 3.2l-3.2 3.2l-3.2 -3.2zM167.8 1159.2l3.2 3.2l-3.2 3.2l-3.2 -3.2zM169.0 1158.4l3.2 3.2l-3.2 3.2l-3.2 -3.2zM169.9 1158.7l3.2 3.2l-3.2 3.2l-3.2 -3.2zM170.7 1157.2l3.2 3.2l-3.2 3.2l-3.2 -3.2zM172.2 1157.1l3.2 3.2l-3.2 3.2l-3.2 -3.2zM172.8 1155.0l3.2 3.2l-3.2 3.2l-3.2 -3.2zM174.3 1156.2l3.2 3.2l-3.2 3.2l-3.2 -3.2zM174.7 1157.2l3.2 3.2l-3.2 3.2l-3.2 -3.2zM175.9 1156.1l3.2 3.2l-3.2 3.2l-3.2 -3.2zM177.1 1154.8l3.2 3.2l-3.2 3.2l-3.2 -3.2zM178.0 1156.2l3.2 3.2l-3.2 3.2l-3.2 -3.2zM178.9 1156.3l3.2 3.2l-3.2 3.2l-3.2 -3.2zM179.9 1156.4l3.2 3.2l-3.2 3.2l-3.2 -3.2zM180.8 1155.9l3.2 3.2l-3.2 3.2l-3.2 -3.2zM181.8 1156.9l3.2 3.2l-3.2 3.2l-3.2 -3.2zM183.1 1156.7l3.2 3.2l-3.2 3.2l-3.2 -3.2zM184.3 1157.0l3.2 3.2l-3.2 3.2l-3.2 -3.2zM185.1 1156.1l3.2 3.2l-3.2 3.2l-3.2 -3.2zM186.0 1157.4l3.2 3.2l-3.2 3.2l-3.2 -3.2zM186.9 1158.2l3.2 3.2l-3.2 3.2l-3.2 -3.2zM187.9 1160.6l3.2 3.2l-3.2 3.2l-3.2 -3.2zM189.3 1159.9l3.2 3.2l-3.2 3.2l-3.2 -3.2zM190.0 1160.0l3.2 3.2l-3.2 3.2l-3.2 -3.2zM190.9 1160.6l3.2 3.2l-3.2 3.2l-3.2 -3.2zM191.9 1160.5l3.2 3.2l-3.2 3.2l-3.2 -3.2zM193.0 1161.5l3.2 3.2l-3.2 3.2l-3.2 -3.2zM193.7 1163.2l3.2 3.2l-3.2 3.2l-3.2 -3.2zM195.0 1163.4l3.2 3.2l-3.2 3.2l-3.2 -3.2zM196.0 1164.5l3.2 3.2l-3.2 3.2l-3.2 -3.2zM197.2 1166.8l3.2 3.2l-3.2 3.2l-3.2 -3.2zM198.0 1164.2l3.2 3.2l-3.2 3.2l-3.2 -3.2zM198.8 1165.4l3.2 3.2l-3.2 3.2l-3.2 -3.2zM199.9 1167.9l3.2 3.2l-3.2 3.2l-3.2 -3.2zM201.1 1168.4l3.2 3.2l-3.2 3.2l-3.2 -3.2zM202.3 1167.2l3.2 3.2l-3.2 3.2l-3.2 -3.2zM203.1 1167.3l3.2 3.2l-3.2 3.2l-3.2 -3.2zM204.0 1168.9l3.2 3.2l-3.2 3.2l-3.2 -3.2zM205.0 1165.9l3.2 3.2l-3.2 3.2l-3.2 -3.2zM206.3 1168.3l3.2 3.2l-3.2 3.2l-3.2 -3.2zM207.0 1169.3l3.2 3.2l-3.2 3.2l-3.2 -3.2zM208.0 1168.3l3.2 3.2l-3.2 3.2l-3.2 -3.2zM208.9 1170.7l3.2 3.2l-3.2 3.2l-3.2 -3.2zM209.9 1168.3l3.2 3.2l-3.2 3.2l-3.2 -3.2zM211.1 1169.8l3.2 3.2l-3.2 3.2l-3.2 -3.2zM212.1 1172.3l3.2 3.2l-3.2 3.2l-3.2 -3.2zM212.7 1169.7l3.2 3.2l-3.2 3.2l-3.2 -3.2zM214.0 1171.3l3.2 3.2l-3.2 3.2l-3.2 -3.2zM215.2 1171.3l3.2 3.2l-3.2 3.2l-3.2 -3.2zM215.8 1170.9l3.2 3.2l-3.2 3.2l-3.2 -3.2zM217.1 1174.7l3.2 3.2l-3.2 3.2l-3.2 -3.2zM218.2 1171.9l3.2 3.2l-3.2 3.2l-3.2 -3.2zM218.8 1173.0l3.2 3.2l-3.2 3.2l-3.2 -3.2zM220.0 1173.5l3.2 3.2l-3.2 3.2l-3.2 -3.2zM221.3 1173.5l3.2 3.2l-3.2 3.2l-3.2 -3.2zM222.2 1171.5l3.2 3.2l-3.2 3.2l-3.2 -3.2zM223.3 1172.2l3.2 3.2l-3.2 3.2l-3.2 -3.2zM224.0 1172.2l3.2 3.2l-3.2 3.2l-3.2 -3.2zM224.9 1172.4l3.2 3.2l-3.2 3.2l-3.2 -3.2zM225.7 1170.3l3.2 3.2l-3.2 3.2l-3.2 -3.2zM226.9 1172.9l3.2 3.2l-3.2 3.2l-3.2 -3.2zM228.1 1170.2l3.2 3.2l-3.2 3.2l-3.2 -3.2zM229.1 1174.2l3.2 3.2l-3.2 3.2l-3.2 -3.2zM230.3 1172.3l3.2 3.2l-3.2 3.2l-3.2 -3.2zM230.8 1172.4l3.2 3.2l-3.2 3.2l-3.2 -3.2zM232.0 1172.3l3.2 3.2l-3.2 3.2l-3.2 -3.2zM233.0 1173.8l3.2 3.2l-3.2 3.2l-3.2 -3.2zM233.8 1171.9l3.2 3.2l-3.2 3.2l-3.2 -3.2zM234.9 1174.4l3.2 3.2l-3.2 3.2l-3.2 -3.2zM236.0 1175.3l3.2 3.2l-3.2 3.2l-3.2 -3.2zM236.8 1175.1l3.2 3.2l-3.2 3.2l-3.2 -3.2zM238.1 1174.2l3.2 3.2l-3.2 3.2l-3.2 -3.2zM238.9 1175.0l3.2 3.2l-3.2 3.2l-3.2 -3.2zM239.9 1174.4l3.2 3.2l-3.2 3.2l-3.2 -3.2zM241.0 1175.1l3.2 3.2l-3.2 3.2l-3.2 -3.2zM241.8 1174.9l3.2 3.2l-3.2 3.2l-3.2 -3.2zM243.0 1174.7l3.2 3.2l-3.2 3.2l-3.2 -3.2zM244.0 1175.5l3.2 3.2l-3.2 3.2l-3.2 -3.2zM245.3 1172.9l3.2 3.2l-3.2 3.2l-3.2 -3.2zM246.3 1172.8l3.2 3.2l-3.2 3.2l-3.2 -3.2zM246.7 1175.9l3.2 3.2l-3.2 3.2l-3.2 -3.2zM247.8 1176.1l3.2 3.2l-3.2 3.2l-3.2 -3.2zM248.8 1174.3l3.2 3.2l-3.2 3.2l-3.2 -3.2zM249.8 1174.4l3.2 3.2l-3.2 3.2l-3.2 -3.2zM251.0 1174.7l3.2 3.2l-3.2 3.2l-3.2 -3.2zM252.0 1173.0l3.2 3.2l-3.2 3.2l-3.2 -3.2zM252.7 1174.5l3.2 3.2l-3.2 3.2l-3.2 -3.2zM254.0 1173.1l3.2 3.2l-3.2 3.2l-3.2 -3.2zM255.3 1174.6l3.2 3.2l-3.2 3.2l-3.2 -3.2zM255.8 1175.4l3.2 3.2l-3.2 3.2l-3.2 -3.2zM257.1 1173.3l3.2 3.2l-3.2 3.2l-3.2 -3.2zM257.9 1175.2l3.2 3.2l-3.2 3.2l-3.2 -3.2zM259.3 1173.4l3.2 3.2l-3.2 3.2l-3.2 -3.2zM259.7 1175.0l3.2 3.2l-3.2 3.2l-3.2 -3.2zM261.2 1175.0l3.2 3.2l-3.2 3.2l-3.2 -3.2zM261.9 1173.3l3.2 3.2l-3.2 3.2l-3.2 -3.2zM262.0 1173.8l3.2 3.2l-3.2 3.2l-3.2 -3.2zM252.0 1174.8l3.2 3.2l-3.2 3.2l-3.2 -3.2z" fill="none" stroke="#e46c0a" stroke-width="1.8" stroke-linejoin="miter"/>
<path d="M54.1 1186.6h8v8h-8zM53.5 1186.8h8v8h-8zM54.0 1186.0h8v8h-8zM53.5 1185.5h8v8h-8zM53.4 1183.3h8v8h-8zM54.2 1182.6h8v8h-8zM53.4 1182.4h8v8h-8zM53.7 1181.2h8v8h-8zM54.0 1180.9h8v8h-8zM53.5 1181.6h8v8h-8zM53.9 1178.8h8v8h-8zM54.2 1178.5h8v8h-8zM54.3 1176.4h8v8h-8zM53.8 1176.9h8v8h-8zM54.6 1177.6h8v8h-8zM54.6 1176.4h8v8h-8zM54.0 1175.4h8v8h-8zM54.1 1173.2h8v8h-8zM54.1 1174.6h8v8h-8zM54.2 1172.9h8v8h-8zM53.9 1171.1h8v8h-8zM54.6 1169.9h8v8h-8zM53.9 1168.6h8v8h-8zM54.2 1167.5h8v8h-8zM54.2 1165.6h8v8h-8zM54.8 1164.9h8v8h-8zM55.1 1165.4h8v8h-8zM55.1 1165.3h8v8h-8zM55.2 1164.3h8v8h-8zM55.3 1163.2h8v8h-8zM55.3 1162.4h8v8h-8zM55.3 1161.2h8v8h-8zM55.0 1162.0h8v8h-8zM55.3 1160.0h8v8h-8zM56.1 1159.8h8v8h-8zM56.1 1159.6h8v8h-8zM55.9 1159.0h8v8h-8zM55.9 1157.2h8v8h-8zM56.5 1156.1h8v8h-8zM56.1 1155.5h8v8h-8zM56.3 1152.6h8v8h-8zM56.8 1152.3h8v8h-8zM56.6 1151.0h8v8h-8zM57.1 1149.7h8v8h-8zM56.4 1150.4h8v8h-8zM57.3 1148.4h8v8h-8zM57.7 1148.8h8v8h-8zM58.7 1147.7h8v8h-8zM58.9 1148.2h8v8h-8zM59.4 1148.3h8v8h-8zM60.3 1147.3h8v8h-8zM60.6 1146.7h8v8h-8zM61.6 1145.8h8v8h-8zM62.0 1144.4h8v8h-8zM62.7 1144.1h8v8h-8zM63.7 1143.7h8v8h-8zM64.7 1143.0h8v8h-8zM64.8 1142.5h8v8h-8zM65.6 1141.5h8v8h-8zM66.9 1140.3h8v8h-8zM66.9 1140.9h8v8h-8zM67.8 1141.1h8v8h-8zM68.8 1139.7h8v8h-8zM69.7 1139.7h8v8h-8zM70.7 1139.2h8v8h-8zM71.1 1137.7h8v8h-8zM71.4 1139.2h8v8h-8zM72.2 1137.6h8v8h-8zM72.7 1135.9h8v8h-8zM74.0 1137.3h8v8h-8zM74.2 1137.0h8v8h-8zM74.9 1135.3h8v8h-8zM75.8 1135.4h8v8h-8zM75.9 1134.1h8v8h-8zM77.2 1134.8h8v8h-8zM77.2 1133.6h8v8h-8zM77.9 1134.0h8v8h-8zM78.8 1133.6h8v8h-8zM79.8 1132.3h8v8h-8zM80.5 1131.6h8v8h-8zM80.5 1132.1h8v8h-8zM81.8 1132.7h8v8h-8zM82.3 1131.7h8v8h-8zM83.7 1133.4h8v8h-8zM84.4 1133.3h8v8h-8zM85.0 1131.6h8v8h-8zM85.6 1132.4h8v8h-8zM86.7 1132.0h8v8h-8zM87.6 1130.6h8v8h-8zM87.8 1131.6h8v8h-8zM89.1 1133.0h8v8h-8zM90.2 1130.5h8v8h-8zM90.2 1130.4h8v8h-8zM91.0 1129.6h8v8h-8zM91.8 1131.3h8v8h-8zM93.5 1131.8h8v8h-8zM94.2 1131.9h8v8h-8zM94.9 1131.6h8v8h-8zM95.5 1132.8h8v8h-8zM96.7 1129.6h8v8h-8zM97.6 1131.6h8v8h-8zM97.5 1130.4h8v8h-8zM99.3 1130.9h8v8h-8zM99.7 1130.3h8v8h-8zM100.1 1130.6h8v8h-8zM100.2 1128.0h8v8h-8zM100.8 1129.6h8v8h-8zM101.3 1127.4h8v8h-8zM102.5 1126.4h8v8h-8zM102.4 1126.5h8v8h-8zM103.5 1124.8h8v8h-8zM103.9 1124.8h8v8h-8zM104.0 1125.2h8v8h-8zM104.5 1122.9h8v8h-8zM104.3 1122.1h8v8h-8zM104.9 1122.2h8v8h-8zM104.7 1120.6h8v8h-8zM104.9 1119.9h8v8h-8zM105.0 1119.5h8v8h-8zM105.2 1118.3h8v8h-8zM105.6 1117.2h8v8h-8zM105.3 1117.0h8v8h-8zM106.3 1116.3h8v8h-8zM106.0 1116.0h8v8h-8zM105.9 1114.9h8v8h-8zM105.9 1113.3h8v8h-8zM106.5 1113.8h8v8h-8zM106.4 1111.8h8v8h-8zM107.0 1111.2h8v8h-8zM106.6 1111.1h8v8h-8zM106.7 1108.5h8v8h-8zM106.7 1108.4h8v8h-8zM107.5 1107.0h8v8h-8zM107.5 1105.4h8v8h-8zM107.2 1106.0h8v8h-8zM108.1 1105.1h8v8h-8zM107.7 1104.8h8v8h-8zM108.4 1104.9h8v8h-8zM108.5 1104.4h8v8h-8zM108.8 1104.1h8v8h-8zM108.0 1102.4h8v8h-8zM108.0 1102.0h8v8h-8zM109.0 1101.3h8v8h-8zM108.9 1100.4h8v8h-8zM108.8 1100.3h8v8h-8zM108.5 1099.4h8v8h-8zM108.8 1098.1h8v8h-8zM108.6 1099.3h8v8h-8zM109.1 1096.4h8v8h-8zM109.2 1094.3h8v8h-8zM109.2 1093.9h8v8h-8zM109.8 1094.4h8v8h-8zM109.6 1092.9h8v8h-8zM110.1 1091.4h8v8h-8zM109.7 1093.1h8v8h-8zM110.0 1090.7h8v8h-8zM110.1 1089.0h8v8h-8zM109.7 1088.2h8v8h-8zM110.2 1086.4h8v8h-8zM110.5 1085.8h8v8h-8zM110.5 1085.9h8v8h-8zM110.7 1083.7h8v8h-8zM110.6 1083.7h8v8h-8zM110.5 1081.4h8v8h-8zM110.9 1081.5h8v8h-8zM110.4 1081.1h8v8h-8zM110.9 1080.5h8v8h-8zM110.7 1079.5h8v8h-8zM111.0 1077.6h8v8h-8zM111.4 1076.8h8v8h-8zM111.0 1076.2h8v8h-8zM111.5 1073.2h8v8h-8zM111.1 1074.3h8v8h-8zM111.3 1071.5h8v8h-8zM111.4 1071.1h8v8h-8zM111.3 1069.1h8v8h-8zM111.7 1069.9h8v8h-8zM112.4 1068.6h8v8h-8zM111.9 1068.5h8v8h-8zM112.0 1069.1h8v8h-8zM112.4 1068.0h8v8h-8zM112.8 1067.3h8v8h-8zM113.0 1066.3h8v8h-8zM112.6 1065.5h8v8h-8zM112.7 1064.0h8v8h-8zM112.7 1064.2h8v8h-8zM113.2 1063.0h8v8h-8zM112.8 1061.3h8v8h-8zM113.2 1060.3h8v8h-8zM113.3 1062.1h8v8h-8zM113.5 1059.5h8v8h-8zM113.7 1059.1h8v8h-8zM113.9 1058.9h8v8h-8zM114.6 1057.3h8v8h-8zM114.3 1056.1h8v8h-8zM114.5 1054.6h8v8h-8zM114.5 1055.6h8v8h-8zM114.3 1054.8h8v8h-8zM115.0 1053.2h8v8h-8zM115.4 1053.0h8v8h-8zM115.4 1052.8h8v8h-8zM115.1 1051.6h8v8h-8zM115.4 1050.8h8v8h-8zM116.0 1048.6h8v8h-8zM116.2 1049.3h8v8h-8zM117.2 1048.2h8v8h-8zM118.0 1048.5h8v8h-8zM118.9 1048.4h8v8h-8zM119.6 1048.1h8v8h-8zM120.6 1048.6h8v8h-8zM120.5 1048.7h8v8h-8zM120.1 1050.8h8v8h-8zM120.5 1050.9h8v8h-8zM121.0 1051.1h8v8h-8zM121.3 1053.1h8v8h-8zM121.5 1054.6h8v8h-8zM121.3 1055.4h8v8h-8zM121.4 1056.7h8v8h-8zM121.9 1058.1h8v8h-8zM122.1 1058.5h8v8h-8zM121.9 1059.1h8v8h-8zM121.6 1060.1h8v8h-8zM122.5 1063.2h8v8h-8zM121.7 1062.8h8v8h-8zM122.6 1062.5h8v8h-8zM122.1 1062.7h8v8h-8zM122.3 1065.7h8v8h-8zM122.4 1064.6h8v8h-8zM122.7 1066.6h8v8h-8zM122.7 1067.2h8v8h-8zM123.1 1067.8h8v8h-8zM123.2 1068.4h8v8h-8zM123.4 1069.1h8v8h-8zM123.2 1069.5h8v8h-8zM124.0 1071.0h8v8h-8zM123.5 1070.5h8v8h-8zM124.2 1071.6h8v8h-8zM124.6 1072.4h8v8h-8zM123.9 1073.3h8v8h-8zM123.9 1074.5h8v8h-8zM124.6 1075.0h8v8h-8zM124.7 1076.8h8v8h-8zM124.5 1076.4h8v8h-8zM124.5 1077.6h8v8h-8zM125.0 1078.4h8v8h-8zM124.8 1080.6h8v8h-8zM124.7 1079.8h8v8h-8zM125.0 1080.8h8v8h-8zM124.7 1082.7h8v8h-8zM125.1 1081.1h8v8h-8zM124.9 1083.0h8v8h-8zM125.6 1083.6h8v8h-8zM125.3 1083.7h8v8h-8zM125.2 1084.3h8v8h-8zM126.1 1085.6h8v8h-8zM126.0 1086.8h8v8h-8zM125.9 1086.7h8v8h-8zM125.9 1087.5h8v8h-8zM125.8 1089.0h8v8h-8zM126.3 1090.4h8v8h-8zM126.7 1089.4h8v8h-8zM126.5 1092.6h8v8h-8zM126.1 1094.2h8v8h-8zM126.9 1093.6h8v8h-8zM126.5 1094.6h8v8h-8zM127.1 1096.1h8v8h-8zM127.0 1097.0h8v8h-8zM126.9 1098.6h8v8h-8zM126.7 1099.4h8v8h-8zM126.8 1098.4h8v8h-8zM127.1 1099.9h8v8h-8zM127.3 1101.7h8v8h-8zM127.3 1101.2h8v8h-8zM127.8 1103.2h8v8h-8zM127.1 1102.1h8v8h-8zM128.0 1104.5h8v8h-8zM128.0 1104.6h8v8h-8zM128.1 1107.1h8v8h-8zM128.3 1109.0h8v8h-8zM127.9 1107.3h8v8h-8zM128.0 1108.5h8v8h-8zM128.5 1109.5h8v8h-8zM128.6 1110.2h8v8h-8zM128.7 1110.6h8v8h-8zM128.5 1110.9h8v8h-8zM128.5 1112.2h8v8h-8zM128.6 1111.2h8v8h-8zM129.0 1111.9h8v8h-8zM129.2 1112.5h8v8h-8zM129.3 1113.9h8v8h-8zM129.1 1114.4h8v8h-8zM129.5 1116.2h8v8h-8zM129.4 1117.9h8v8h-8zM129.3 1116.9h8v8h-8zM130.1 1117.6h8v8h-8zM129.9 1119.9h8v8h-8zM130.5 1119.2h8v8h-8zM130.5 1120.1h8v8h-8zM130.0 1121.5h8v8h-8zM130.6 1121.4h8v8h-8zM130.4 1123.0h8v8h-8zM130.3 1122.0h8v8h-8zM130.6 1123.2h8v8h-8zM130.5 1123.4h8v8h-8zM131.1 1125.2h8v8h-8zM131.4 1127.8h8v8h-8zM131.3 1127.4h8v8h-8zM131.8 1128.1h8v8h-8zM131.2 1129.0h8v8h-8zM131.4 1130.0h8v8h-8zM131.5 1131.6h8v8h-8zM131.5 1132.1h8v8h-8zM131.9 1133.2h8v8h-8zM132.3 1132.6h8v8h-8zM132.6 1132.6h8v8h-8zM131.9 1133.5h8v8h-8zM132.0 1133.8h8v8h-8zM132.1 1137.0h8v8h-8zM133.0 1137.2h8v8h-8zM133.3 1138.0h8v8h-8zM132.8 1139.1h8v8h-8zM133.9 1139.1h8v8h-8zM133.7 1141.3h8v8h-8zM134.1 1139.5h8v8h-8zM134.1 1140.3h8v8h-8zM134.8 1142.3h8v8h-8zM135.3 1142.2h8v8h-8zM135.3 1144.8h8v8h-8zM135.9 1145.6h8v8h-8zM136.5 1145.4h8v8h-8zM136.3 1147.3h8v8h-8zM137.0 1149.2h8v8h-8zM137.2 1149.5h8v8h-8zM137.4 1150.9h8v8h-8zM137.3 1153.1h8v8h-8zM138.0 1152.8h8v8h-8zM138.3 1152.0h8v8h-8zM138.4 1151.5h8v8h-8zM139.5 1153.8h8v8h-8zM140.1 1153.9h8v8h-8zM140.4 1153.3h8v8h-8zM141.4 1154.9h8v8h-8zM142.3 1153.7h8v8h-8zM142.9 1156.3h8v8h-8zM143.0 1155.8h8v8h-8zM144.1 1156.6h8v8h-8zM144.2 1155.9h8v8h-8zM145.0 1158.1h8v8h-8zM146.0 1158.7h8v8h-8zM146.5 1156.8h8v8h-8zM147.1 1157.7h8v8h-8zM147.4 1159.6h8v8h-8zM148.4 1158.6h8v8h-8zM149.3 1159.8h8v8h-8zM149.6 1160.9h8v8h-8zM151.0 1160.8h8v8h-8zM151.3 1161.0h8v8h-8zM152.4 1161.3h8v8h-8zM153.0 1163.2h8v8h-8zM153.9 1161.4h8v8h-8zM155.1 1163.8h8v8h-8zM155.3 1163.1h8v8h-8zM156.7 1162.8h8v8h-8zM157.5 1162.5h8v8h-8zM158.5 1163.3h8v8h-8zM158.5 1162.4h8v8h-8zM159.9 1162.0h8v8h-8zM160.4 1164.2h8v8h-8zM161.4 1162.8h8v8h-8zM162.2 1162.7h8v8h-8zM163.3 1162.5h8v8h-8zM163.8 1163.2h8v8h-8zM164.4 1163.9h8v8h-8zM165.0 1163.7h8v8h-8zM165.6 1163.6h8v8h-8zM166.3 1163.6h8v8h-8zM167.7 1162.1h8v8h-8zM167.8 1162.1h8v8h-8zM168.6 1162.6h8v8h-8zM169.5 1162.0h8v8h-8zM170.0 1163.7h8v8h-8zM171.2 1163.2h8v8h-8zM171.6 1161.9h8v8h-8zM173.2 1160.4h8v8h-8zM173.3 1161.3h8v8h-8zM174.6 1161.1h8v8h-8zM175.3 1160.6h8v8h-8zM175.9 1159.3h8v8h-8zM176.5 1159.1h8v8h-8zM178.2 1160.9h8v8h-8zM179.0 1158.8h8v8h-8zM179.2 1160.3h8v8h-8zM180.6 1160.7h8v8h-8zM181.1 1161.4h8v8h-8zM181.9 1161.6h8v8h-8zM182.3 1160.6h8v8h-8zM183.0 1160.6h8v8h-8zM184.1 1160.8h8v8h-8zM184.9 1162.0h8v8h-8zM184.9 1163.5h8v8h-8zM185.8 1164.9h8v8h-8zM186.5 1164.7h8v8h-8zM187.9 1164.1h8v8h-8zM188.0 1164.8h8v8h-8zM188.9 1166.2h8v8h-8zM189.1 1166.6h8v8h-8zM190.1 1167.6h8v8h-8zM191.2 1167.0h8v8h-8zM192.1 1167.4h8v8h-8zM192.7 1166.4h8v8h-8zM192.9 1166.6h8v8h-8zM193.6 1167.1h8v8h-8zM194.7 1168.5h8v8h-8zM195.5 1169.3h8v8h-8zM196.0 1168.5h8v8h-8zM196.9 1168.5h8v8h-8zM197.6 1167.0h8v8h-8zM198.5 1169.3h8v8h-8zM198.9 1168.7h8v8h-8zM199.8 1169.6h8v8h-8zM200.4 1169.5h8v8h-8zM202.0 1170.6h8v8h-8zM202.2 1169.2h8v8h-8zM203.0 1171.3h8v8h-8zM203.9 1171.0h8v8h-8zM204.6 1171.5h8v8h-8zM206.0 1170.7h8v8h-8zM206.7 1170.5h8v8h-8zM207.1 1171.2h8v8h-8zM207.5 1172.1h8v8h-8zM209.0 1173.2h8v8h-8zM209.7 1174.0h8v8h-8zM210.4 1173.9h8v8h-8zM211.3 1174.1h8v8h-8zM211.5 1173.8h8v8h-8zM212.6 1172.6h8v8h-8zM213.4 1173.6h8v8h-8zM214.3 1173.9h8v8h-8zM214.7 1174.0h8v8h-8zM216.1 1174.5h8v8h-8zM216.3 1174.1h8v8h-8zM217.8 1175.4h8v8h-8zM218.3 1174.5h8v8h-8zM219.2 1175.6h8v8h-8zM219.9 1175.8h8v8h-8zM220.8 1177.0h8v8h-8zM221.5 1177.7h8v8h-8zM222.1 1176.9h8v8h-8zM222.9 1176.6h8v8h-8zM224.1 1177.1h8v8h-8zM224.7 1177.5h8v8h-8zM225.9 1176.1h8v8h-8zM226.3 1175.9h8v8h-8zM227.6 1175.2h8v8h-8zM228.5 1176.7h8v8h-8zM229.4 1175.6h8v8h-8zM229.7 1174.9h8v8h-8zM230.2 1175.8h8v8h-8zM231.7 1177.2h8v8h-8zM232.5 1176.0h8v8h-8zM232.9 1176.4h8v8h-8zM234.0 1177.0h8v8h-8zM234.7 1177.6h8v8h-8zM235.8 1176.4h8v8h-8zM236.2 1178.4h8v8h-8zM236.8 1178.5h8v8h-8zM237.7 1178.6h8v8h-8zM238.3 1177.6h8v8h-8zM239.8 1179.6h8v8h-8zM240.3 1177.6h8v8h-8zM241.0 1179.0h8v8h-8zM242.1 1177.3h8v8h-8zM243.1 1178.1h8v8h-8zM243.4 1177.0h8v8h-8zM244.5 1177.6h8v8h-8zM245.6 1177.7h8v8h-8zM246.0 1176.8h8v8h-8zM247.2 1178.1h8v8h-8zM247.6 1178.7h8v8h-8zM248.1 1178.4h8v8h-8zM249.5 1178.0h8v8h-8zM249.7 1179.2h8v8h-8zM251.1 1179.2h8v8h-8zM252.0 1179.7h8v8h-8zM252.1 1180.0h8v8h-8zM253.0 1178.7h8v8h-8zM254.4 1177.8h8v8h-8zM255.5 1177.8h8v8h-8zM255.8 1176.9h8v8h-8zM256.6 1178.0h8v8h-8zM257.5 1178.7h8v8h-8zM258.5 1177.5h8v8h-8zM258.9 1178.6h8v8h-8zM259.5 1178.5h8v8h-8zM260.6 1178.0h8v8h-8zM262.0 1177.8h8v8h-8zM262.1 1179.0h8v8h-8zM262.9 1178.4h8v8h-8zM263.9 1179.5h8v8h-8zM264.8 1178.5h8v8h-8zM265.7 1177.6h8v8h-8zM266.4 1178.8h8v8h-8zM267.7 1177.5h8v8h-8zM267.9 1177.9h8v8h-8zM269.2 1178.4h8v8h-8zM269.3 1177.8h8v8h-8zM270.1 1179.4h8v8h-8z" fill="#604a7b" stroke="#604a7b" stroke-width="1" stroke-linejoin="round"/>
<path d="M188.4 1063.1l3.3 3.3l-3.3 3.3l-3.3 -3.3z" fill="none" stroke="#e46c0a" stroke-width="2.3" stroke-linejoin="miter"/>
<rect x="184.0" y="1098.6" width="8.8" height="8.8" rx="1.2" fill="#604a7b"/>
<text x="202.3" y="1076.8" font-family="Liberation Serif" font-size="29.5" text-anchor="start">X</text>
<text x="202.3" y="1113.4" font-family="Liberation Serif" font-size="29.5" text-anchor="start">Y</text>
<path d="M373.6 1011.9 H614.2 V1203.4 H373.6 Z" fill="none" stroke="#000" stroke-width="1.8" stroke-linejoin="miter"/>
<path d="M364.6 1020.6 H373.6 M364.6 1066.4 H373.6 M364.6 1111.8 H373.6 M364.6 1157.6 H373.6 M364.6 1203.4 H373.6 M373.6 1203.4 V1211.4 M421.72 1203.4 V1211.4 M469.84000000000003 1203.4 V1211.4 M517.96 1203.4 V1211.4 M566.08 1203.4 V1211.4 M614.2 1203.4 V1211.4 M397.66 1203.4 V1209.4 M445.78000000000003 1203.4 V1209.4 M493.90000000000003 1203.4 V1209.4 M542.02 1203.4 V1209.4 M590.1400000000001 1203.4 V1209.4" fill="none" stroke="#000" stroke-width="1.8"/>
<text x="373.6" y="1254.3" font-family="Liberation Serif" font-size="28" text-anchor="middle">0</text>
<text x="421.72" y="1254.3" font-family="Liberation Serif" font-size="28" text-anchor="middle">1</text>
<text x="469.84000000000003" y="1254.3" font-family="Liberation Serif" font-size="28" text-anchor="middle">2</text>
<text x="517.96" y="1254.3" font-family="Liberation Serif" font-size="28" text-anchor="middle">3</text>
<text x="566.08" y="1254.3" font-family="Liberation Serif" font-size="28" text-anchor="middle">4</text>
<text x="614.2" y="1254.3" font-family="Liberation Serif" font-size="28" text-anchor="middle">5</text>
<text x="493.8" y="1286.5" font-family="Liberation Serif" font-size="29.5" font-weight="bold" text-anchor="middle">q(Å<tspan font-size="18" dy="-10.5">-1</tspan><tspan dy="10.5">)</tspan></text>
<path d="M390.5 1159.2l3.2 3.2l-3.2 3.2l-3.2 -3.2zM391.9 1159.2l3.2 3.2l-3.2 3.2l-3.2 -3.2zM392.9 1157.1l3.2 3.2l-3.2 3.2l-3.2 -3.2zM394.0 1157.6l3.2 3.2l-3.2 3.2l-3.2 -3.2zM394.9 1157.2l3.2 3.2l-3.2 3.2l-3.2 -3.2zM396.1 1157.0l3.2 3.2l-3.2 3.2l-3.2 -3.2zM396.9 1158.0l3.2 3.2l-3.2 3.2l-3.2 -3.2zM397.9 1156.8l3.2 3.2l-3.2 3.2l-3.2 -3.2zM398.5 1155.8l3.2 3.2l-3.2 3.2l-3.2 -3.2zM400.1 1154.2l3.2 3.2l-3.2 3.2l-3.2 -3.2zM400.9 1155.1l3.2 3.2l-3.2 3.2l-3.2 -3.2zM402.0 1152.4l3.2 3.2l-3.2 3.2l-3.2 -3.2zM402.7 1153.5l3.2 3.2l-3.2 3.2l-3.2 -3.2zM403.8 1151.9l3.2 3.2l-3.2 3.2l-3.2 -3.2zM405.1 1149.5l3.2 3.2l-3.2 3.2l-3.2 -3.2zM405.6 1148.0l3.2 3.2l-3.2 3.2l-3.2 -3.2zM406.9 1145.7l3.2 3.2l-3.2 3.2l-3.2 -3.2zM407.8 1146.0l3.2 3.2l-3.2 3.2l-3.2 -3.2zM408.6 1144.3l3.2 3.2l-3.2 3.2l-3.2 -3.2zM409.7 1143.1l3.2 3.2l-3.2 3.2l-3.2 -3.2zM410.8 1142.6l3.2 3.2l-3.2 3.2l-3.2 -3.2zM411.5 1142.9l3.2 3.2l-3.2 3.2l-3.2 -3.2zM413.0 1143.3l3.2 3.2l-3.2 3.2l-3.2 -3.2zM413.9 1143.4l3.2 3.2l-3.2 3.2l-3.2 -3.2zM414.7 1142.6l3.2 3.2l-3.2 3.2l-3.2 -3.2zM416.1 1143.4l3.2 3.2l-3.2 3.2l-3.2 -3.2zM416.7 1141.8l3.2 3.2l-3.2 3.2l-3.2 -3.2zM417.6 1139.6l3.2 3.2l-3.2 3.2l-3.2 -3.2zM419.0 1140.5l3.2 3.2l-3.2 3.2l-3.2 -3.2zM420.0 1139.5l3.2 3.2l-3.2 3.2l-3.2 -3.2zM420.9 1140.1l3.2 3.2l-3.2 3.2l-3.2 -3.2zM421.5 1137.5l3.2 3.2l-3.2 3.2l-3.2 -3.2zM422.5 1137.6l3.2 3.2l-3.2 3.2l-3.2 -3.2zM423.8 1136.8l3.2 3.2l-3.2 3.2l-3.2 -3.2zM424.6 1136.2l3.2 3.2l-3.2 3.2l-3.2 -3.2zM425.6 1134.2l3.2 3.2l-3.2 3.2l-3.2 -3.2zM426.9 1133.3l3.2 3.2l-3.2 3.2l-3.2 -3.2zM427.9 1127.0l3.2 3.2l-3.2 3.2l-3.2 -3.2zM429.0 1127.7l3.2 3.2l-3.2 3.2l-3.2 -3.2zM429.5 1125.6l3.2 3.2l-3.2 3.2l-3.2 -3.2zM430.6 1121.9l3.2 3.2l-3.2 3.2l-3.2 -3.2zM431.6 1120.3l3.2 3.2l-3.2 3.2l-3.2 -3.2zM433.1 1117.2l3.2 3.2l-3.2 3.2l-3.2 -3.2zM433.7 1114.2l3.2 3.2l-3.2 3.2l-3.2 -3.2zM435.0 1109.7l3.2 3.2l-3.2 3.2l-3.2 -3.2zM435.5 1104.1l3.2 3.2l-3.2 3.2l-3.2 -3.2zM436.9 1099.8l3.2 3.2l-3.2 3.2l-3.2 -3.2zM437.7 1093.1l3.2 3.2l-3.2 3.2l-3.2 -3.2zM438.6 1086.7l3.2 3.2l-3.2 3.2l-3.2 -3.2zM440.0 1076.4l3.2 3.2l-3.2 3.2l-3.2 -3.2zM440.8 1068.0l3.2 3.2l-3.2 3.2l-3.2 -3.2zM441.9 1059.4l3.2 3.2l-3.2 3.2l-3.2 -3.2zM442.5 1047.7l3.2 3.2l-3.2 3.2l-3.2 -3.2zM444.0 1037.4l3.2 3.2l-3.2 3.2l-3.2 -3.2zM444.5 1032.2l3.2 3.2l-3.2 3.2l-3.2 -3.2zM445.7 1034.0l3.2 3.2l-3.2 3.2l-3.2 -3.2zM446.7 1039.9l3.2 3.2l-3.2 3.2l-3.2 -3.2zM447.7 1045.3l3.2 3.2l-3.2 3.2l-3.2 -3.2zM448.6 1050.4l3.2 3.2l-3.2 3.2l-3.2 -3.2zM449.8 1058.2l3.2 3.2l-3.2 3.2l-3.2 -3.2zM450.6 1063.2l3.2 3.2l-3.2 3.2l-3.2 -3.2zM451.8 1069.4l3.2 3.2l-3.2 3.2l-3.2 -3.2zM453.0 1077.0l3.2 3.2l-3.2 3.2l-3.2 -3.2zM453.6 1084.9l3.2 3.2l-3.2 3.2l-3.2 -3.2zM454.5 1090.7l3.2 3.2l-3.2 3.2l-3.2 -3.2zM456.0 1095.8l3.2 3.2l-3.2 3.2l-3.2 -3.2zM456.8 1102.0l3.2 3.2l-3.2 3.2l-3.2 -3.2zM457.9 1105.3l3.2 3.2l-3.2 3.2l-3.2 -3.2zM458.9 1110.4l3.2 3.2l-3.2 3.2l-3.2 -3.2zM460.0 1117.1l3.2 3.2l-3.2 3.2l-3.2 -3.2zM460.8 1120.1l3.2 3.2l-3.2 3.2l-3.2 -3.2zM461.5 1126.1l3.2 3.2l-3.2 3.2l-3.2 -3.2zM463.0 1129.7l3.2 3.2l-3.2 3.2l-3.2 -3.2zM463.9 1135.8l3.2 3.2l-3.2 3.2l-3.2 -3.2zM465.1 1140.6l3.2 3.2l-3.2 3.2l-3.2 -3.2zM466.0 1140.1l3.2 3.2l-3.2 3.2l-3.2 -3.2zM466.9 1141.5l3.2 3.2l-3.2 3.2l-3.2 -3.2zM467.9 1142.5l3.2 3.2l-3.2 3.2l-3.2 -3.2zM468.9 1142.4l3.2 3.2l-3.2 3.2l-3.2 -3.2zM470.0 1145.8l3.2 3.2l-3.2 3.2l-3.2 -3.2zM471.0 1147.4l3.2 3.2l-3.2 3.2l-3.2 -3.2zM471.6 1146.5l3.2 3.2l-3.2 3.2l-3.2 -3.2zM473.0 1147.9l3.2 3.2l-3.2 3.2l-3.2 -3.2zM474.0 1147.1l3.2 3.2l-3.2 3.2l-3.2 -3.2zM474.6 1148.5l3.2 3.2l-3.2 3.2l-3.2 -3.2zM475.8 1149.0l3.2 3.2l-3.2 3.2l-3.2 -3.2zM477.1 1150.0l3.2 3.2l-3.2 3.2l-3.2 -3.2zM478.0 1151.1l3.2 3.2l-3.2 3.2l-3.2 -3.2zM479.0 1151.3l3.2 3.2l-3.2 3.2l-3.2 -3.2zM479.8 1152.6l3.2 3.2l-3.2 3.2l-3.2 -3.2zM480.6 1155.0l3.2 3.2l-3.2 3.2l-3.2 -3.2zM481.6 1153.5l3.2 3.2l-3.2 3.2l-3.2 -3.2zM482.6 1155.8l3.2 3.2l-3.2 3.2l-3.2 -3.2zM483.8 1153.9l3.2 3.2l-3.2 3.2l-3.2 -3.2zM485.0 1158.5l3.2 3.2l-3.2 3.2l-3.2 -3.2zM486.0 1155.2l3.2 3.2l-3.2 3.2l-3.2 -3.2zM486.9 1156.7l3.2 3.2l-3.2 3.2l-3.2 -3.2zM488.0 1155.8l3.2 3.2l-3.2 3.2l-3.2 -3.2zM489.0 1156.1l3.2 3.2l-3.2 3.2l-3.2 -3.2zM490.0 1154.8l3.2 3.2l-3.2 3.2l-3.2 -3.2zM491.0 1158.0l3.2 3.2l-3.2 3.2l-3.2 -3.2zM491.6 1154.4l3.2 3.2l-3.2 3.2l-3.2 -3.2zM492.5 1155.1l3.2 3.2l-3.2 3.2l-3.2 -3.2zM493.7 1156.7l3.2 3.2l-3.2 3.2l-3.2 -3.2zM494.8 1157.2l3.2 3.2l-3.2 3.2l-3.2 -3.2zM495.8 1154.0l3.2 3.2l-3.2 3.2l-3.2 -3.2zM497.1 1156.9l3.2 3.2l-3.2 3.2l-3.2 -3.2zM497.7 1156.7l3.2 3.2l-3.2 3.2l-3.2 -3.2zM498.8 1154.3l3.2 3.2l-3.2 3.2l-3.2 -3.2zM499.8 1153.7l3.2 3.2l-3.2 3.2l-3.2 -3.2zM500.7 1155.4l3.2 3.2l-3.2 3.2l-3.2 -3.2zM501.6 1154.8l3.2 3.2l-3.2 3.2l-3.2 -3.2zM503.0 1155.6l3.2 3.2l-3.2 3.2l-3.2 -3.2zM503.9 1155.3l3.2 3.2l-3.2 3.2l-3.2 -3.2zM504.8 1154.2l3.2 3.2l-3.2 3.2l-3.2 -3.2zM505.7 1155.0l3.2 3.2l-3.2 3.2l-3.2 -3.2zM506.7 1153.6l3.2 3.2l-3.2 3.2l-3.2 -3.2zM507.7 1154.0l3.2 3.2l-3.2 3.2l-3.2 -3.2zM508.9 1156.4l3.2 3.2l-3.2 3.2l-3.2 -3.2zM509.7 1153.9l3.2 3.2l-3.2 3.2l-3.2 -3.2zM511.1 1156.1l3.2 3.2l-3.2 3.2l-3.2 -3.2zM511.9 1155.4l3.2 3.2l-3.2 3.2l-3.2 -3.2zM513.0 1156.1l3.2 3.2l-3.2 3.2l-3.2 -3.2zM514.1 1156.2l3.2 3.2l-3.2 3.2l-3.2 -3.2zM515.0 1157.3l3.2 3.2l-3.2 3.2l-3.2 -3.2zM515.9 1157.2l3.2 3.2l-3.2 3.2l-3.2 -3.2zM516.6 1158.6l3.2 3.2l-3.2 3.2l-3.2 -3.2zM517.6 1156.5l3.2 3.2l-3.2 3.2l-3.2 -3.2zM519.0 1158.2l3.2 3.2l-3.2 3.2l-3.2 -3.2zM520.1 1157.3l3.2 3.2l-3.2 3.2l-3.2 -3.2zM520.6 1157.2l3.2 3.2l-3.2 3.2l-3.2 -3.2zM521.8 1160.3l3.2 3.2l-3.2 3.2l-3.2 -3.2zM522.6 1160.1l3.2 3.2l-3.2 3.2l-3.2 -3.2zM523.8 1160.2l3.2 3.2l-3.2 3.2l-3.2 -3.2zM524.9 1162.5l3.2 3.2l-3.2 3.2l-3.2 -3.2zM525.7 1160.5l3.2 3.2l-3.2 3.2l-3.2 -3.2zM526.8 1160.5l3.2 3.2l-3.2 3.2l-3.2 -3.2zM527.8 1162.9l3.2 3.2l-3.2 3.2l-3.2 -3.2zM528.8 1162.7l3.2 3.2l-3.2 3.2l-3.2 -3.2zM530.0 1162.7l3.2 3.2l-3.2 3.2l-3.2 -3.2zM530.8 1163.2l3.2 3.2l-3.2 3.2l-3.2 -3.2zM531.6 1164.3l3.2 3.2l-3.2 3.2l-3.2 -3.2zM532.8 1164.8l3.2 3.2l-3.2 3.2l-3.2 -3.2zM533.8 1164.6l3.2 3.2l-3.2 3.2l-3.2 -3.2zM534.5 1164.7l3.2 3.2l-3.2 3.2l-3.2 -3.2zM535.7 1167.0l3.2 3.2l-3.2 3.2l-3.2 -3.2zM537.1 1165.0l3.2 3.2l-3.2 3.2l-3.2 -3.2zM537.7 1166.7l3.2 3.2l-3.2 3.2l-3.2 -3.2zM538.8 1165.1l3.2 3.2l-3.2 3.2l-3.2 -3.2zM539.6 1168.2l3.2 3.2l-3.2 3.2l-3.2 -3.2zM541.0 1164.4l3.2 3.2l-3.2 3.2l-3.2 -3.2zM541.7 1168.2l3.2 3.2l-3.2 3.2l-3.2 -3.2zM542.7 1169.7l3.2 3.2l-3.2 3.2l-3.2 -3.2zM543.5 1169.1l3.2 3.2l-3.2 3.2l-3.2 -3.2zM544.7 1167.6l3.2 3.2l-3.2 3.2l-3.2 -3.2zM546.0 1170.4l3.2 3.2l-3.2 3.2l-3.2 -3.2zM547.0 1170.9l3.2 3.2l-3.2 3.2l-3.2 -3.2zM547.9 1169.2l3.2 3.2l-3.2 3.2l-3.2 -3.2zM548.7 1170.8l3.2 3.2l-3.2 3.2l-3.2 -3.2zM550.0 1170.9l3.2 3.2l-3.2 3.2l-3.2 -3.2zM550.9 1171.8l3.2 3.2l-3.2 3.2l-3.2 -3.2zM551.5 1170.8l3.2 3.2l-3.2 3.2l-3.2 -3.2zM553.1 1170.4l3.2 3.2l-3.2 3.2l-3.2 -3.2zM553.5 1170.2l3.2 3.2l-3.2 3.2l-3.2 -3.2zM554.9 1171.4l3.2 3.2l-3.2 3.2l-3.2 -3.2zM555.8 1172.0l3.2 3.2l-3.2 3.2l-3.2 -3.2zM557.0 1170.7l3.2 3.2l-3.2 3.2l-3.2 -3.2zM557.6 1170.7l3.2 3.2l-3.2 3.2l-3.2 -3.2zM558.5 1171.2l3.2 3.2l-3.2 3.2l-3.2 -3.2zM560.0 1172.5l3.2 3.2l-3.2 3.2l-3.2 -3.2zM560.9 1170.9l3.2 3.2l-3.2 3.2l-3.2 -3.2zM561.7 1173.2l3.2 3.2l-3.2 3.2l-3.2 -3.2zM563.0 1172.8l3.2 3.2l-3.2 3.2l-3.2 -3.2zM563.6 1170.1l3.2 3.2l-3.2 3.2l-3.2 -3.2zM564.8 1172.6l3.2 3.2l-3.2 3.2l-3.2 -3.2zM565.7 1172.4l3.2 3.2l-3.2 3.2l-3.2 -3.2zM566.9 1170.9l3.2 3.2l-3.2 3.2l-3.2 -3.2zM568.0 1172.4l3.2 3.2l-3.2 3.2l-3.2 -3.2zM568.7 1173.4l3.2 3.2l-3.2 3.2l-3.2 -3.2zM569.9 1172.3l3.2 3.2l-3.2 3.2l-3.2 -3.2zM571.0 1172.2l3.2 3.2l-3.2 3.2l-3.2 -3.2zM571.7 1171.8l3.2 3.2l-3.2 3.2l-3.2 -3.2zM572.8 1173.9l3.2 3.2l-3.2 3.2l-3.2 -3.2zM574.1 1173.4l3.2 3.2l-3.2 3.2l-3.2 -3.2zM575.0 1173.8l3.2 3.2l-3.2 3.2l-3.2 -3.2zM576.0 1171.9l3.2 3.2l-3.2 3.2l-3.2 -3.2zM576.9 1172.4l3.2 3.2l-3.2 3.2l-3.2 -3.2zM578.0 1173.9l3.2 3.2l-3.2 3.2l-3.2 -3.2zM578.6 1173.6l3.2 3.2l-3.2 3.2l-3.2 -3.2zM579.9 1171.9l3.2 3.2l-3.2 3.2l-3.2 -3.2zM580.8 1171.8l3.2 3.2l-3.2 3.2l-3.2 -3.2zM581.5 1172.0l3.2 3.2l-3.2 3.2l-3.2 -3.2zM582.6 1172.3l3.2 3.2l-3.2 3.2l-3.2 -3.2zM583.7 1174.0l3.2 3.2l-3.2 3.2l-3.2 -3.2zM584.7 1172.6l3.2 3.2l-3.2 3.2l-3.2 -3.2zM585.8 1173.2l3.2 3.2l-3.2 3.2l-3.2 -3.2zM586.6 1173.2l3.2 3.2l-3.2 3.2l-3.2 -3.2zM587.7 1171.8l3.2 3.2l-3.2 3.2l-3.2 -3.2zM588.9 1173.2l3.2 3.2l-3.2 3.2l-3.2 -3.2zM589.9 1173.0l3.2 3.2l-3.2 3.2l-3.2 -3.2zM590.7 1172.7l3.2 3.2l-3.2 3.2l-3.2 -3.2zM591.7 1173.0l3.2 3.2l-3.2 3.2l-3.2 -3.2zM592.6 1172.4l3.2 3.2l-3.2 3.2l-3.2 -3.2zM593.9 1171.7l3.2 3.2l-3.2 3.2l-3.2 -3.2zM594.7 1173.3l3.2 3.2l-3.2 3.2l-3.2 -3.2zM595.7 1172.7l3.2 3.2l-3.2 3.2l-3.2 -3.2zM597.0 1170.9l3.2 3.2l-3.2 3.2l-3.2 -3.2zM598.0 1171.8l3.2 3.2l-3.2 3.2l-3.2 -3.2zM598.0 1173.8l3.2 3.2l-3.2 3.2l-3.2 -3.2zM590.0 1172.8l3.2 3.2l-3.2 3.2l-3.2 -3.2z" fill="none" stroke="#e46c0a" stroke-width="1.8" stroke-linejoin="miter"/>
<path d="M379.9 1180.9h8v8h-8zM379.3 1179.8h8v8h-8zM379.9 1178.8h8v8h-8zM379.4 1178.2h8v8h-8zM379.5 1178.0h8v8h-8zM379.0 1176.4h8v8h-8zM379.8 1176.5h8v8h-8zM379.7 1174.9h8v8h-8zM379.8 1175.6h8v8h-8zM379.2 1172.7h8v8h-8zM379.5 1173.2h8v8h-8zM379.5 1171.2h8v8h-8zM379.8 1172.1h8v8h-8zM379.8 1170.8h8v8h-8zM379.3 1171.2h8v8h-8zM379.3 1170.3h8v8h-8zM379.7 1169.6h8v8h-8zM379.6 1166.9h8v8h-8zM379.2 1165.9h8v8h-8zM379.7 1166.0h8v8h-8zM379.2 1163.6h8v8h-8zM379.0 1164.0h8v8h-8zM379.7 1162.0h8v8h-8zM379.6 1162.0h8v8h-8zM379.1 1162.4h8v8h-8zM379.3 1160.6h8v8h-8zM379.0 1160.3h8v8h-8zM379.2 1159.1h8v8h-8zM379.2 1158.6h8v8h-8zM379.4 1157.4h8v8h-8zM379.6 1157.1h8v8h-8zM379.7 1155.7h8v8h-8zM379.9 1154.0h8v8h-8zM380.6 1153.4h8v8h-8zM380.4 1152.6h8v8h-8zM380.7 1151.5h8v8h-8zM380.7 1153.7h8v8h-8zM380.9 1151.9h8v8h-8zM380.8 1149.6h8v8h-8zM381.1 1149.0h8v8h-8zM381.4 1148.9h8v8h-8zM381.7 1148.7h8v8h-8zM381.9 1147.3h8v8h-8zM382.6 1145.5h8v8h-8zM382.6 1146.3h8v8h-8zM382.4 1144.9h8v8h-8zM382.8 1145.3h8v8h-8zM383.1 1144.6h8v8h-8zM383.4 1143.0h8v8h-8zM384.2 1142.1h8v8h-8zM384.0 1142.1h8v8h-8zM384.4 1140.8h8v8h-8zM385.4 1140.0h8v8h-8zM386.3 1140.4h8v8h-8zM386.8 1138.0h8v8h-8zM387.1 1137.4h8v8h-8zM387.5 1136.9h8v8h-8zM388.6 1135.1h8v8h-8zM388.9 1135.8h8v8h-8zM389.2 1135.2h8v8h-8zM389.6 1134.1h8v8h-8zM391.0 1134.3h8v8h-8zM391.3 1131.6h8v8h-8zM392.3 1131.5h8v8h-8zM393.1 1131.6h8v8h-8zM393.4 1131.7h8v8h-8zM394.2 1132.3h8v8h-8zM394.5 1131.0h8v8h-8zM395.3 1131.5h8v8h-8zM396.3 1131.8h8v8h-8zM396.7 1131.1h8v8h-8zM397.4 1129.9h8v8h-8zM397.9 1130.4h8v8h-8zM399.3 1128.7h8v8h-8zM400.2 1128.6h8v8h-8zM400.1 1128.2h8v8h-8zM401.2 1127.9h8v8h-8zM401.6 1128.2h8v8h-8zM402.4 1127.9h8v8h-8zM403.3 1126.3h8v8h-8zM404.5 1126.8h8v8h-8zM405.3 1125.8h8v8h-8zM405.7 1126.2h8v8h-8zM406.9 1127.3h8v8h-8zM407.2 1126.6h8v8h-8zM408.0 1125.8h8v8h-8zM409.0 1125.9h8v8h-8zM409.7 1126.8h8v8h-8zM410.2 1125.5h8v8h-8zM411.2 1125.3h8v8h-8zM412.6 1125.3h8v8h-8zM413.6 1127.3h8v8h-8zM414.0 1126.7h8v8h-8zM414.5 1126.6h8v8h-8zM415.9 1125.9h8v8h-8zM416.3 1125.8h8v8h-8zM416.9 1125.0h8v8h-8zM417.5 1124.9h8v8h-8zM418.4 1125.7h8v8h-8zM419.7 1125.0h8v8h-8zM420.5 1123.6h8v8h-8zM421.0 1124.0h8v8h-8zM421.2 1122.5h8v8h-8zM422.8 1122.4h8v8h-8zM423.2 1122.7h8v8h-8zM424.1 1122.4h8v8h-8zM424.5 1121.0h8v8h-8zM425.2 1121.3h8v8h-8zM425.5 1121.3h8v8h-8zM425.9 1119.4h8v8h-8zM426.5 1117.6h8v8h-8zM426.3 1116.0h8v8h-8zM426.8 1117.3h8v8h-8zM427.7 1115.6h8v8h-8zM427.4 1113.5h8v8h-8zM428.2 1115.6h8v8h-8zM428.5 1115.2h8v8h-8zM428.5 1114.2h8v8h-8zM429.3 1114.1h8v8h-8zM430.0 1114.2h8v8h-8zM430.4 1114.9h8v8h-8zM430.6 1114.7h8v8h-8zM430.4 1113.1h8v8h-8zM431.5 1112.3h8v8h-8zM431.3 1110.8h8v8h-8zM431.5 1109.3h8v8h-8zM432.2 1108.6h8v8h-8zM432.1 1107.8h8v8h-8zM431.9 1105.6h8v8h-8zM433.0 1104.4h8v8h-8zM433.1 1103.3h8v8h-8zM433.3 1101.0h8v8h-8zM432.5 1100.3h8v8h-8zM432.7 1100.6h8v8h-8zM433.4 1099.6h8v8h-8zM432.9 1098.2h8v8h-8zM433.3 1100.6h8v8h-8zM433.5 1096.9h8v8h-8zM433.3 1098.5h8v8h-8zM433.5 1096.8h8v8h-8zM434.1 1095.6h8v8h-8zM434.3 1098.1h8v8h-8zM434.8 1094.5h8v8h-8zM434.5 1094.5h8v8h-8zM434.2 1093.2h8v8h-8zM434.5 1092.6h8v8h-8zM435.3 1090.8h8v8h-8zM435.2 1091.0h8v8h-8zM434.9 1091.0h8v8h-8zM435.5 1090.4h8v8h-8zM435.3 1089.5h8v8h-8zM435.3 1089.8h8v8h-8zM436.3 1087.6h8v8h-8zM436.4 1087.9h8v8h-8zM435.8 1086.9h8v8h-8zM436.3 1085.5h8v8h-8zM436.3 1083.2h8v8h-8zM436.8 1083.1h8v8h-8zM436.5 1082.8h8v8h-8zM436.8 1081.6h8v8h-8zM436.9 1081.1h8v8h-8zM437.1 1080.2h8v8h-8zM436.8 1078.4h8v8h-8zM437.0 1079.4h8v8h-8zM437.1 1076.3h8v8h-8zM437.7 1075.5h8v8h-8zM437.1 1075.6h8v8h-8zM437.2 1074.9h8v8h-8zM437.5 1073.2h8v8h-8zM437.4 1071.0h8v8h-8zM438.0 1072.0h8v8h-8zM437.5 1071.6h8v8h-8zM437.7 1071.4h8v8h-8zM438.1 1069.9h8v8h-8zM438.6 1070.4h8v8h-8zM438.5 1069.3h8v8h-8zM438.0 1067.8h8v8h-8zM438.1 1068.8h8v8h-8zM438.3 1067.5h8v8h-8zM438.5 1068.1h8v8h-8zM438.8 1065.4h8v8h-8zM439.2 1065.7h8v8h-8zM439.0 1063.8h8v8h-8zM438.6 1062.2h8v8h-8zM439.5 1062.8h8v8h-8zM439.5 1062.0h8v8h-8zM438.9 1060.2h8v8h-8zM438.9 1060.3h8v8h-8zM439.4 1060.2h8v8h-8zM439.9 1059.4h8v8h-8zM439.6 1057.6h8v8h-8zM439.9 1056.8h8v8h-8zM440.3 1056.7h8v8h-8zM439.5 1056.2h8v8h-8zM440.5 1055.5h8v8h-8zM440.0 1053.9h8v8h-8zM440.3 1052.7h8v8h-8zM440.3 1051.8h8v8h-8zM440.7 1051.7h8v8h-8zM440.2 1049.5h8v8h-8zM440.6 1050.1h8v8h-8zM441.3 1049.5h8v8h-8zM440.9 1048.7h8v8h-8zM441.7 1046.7h8v8h-8zM442.0 1046.8h8v8h-8zM442.0 1045.6h8v8h-8zM442.4 1044.4h8v8h-8zM442.4 1043.3h8v8h-8zM442.6 1043.5h8v8h-8zM443.7 1044.2h8v8h-8zM444.1 1046.8h8v8h-8zM444.4 1044.5h8v8h-8zM444.7 1046.4h8v8h-8zM445.1 1045.7h8v8h-8zM444.8 1047.1h8v8h-8zM445.2 1047.5h8v8h-8zM445.4 1046.6h8v8h-8zM446.0 1047.5h8v8h-8zM446.3 1046.1h8v8h-8zM446.2 1048.5h8v8h-8zM446.8 1050.7h8v8h-8zM446.4 1049.9h8v8h-8zM447.0 1051.1h8v8h-8zM447.4 1052.5h8v8h-8zM447.6 1053.6h8v8h-8zM446.7 1054.2h8v8h-8zM447.2 1054.7h8v8h-8zM447.8 1056.2h8v8h-8zM447.5 1057.4h8v8h-8zM447.6 1057.9h8v8h-8zM447.3 1059.8h8v8h-8zM447.4 1059.2h8v8h-8zM447.7 1060.7h8v8h-8zM447.8 1060.8h8v8h-8zM448.1 1061.4h8v8h-8zM447.7 1063.7h8v8h-8zM448.3 1064.7h8v8h-8zM448.1 1065.6h8v8h-8zM448.3 1065.2h8v8h-8zM448.5 1066.9h8v8h-8zM448.2 1069.1h8v8h-8zM449.0 1069.2h8v8h-8zM448.4 1071.0h8v8h-8zM448.7 1070.8h8v8h-8zM449.3 1071.8h8v8h-8zM448.6 1072.3h8v8h-8zM449.1 1072.5h8v8h-8zM449.2 1073.3h8v8h-8zM449.6 1073.7h8v8h-8zM449.2 1073.3h8v8h-8zM449.2 1074.9h8v8h-8zM449.8 1075.0h8v8h-8zM449.3 1076.6h8v8h-8zM449.3 1077.6h8v8h-8zM450.2 1077.2h8v8h-8zM449.5 1077.6h8v8h-8zM449.9 1079.0h8v8h-8zM450.0 1080.9h8v8h-8zM449.8 1082.2h8v8h-8zM450.0 1082.7h8v8h-8zM450.2 1082.8h8v8h-8zM450.2 1084.0h8v8h-8zM450.8 1083.8h8v8h-8zM451.1 1085.7h8v8h-8zM451.0 1086.6h8v8h-8zM451.2 1088.1h8v8h-8zM450.9 1087.0h8v8h-8zM451.2 1087.7h8v8h-8zM451.9 1088.1h8v8h-8zM451.2 1090.5h8v8h-8zM451.7 1091.5h8v8h-8zM451.9 1089.8h8v8h-8zM452.5 1092.0h8v8h-8zM452.5 1092.1h8v8h-8zM452.1 1092.0h8v8h-8zM452.2 1094.0h8v8h-8zM452.3 1096.5h8v8h-8zM452.6 1095.3h8v8h-8zM453.2 1096.1h8v8h-8zM453.3 1097.1h8v8h-8zM453.5 1098.4h8v8h-8zM453.1 1100.9h8v8h-8zM453.1 1101.5h8v8h-8zM453.2 1100.9h8v8h-8zM453.7 1102.2h8v8h-8zM453.4 1102.8h8v8h-8zM454.4 1103.6h8v8h-8zM454.5 1103.4h8v8h-8zM454.1 1103.3h8v8h-8zM453.8 1104.7h8v8h-8zM453.9 1105.6h8v8h-8zM454.8 1107.5h8v8h-8zM454.4 1107.8h8v8h-8zM454.3 1108.9h8v8h-8zM454.7 1110.5h8v8h-8zM454.9 1110.1h8v8h-8zM454.9 1111.0h8v8h-8zM455.1 1112.4h8v8h-8zM455.5 1110.7h8v8h-8zM455.6 1115.0h8v8h-8zM455.4 1116.0h8v8h-8zM456.0 1116.1h8v8h-8zM456.2 1116.7h8v8h-8zM455.9 1117.0h8v8h-8zM456.3 1120.0h8v8h-8zM456.6 1118.9h8v8h-8zM456.9 1120.5h8v8h-8zM456.5 1122.2h8v8h-8zM457.1 1122.2h8v8h-8zM457.5 1121.6h8v8h-8zM457.0 1123.1h8v8h-8zM457.8 1122.7h8v8h-8zM457.6 1124.0h8v8h-8zM457.9 1125.7h8v8h-8zM457.6 1125.9h8v8h-8zM458.5 1125.0h8v8h-8zM458.0 1125.0h8v8h-8zM458.7 1127.1h8v8h-8zM458.0 1129.3h8v8h-8zM458.4 1127.8h8v8h-8zM458.6 1130.3h8v8h-8zM458.8 1131.2h8v8h-8zM458.9 1131.6h8v8h-8zM458.7 1134.2h8v8h-8zM459.7 1134.4h8v8h-8zM459.2 1135.9h8v8h-8zM459.1 1135.7h8v8h-8zM459.2 1136.8h8v8h-8zM459.6 1137.4h8v8h-8zM460.4 1140.3h8v8h-8zM460.5 1140.6h8v8h-8zM461.3 1140.9h8v8h-8zM461.2 1142.0h8v8h-8zM461.8 1143.2h8v8h-8zM462.4 1144.0h8v8h-8zM462.7 1144.6h8v8h-8zM463.1 1144.7h8v8h-8zM464.2 1144.3h8v8h-8zM464.7 1146.1h8v8h-8zM464.3 1145.9h8v8h-8zM465.0 1144.7h8v8h-8zM465.6 1145.8h8v8h-8zM465.9 1145.2h8v8h-8zM466.6 1146.7h8v8h-8zM467.6 1146.8h8v8h-8zM467.2 1147.9h8v8h-8zM467.7 1150.1h8v8h-8zM468.5 1150.0h8v8h-8zM469.7 1151.5h8v8h-8zM469.6 1151.9h8v8h-8zM471.0 1151.8h8v8h-8zM471.8 1151.7h8v8h-8zM472.0 1152.2h8v8h-8zM473.1 1152.9h8v8h-8zM473.6 1153.3h8v8h-8zM474.2 1153.6h8v8h-8zM475.4 1155.2h8v8h-8zM475.9 1153.7h8v8h-8zM475.9 1152.3h8v8h-8zM477.1 1155.1h8v8h-8zM478.0 1154.2h8v8h-8zM478.7 1154.4h8v8h-8zM479.3 1154.0h8v8h-8zM479.9 1156.9h8v8h-8zM480.8 1157.5h8v8h-8zM481.2 1156.9h8v8h-8zM481.9 1158.3h8v8h-8zM483.1 1158.2h8v8h-8zM483.5 1159.3h8v8h-8zM484.9 1158.4h8v8h-8zM486.1 1159.2h8v8h-8zM486.9 1160.0h8v8h-8zM487.7 1160.1h8v8h-8zM488.5 1159.7h8v8h-8zM488.4 1160.7h8v8h-8zM489.3 1160.2h8v8h-8zM490.2 1160.4h8v8h-8zM491.0 1159.9h8v8h-8zM492.5 1160.9h8v8h-8zM492.9 1161.2h8v8h-8zM493.6 1160.3h8v8h-8zM495.1 1159.0h8v8h-8zM495.0 1159.5h8v8h-8zM496.7 1159.1h8v8h-8zM496.8 1158.8h8v8h-8zM497.4 1158.5h8v8h-8zM498.8 1157.0h8v8h-8zM499.8 1158.8h8v8h-8zM500.3 1156.8h8v8h-8zM500.9 1156.8h8v8h-8zM502.3 1157.5h8v8h-8zM502.4 1157.5h8v8h-8zM503.8 1158.0h8v8h-8zM504.0 1158.2h8v8h-8zM505.4 1159.2h8v8h-8zM505.8 1158.2h8v8h-8zM506.9 1157.9h8v8h-8zM507.7 1158.3h8v8h-8zM508.9 1159.5h8v8h-8zM509.7 1159.1h8v8h-8zM509.8 1159.7h8v8h-8zM511.2 1161.3h8v8h-8zM511.2 1161.7h8v8h-8zM512.5 1160.4h8v8h-8zM513.2 1161.3h8v8h-8zM514.1 1160.2h8v8h-8zM514.2 1161.2h8v8h-8zM515.4 1162.3h8v8h-8zM516.5 1163.3h8v8h-8zM516.8 1163.9h8v8h-8zM517.8 1161.3h8v8h-8zM518.6 1161.1h8v8h-8zM518.8 1162.5h8v8h-8zM520.3 1162.0h8v8h-8zM520.2 1163.5h8v8h-8zM520.8 1163.4h8v8h-8zM521.6 1162.5h8v8h-8zM522.7 1163.8h8v8h-8zM523.0 1164.4h8v8h-8zM524.3 1164.8h8v8h-8zM524.7 1164.9h8v8h-8zM526.0 1165.3h8v8h-8zM526.3 1166.9h8v8h-8zM527.1 1168.0h8v8h-8zM528.0 1168.4h8v8h-8zM528.5 1169.1h8v8h-8zM529.3 1169.3h8v8h-8zM530.1 1169.8h8v8h-8zM531.2 1171.4h8v8h-8zM532.1 1170.1h8v8h-8zM532.2 1171.1h8v8h-8zM533.8 1171.3h8v8h-8zM533.6 1170.2h8v8h-8zM535.1 1170.7h8v8h-8zM535.9 1170.2h8v8h-8zM535.9 1169.4h8v8h-8zM537.4 1171.7h8v8h-8zM537.5 1170.9h8v8h-8zM539.0 1171.7h8v8h-8zM539.5 1172.3h8v8h-8zM540.1 1171.8h8v8h-8zM541.4 1171.8h8v8h-8zM542.1 1173.5h8v8h-8zM542.3 1174.1h8v8h-8zM543.0 1172.9h8v8h-8zM544.6 1172.0h8v8h-8zM545.5 1173.2h8v8h-8zM545.5 1172.1h8v8h-8zM546.5 1174.1h8v8h-8zM547.8 1173.5h8v8h-8zM547.8 1174.1h8v8h-8zM549.6 1173.5h8v8h-8zM549.7 1173.2h8v8h-8zM550.7 1175.4h8v8h-8zM551.5 1175.9h8v8h-8zM551.9 1173.7h8v8h-8zM553.3 1175.5h8v8h-8zM553.9 1175.0h8v8h-8zM555.1 1174.9h8v8h-8zM555.9 1174.1h8v8h-8zM556.4 1175.0h8v8h-8zM557.2 1176.2h8v8h-8zM558.3 1176.7h8v8h-8zM559.4 1176.8h8v8h-8zM559.5 1178.1h8v8h-8zM560.2 1176.7h8v8h-8zM561.1 1177.5h8v8h-8zM561.9 1175.9h8v8h-8zM562.9 1176.2h8v8h-8zM564.1 1176.4h8v8h-8zM564.5 1177.9h8v8h-8zM565.4 1175.8h8v8h-8zM566.6 1175.3h8v8h-8zM566.5 1175.0h8v8h-8zM567.4 1176.4h8v8h-8zM568.5 1174.7h8v8h-8zM569.1 1175.5h8v8h-8zM570.2 1175.9h8v8h-8zM571.2 1175.4h8v8h-8zM571.7 1175.8h8v8h-8zM572.3 1174.7h8v8h-8zM573.9 1175.3h8v8h-8zM574.4 1176.5h8v8h-8zM575.2 1177.2h8v8h-8zM576.3 1175.8h8v8h-8zM576.4 1175.6h8v8h-8zM577.1 1174.3h8v8h-8zM578.8 1174.6h8v8h-8zM579.3 1174.3h8v8h-8zM580.4 1174.7h8v8h-8zM580.8 1175.0h8v8h-8zM582.0 1174.3h8v8h-8zM582.0 1173.6h8v8h-8zM582.8 1173.8h8v8h-8zM583.8 1175.3h8v8h-8zM584.9 1175.1h8v8h-8zM585.5 1174.9h8v8h-8zM586.1 1174.2h8v8h-8zM587.3 1175.0h8v8h-8zM588.1 1175.7h8v8h-8zM589.3 1174.7h8v8h-8zM590.2 1175.9h8v8h-8zM590.6 1174.5h8v8h-8zM591.5 1176.5h8v8h-8zM592.1 1175.8h8v8h-8zM593.4 1175.8h8v8h-8zM593.7 1176.4h8v8h-8zM595.1 1177.3h8v8h-8zM595.8 1176.9h8v8h-8zM596.5 1176.4h8v8h-8z" fill="#604a7b" stroke="#604a7b" stroke-width="1" stroke-linejoin="round"/>
<path d="M529.9 1066.2l3.3 3.3l-3.3 3.3l-3.3 -3.3z" fill="none" stroke="#e46c0a" stroke-width="2.3" stroke-linejoin="miter"/>
<rect x="525.5" y="1101.5" width="8.8" height="8.8" rx="1.2" fill="#604a7b"/>
<text x="542.9" y="1080.6" font-family="Liberation Serif" font-size="29.5" text-anchor="start">X</text>
<text x="542.9" y="1116.8" font-family="Liberation Serif" font-size="29.5" text-anchor="start">Y</text>
<path d="M690.3 1009.3 H926.5 V1203.9 H690.3 Z" fill="none" stroke="#000" stroke-width="1.8" stroke-linejoin="miter"/>
<path d="M681.3 1009.3 H690.3 M681.3 1048 H690.3 M681.3 1086.7 H690.3 M681.3 1125.4 H690.3 M681.3 1164.7 H690.3 M681.3 1203.9 H690.3 M690.3 1203.9 V1211.9 M737.54 1203.9 V1211.9 M784.78 1203.9 V1211.9 M832.02 1203.9 V1211.9 M879.26 1203.9 V1211.9 M926.5 1203.9 V1211.9 M713.92 1203.9 V1209.9 M761.16 1203.9 V1209.9 M808.4 1203.9 V1209.9 M855.64 1203.9 V1209.9 M902.88 1203.9 V1209.9" fill="none" stroke="#000" stroke-width="1.8"/>
<text x="690.3" y="1254" font-family="Liberation Serif" font-size="28" text-anchor="middle">0</text>
<text x="737.54" y="1254" font-family="Liberation Serif" font-size="28" text-anchor="middle">1</text>
<text x="784.78" y="1254" font-family="Liberation Serif" font-size="28" text-anchor="middle">2</text>
<text x="832.02" y="1254" font-family="Liberation Serif" font-size="28" text-anchor="middle">3</text>
<text x="879.26" y="1254" font-family="Liberation Serif" font-size="28" text-anchor="middle">4</text>
<text x="926.5" y="1254" font-family="Liberation Serif" font-size="28" text-anchor="middle">5</text>
<text x="804" y="1286.5" font-family="Liberation Serif" font-size="29.5" font-weight="bold" text-anchor="middle">q(Å<tspan font-size="18" dy="-10.5">-1</tspan><tspan dy="10.5">)</tspan></text>
<path d="M706.9 1162.1l3.2 3.2l-3.2 3.2l-3.2 -3.2zM707.8 1163.5l3.2 3.2l-3.2 3.2l-3.2 -3.2zM709.1 1161.0l3.2 3.2l-3.2 3.2l-3.2 -3.2zM709.7 1162.5l3.2 3.2l-3.2 3.2l-3.2 -3.2zM710.8 1159.7l3.2 3.2l-3.2 3.2l-3.2 -3.2zM711.9 1161.1l3.2 3.2l-3.2 3.2l-3.2 -3.2zM712.9 1159.4l3.2 3.2l-3.2 3.2l-3.2 -3.2zM713.7 1156.2l3.2 3.2l-3.2 3.2l-3.2 -3.2zM715.1 1157.1l3.2 3.2l-3.2 3.2l-3.2 -3.2zM715.8 1157.9l3.2 3.2l-3.2 3.2l-3.2 -3.2zM717.0 1155.0l3.2 3.2l-3.2 3.2l-3.2 -3.2zM717.9 1155.6l3.2 3.2l-3.2 3.2l-3.2 -3.2zM719.0 1154.9l3.2 3.2l-3.2 3.2l-3.2 -3.2zM720.3 1153.5l3.2 3.2l-3.2 3.2l-3.2 -3.2zM720.9 1154.4l3.2 3.2l-3.2 3.2l-3.2 -3.2zM721.8 1152.4l3.2 3.2l-3.2 3.2l-3.2 -3.2zM722.8 1152.0l3.2 3.2l-3.2 3.2l-3.2 -3.2zM724.0 1152.0l3.2 3.2l-3.2 3.2l-3.2 -3.2zM724.7 1150.5l3.2 3.2l-3.2 3.2l-3.2 -3.2zM726.0 1152.2l3.2 3.2l-3.2 3.2l-3.2 -3.2zM726.8 1150.1l3.2 3.2l-3.2 3.2l-3.2 -3.2zM727.8 1149.6l3.2 3.2l-3.2 3.2l-3.2 -3.2zM729.3 1149.4l3.2 3.2l-3.2 3.2l-3.2 -3.2zM730.3 1149.1l3.2 3.2l-3.2 3.2l-3.2 -3.2zM730.9 1147.6l3.2 3.2l-3.2 3.2l-3.2 -3.2zM731.8 1147.7l3.2 3.2l-3.2 3.2l-3.2 -3.2zM733.1 1146.2l3.2 3.2l-3.2 3.2l-3.2 -3.2zM734.0 1144.9l3.2 3.2l-3.2 3.2l-3.2 -3.2zM734.8 1145.3l3.2 3.2l-3.2 3.2l-3.2 -3.2zM735.9 1145.4l3.2 3.2l-3.2 3.2l-3.2 -3.2zM737.0 1143.5l3.2 3.2l-3.2 3.2l-3.2 -3.2zM737.8 1143.2l3.2 3.2l-3.2 3.2l-3.2 -3.2zM739.0 1140.7l3.2 3.2l-3.2 3.2l-3.2 -3.2zM739.7 1138.7l3.2 3.2l-3.2 3.2l-3.2 -3.2zM740.9 1138.9l3.2 3.2l-3.2 3.2l-3.2 -3.2zM742.0 1139.2l3.2 3.2l-3.2 3.2l-3.2 -3.2zM742.9 1139.5l3.2 3.2l-3.2 3.2l-3.2 -3.2zM744.1 1137.4l3.2 3.2l-3.2 3.2l-3.2 -3.2zM744.8 1136.4l3.2 3.2l-3.2 3.2l-3.2 -3.2zM745.9 1133.3l3.2 3.2l-3.2 3.2l-3.2 -3.2zM746.9 1130.3l3.2 3.2l-3.2 3.2l-3.2 -3.2zM748.1 1126.3l3.2 3.2l-3.2 3.2l-3.2 -3.2zM749.0 1126.3l3.2 3.2l-3.2 3.2l-3.2 -3.2zM750.3 1124.6l3.2 3.2l-3.2 3.2l-3.2 -3.2zM750.8 1117.6l3.2 3.2l-3.2 3.2l-3.2 -3.2zM751.8 1109.7l3.2 3.2l-3.2 3.2l-3.2 -3.2zM752.9 1104.7l3.2 3.2l-3.2 3.2l-3.2 -3.2zM754.0 1098.3l3.2 3.2l-3.2 3.2l-3.2 -3.2zM755.1 1090.5l3.2 3.2l-3.2 3.2l-3.2 -3.2zM756.2 1078.7l3.2 3.2l-3.2 3.2l-3.2 -3.2zM756.7 1066.0l3.2 3.2l-3.2 3.2l-3.2 -3.2zM758.2 1057.1l3.2 3.2l-3.2 3.2l-3.2 -3.2zM759.1 1046.5l3.2 3.2l-3.2 3.2l-3.2 -3.2zM759.8 1033.8l3.2 3.2l-3.2 3.2l-3.2 -3.2zM761.2 1028.0l3.2 3.2l-3.2 3.2l-3.2 -3.2zM762.3 1032.3l3.2 3.2l-3.2 3.2l-3.2 -3.2zM763.1 1034.9l3.2 3.2l-3.2 3.2l-3.2 -3.2zM763.8 1042.2l3.2 3.2l-3.2 3.2l-3.2 -3.2zM764.7 1048.9l3.2 3.2l-3.2 3.2l-3.2 -3.2zM765.9 1056.3l3.2 3.2l-3.2 3.2l-3.2 -3.2zM766.8 1067.4l3.2 3.2l-3.2 3.2l-3.2 -3.2zM767.8 1075.0l3.2 3.2l-3.2 3.2l-3.2 -3.2zM769.0 1083.7l3.2 3.2l-3.2 3.2l-3.2 -3.2zM769.8 1091.2l3.2 3.2l-3.2 3.2l-3.2 -3.2zM770.8 1098.1l3.2 3.2l-3.2 3.2l-3.2 -3.2zM771.9 1104.4l3.2 3.2l-3.2 3.2l-3.2 -3.2zM773.0 1114.4l3.2 3.2l-3.2 3.2l-3.2 -3.2zM773.9 1122.8l3.2 3.2l-3.2 3.2l-3.2 -3.2zM775.0 1122.9l3.2 3.2l-3.2 3.2l-3.2 -3.2zM775.8 1127.5l3.2 3.2l-3.2 3.2l-3.2 -3.2zM777.0 1130.6l3.2 3.2l-3.2 3.2l-3.2 -3.2zM777.9 1134.7l3.2 3.2l-3.2 3.2l-3.2 -3.2zM779.1 1136.8l3.2 3.2l-3.2 3.2l-3.2 -3.2zM780.3 1141.2l3.2 3.2l-3.2 3.2l-3.2 -3.2zM780.7 1143.4l3.2 3.2l-3.2 3.2l-3.2 -3.2zM781.8 1145.4l3.2 3.2l-3.2 3.2l-3.2 -3.2zM783.1 1146.1l3.2 3.2l-3.2 3.2l-3.2 -3.2zM783.9 1148.6l3.2 3.2l-3.2 3.2l-3.2 -3.2zM784.9 1150.0l3.2 3.2l-3.2 3.2l-3.2 -3.2zM786.2 1147.0l3.2 3.2l-3.2 3.2l-3.2 -3.2zM786.8 1150.2l3.2 3.2l-3.2 3.2l-3.2 -3.2zM788.0 1152.7l3.2 3.2l-3.2 3.2l-3.2 -3.2zM789.1 1153.0l3.2 3.2l-3.2 3.2l-3.2 -3.2zM790.1 1153.8l3.2 3.2l-3.2 3.2l-3.2 -3.2zM791.1 1156.5l3.2 3.2l-3.2 3.2l-3.2 -3.2zM792.2 1155.9l3.2 3.2l-3.2 3.2l-3.2 -3.2zM792.9 1156.9l3.2 3.2l-3.2 3.2l-3.2 -3.2zM794.3 1156.7l3.2 3.2l-3.2 3.2l-3.2 -3.2zM795.2 1153.7l3.2 3.2l-3.2 3.2l-3.2 -3.2zM796.0 1156.2l3.2 3.2l-3.2 3.2l-3.2 -3.2zM796.9 1156.7l3.2 3.2l-3.2 3.2l-3.2 -3.2zM797.8 1158.5l3.2 3.2l-3.2 3.2l-3.2 -3.2zM799.1 1159.7l3.2 3.2l-3.2 3.2l-3.2 -3.2zM799.8 1157.9l3.2 3.2l-3.2 3.2l-3.2 -3.2zM801.1 1159.4l3.2 3.2l-3.2 3.2l-3.2 -3.2zM801.8 1158.5l3.2 3.2l-3.2 3.2l-3.2 -3.2zM802.9 1159.7l3.2 3.2l-3.2 3.2l-3.2 -3.2zM804.0 1159.6l3.2 3.2l-3.2 3.2l-3.2 -3.2zM805.0 1160.9l3.2 3.2l-3.2 3.2l-3.2 -3.2zM806.0 1159.5l3.2 3.2l-3.2 3.2l-3.2 -3.2zM807.2 1160.2l3.2 3.2l-3.2 3.2l-3.2 -3.2zM808.2 1160.1l3.2 3.2l-3.2 3.2l-3.2 -3.2zM809.0 1159.9l3.2 3.2l-3.2 3.2l-3.2 -3.2zM810.0 1162.0l3.2 3.2l-3.2 3.2l-3.2 -3.2zM810.9 1162.1l3.2 3.2l-3.2 3.2l-3.2 -3.2zM811.8 1160.2l3.2 3.2l-3.2 3.2l-3.2 -3.2zM813.2 1161.8l3.2 3.2l-3.2 3.2l-3.2 -3.2zM814.0 1160.5l3.2 3.2l-3.2 3.2l-3.2 -3.2zM814.8 1159.9l3.2 3.2l-3.2 3.2l-3.2 -3.2zM816.1 1160.4l3.2 3.2l-3.2 3.2l-3.2 -3.2zM817.0 1158.5l3.2 3.2l-3.2 3.2l-3.2 -3.2zM817.8 1157.9l3.2 3.2l-3.2 3.2l-3.2 -3.2zM818.8 1160.1l3.2 3.2l-3.2 3.2l-3.2 -3.2zM820.1 1157.3l3.2 3.2l-3.2 3.2l-3.2 -3.2zM821.1 1156.4l3.2 3.2l-3.2 3.2l-3.2 -3.2zM822.3 1156.1l3.2 3.2l-3.2 3.2l-3.2 -3.2zM823.1 1155.7l3.2 3.2l-3.2 3.2l-3.2 -3.2zM824.2 1154.8l3.2 3.2l-3.2 3.2l-3.2 -3.2zM824.8 1157.1l3.2 3.2l-3.2 3.2l-3.2 -3.2zM826.2 1158.2l3.2 3.2l-3.2 3.2l-3.2 -3.2zM827.0 1159.2l3.2 3.2l-3.2 3.2l-3.2 -3.2zM828.2 1158.1l3.2 3.2l-3.2 3.2l-3.2 -3.2zM829.3 1158.3l3.2 3.2l-3.2 3.2l-3.2 -3.2zM830.2 1158.3l3.2 3.2l-3.2 3.2l-3.2 -3.2zM831.0 1160.9l3.2 3.2l-3.2 3.2l-3.2 -3.2zM832.1 1160.5l3.2 3.2l-3.2 3.2l-3.2 -3.2zM833.2 1158.7l3.2 3.2l-3.2 3.2l-3.2 -3.2zM833.8 1160.3l3.2 3.2l-3.2 3.2l-3.2 -3.2zM835.2 1161.8l3.2 3.2l-3.2 3.2l-3.2 -3.2zM835.8 1160.3l3.2 3.2l-3.2 3.2l-3.2 -3.2zM837.3 1160.8l3.2 3.2l-3.2 3.2l-3.2 -3.2zM838.3 1162.7l3.2 3.2l-3.2 3.2l-3.2 -3.2zM839.0 1162.6l3.2 3.2l-3.2 3.2l-3.2 -3.2zM839.8 1162.6l3.2 3.2l-3.2 3.2l-3.2 -3.2zM841.2 1164.0l3.2 3.2l-3.2 3.2l-3.2 -3.2zM841.9 1163.0l3.2 3.2l-3.2 3.2l-3.2 -3.2zM842.9 1166.0l3.2 3.2l-3.2 3.2l-3.2 -3.2zM843.9 1165.7l3.2 3.2l-3.2 3.2l-3.2 -3.2zM845.2 1165.9l3.2 3.2l-3.2 3.2l-3.2 -3.2zM845.7 1167.7l3.2 3.2l-3.2 3.2l-3.2 -3.2zM846.9 1166.7l3.2 3.2l-3.2 3.2l-3.2 -3.2zM848.1 1168.8l3.2 3.2l-3.2 3.2l-3.2 -3.2zM849.1 1168.2l3.2 3.2l-3.2 3.2l-3.2 -3.2zM849.9 1168.5l3.2 3.2l-3.2 3.2l-3.2 -3.2zM850.8 1167.7l3.2 3.2l-3.2 3.2l-3.2 -3.2zM852.0 1170.4l3.2 3.2l-3.2 3.2l-3.2 -3.2zM852.8 1168.7l3.2 3.2l-3.2 3.2l-3.2 -3.2zM854.1 1170.7l3.2 3.2l-3.2 3.2l-3.2 -3.2zM855.2 1169.0l3.2 3.2l-3.2 3.2l-3.2 -3.2zM856.2 1170.2l3.2 3.2l-3.2 3.2l-3.2 -3.2zM857.2 1170.4l3.2 3.2l-3.2 3.2l-3.2 -3.2zM857.9 1171.3l3.2 3.2l-3.2 3.2l-3.2 -3.2zM859.2 1171.0l3.2 3.2l-3.2 3.2l-3.2 -3.2zM859.8 1172.8l3.2 3.2l-3.2 3.2l-3.2 -3.2zM861.2 1172.9l3.2 3.2l-3.2 3.2l-3.2 -3.2zM862.1 1170.9l3.2 3.2l-3.2 3.2l-3.2 -3.2zM863.0 1171.9l3.2 3.2l-3.2 3.2l-3.2 -3.2zM864.1 1172.0l3.2 3.2l-3.2 3.2l-3.2 -3.2zM864.8 1172.6l3.2 3.2l-3.2 3.2l-3.2 -3.2zM866.0 1175.3l3.2 3.2l-3.2 3.2l-3.2 -3.2zM867.2 1174.3l3.2 3.2l-3.2 3.2l-3.2 -3.2zM867.8 1174.7l3.2 3.2l-3.2 3.2l-3.2 -3.2zM869.2 1174.1l3.2 3.2l-3.2 3.2l-3.2 -3.2zM870.0 1173.6l3.2 3.2l-3.2 3.2l-3.2 -3.2zM870.9 1174.1l3.2 3.2l-3.2 3.2l-3.2 -3.2zM871.9 1174.7l3.2 3.2l-3.2 3.2l-3.2 -3.2zM873.2 1176.3l3.2 3.2l-3.2 3.2l-3.2 -3.2zM874.1 1175.2l3.2 3.2l-3.2 3.2l-3.2 -3.2zM875.0 1177.2l3.2 3.2l-3.2 3.2l-3.2 -3.2zM875.7 1174.1l3.2 3.2l-3.2 3.2l-3.2 -3.2zM877.1 1177.2l3.2 3.2l-3.2 3.2l-3.2 -3.2zM877.9 1175.2l3.2 3.2l-3.2 3.2l-3.2 -3.2zM879.3 1176.8l3.2 3.2l-3.2 3.2l-3.2 -3.2zM879.8 1176.2l3.2 3.2l-3.2 3.2l-3.2 -3.2zM881.2 1175.6l3.2 3.2l-3.2 3.2l-3.2 -3.2zM882.2 1175.6l3.2 3.2l-3.2 3.2l-3.2 -3.2zM883.1 1176.7l3.2 3.2l-3.2 3.2l-3.2 -3.2zM884.0 1175.5l3.2 3.2l-3.2 3.2l-3.2 -3.2zM885.2 1175.8l3.2 3.2l-3.2 3.2l-3.2 -3.2zM885.8 1177.1l3.2 3.2l-3.2 3.2l-3.2 -3.2zM887.2 1178.1l3.2 3.2l-3.2 3.2l-3.2 -3.2zM888.2 1176.0l3.2 3.2l-3.2 3.2l-3.2 -3.2zM889.2 1177.6l3.2 3.2l-3.2 3.2l-3.2 -3.2zM889.7 1177.8l3.2 3.2l-3.2 3.2l-3.2 -3.2zM890.9 1177.1l3.2 3.2l-3.2 3.2l-3.2 -3.2zM892.1 1176.9l3.2 3.2l-3.2 3.2l-3.2 -3.2zM892.9 1178.1l3.2 3.2l-3.2 3.2l-3.2 -3.2zM894.2 1175.3l3.2 3.2l-3.2 3.2l-3.2 -3.2zM895.1 1175.2l3.2 3.2l-3.2 3.2l-3.2 -3.2zM895.7 1174.6l3.2 3.2l-3.2 3.2l-3.2 -3.2zM897.0 1177.3l3.2 3.2l-3.2 3.2l-3.2 -3.2zM898.2 1175.0l3.2 3.2l-3.2 3.2l-3.2 -3.2zM899.0 1177.4l3.2 3.2l-3.2 3.2l-3.2 -3.2zM900.0 1175.9l3.2 3.2l-3.2 3.2l-3.2 -3.2zM900.0 1175.8l3.2 3.2l-3.2 3.2l-3.2 -3.2zM885.0 1175.8l3.2 3.2l-3.2 3.2l-3.2 -3.2z" fill="none" stroke="#e46c0a" stroke-width="1.8" stroke-linejoin="miter"/>
<path d="M695.8 1187.8h8v8h-8zM696.1 1186.5h8v8h-8zM695.8 1184.8h8v8h-8zM695.9 1183.9h8v8h-8zM695.9 1184.3h8v8h-8zM695.6 1182.9h8v8h-8zM696.2 1180.8h8v8h-8zM696.1 1179.4h8v8h-8zM696.5 1179.8h8v8h-8zM696.6 1177.8h8v8h-8zM696.0 1178.0h8v8h-8zM696.1 1176.4h8v8h-8zM696.4 1177.0h8v8h-8zM695.8 1176.7h8v8h-8zM695.9 1175.6h8v8h-8zM695.7 1175.0h8v8h-8zM696.0 1175.2h8v8h-8zM696.2 1175.1h8v8h-8zM695.9 1173.6h8v8h-8zM696.0 1172.0h8v8h-8zM695.6 1171.9h8v8h-8zM696.3 1172.1h8v8h-8zM696.1 1170.8h8v8h-8zM696.0 1168.3h8v8h-8zM696.1 1168.1h8v8h-8zM696.1 1166.3h8v8h-8zM696.3 1165.6h8v8h-8zM696.1 1164.0h8v8h-8zM696.0 1162.1h8v8h-8zM696.2 1162.6h8v8h-8zM696.4 1160.8h8v8h-8zM696.5 1160.4h8v8h-8zM695.9 1160.4h8v8h-8zM696.2 1160.6h8v8h-8zM696.6 1158.1h8v8h-8zM696.8 1158.1h8v8h-8zM697.3 1159.2h8v8h-8zM697.7 1158.4h8v8h-8zM697.6 1156.2h8v8h-8zM697.6 1156.3h8v8h-8zM698.5 1155.6h8v8h-8zM698.2 1154.5h8v8h-8zM698.6 1154.6h8v8h-8zM698.4 1153.4h8v8h-8zM699.3 1152.7h8v8h-8zM699.6 1154.0h8v8h-8zM700.1 1151.8h8v8h-8zM700.4 1150.2h8v8h-8zM700.5 1149.7h8v8h-8zM700.1 1147.9h8v8h-8zM701.5 1147.7h8v8h-8zM702.3 1145.5h8v8h-8zM702.6 1144.9h8v8h-8zM703.6 1144.0h8v8h-8zM704.2 1144.5h8v8h-8zM704.1 1143.5h8v8h-8zM705.5 1142.6h8v8h-8zM706.2 1144.0h8v8h-8zM706.6 1144.2h8v8h-8zM706.8 1143.4h8v8h-8zM707.8 1141.9h8v8h-8zM708.5 1143.1h8v8h-8zM709.8 1143.0h8v8h-8zM710.4 1142.2h8v8h-8zM710.4 1142.7h8v8h-8zM711.3 1141.0h8v8h-8zM711.8 1138.5h8v8h-8zM712.5 1138.0h8v8h-8zM713.7 1138.8h8v8h-8zM714.2 1140.2h8v8h-8zM715.1 1140.7h8v8h-8zM715.9 1138.2h8v8h-8zM716.7 1139.3h8v8h-8zM717.1 1137.5h8v8h-8zM717.9 1138.7h8v8h-8zM718.8 1137.7h8v8h-8zM719.4 1138.8h8v8h-8zM720.6 1138.3h8v8h-8zM721.2 1136.9h8v8h-8zM721.9 1137.0h8v8h-8zM722.6 1135.8h8v8h-8zM722.7 1135.4h8v8h-8zM724.3 1134.5h8v8h-8zM725.2 1134.3h8v8h-8zM725.6 1134.6h8v8h-8zM726.5 1133.7h8v8h-8zM726.9 1133.8h8v8h-8zM728.1 1132.7h8v8h-8zM728.9 1131.8h8v8h-8zM729.3 1132.4h8v8h-8zM729.7 1131.9h8v8h-8zM730.4 1130.9h8v8h-8zM731.1 1130.5h8v8h-8zM732.9 1131.3h8v8h-8zM733.1 1131.4h8v8h-8zM733.8 1131.3h8v8h-8zM735.2 1133.1h8v8h-8zM735.8 1132.1h8v8h-8zM735.9 1130.1h8v8h-8zM736.6 1131.0h8v8h-8zM738.1 1130.4h8v8h-8zM738.8 1129.7h8v8h-8zM738.9 1129.5h8v8h-8zM739.9 1128.2h8v8h-8zM740.6 1128.1h8v8h-8zM741.6 1127.5h8v8h-8zM742.5 1127.0h8v8h-8zM743.1 1126.8h8v8h-8zM743.7 1126.2h8v8h-8zM743.7 1123.7h8v8h-8zM743.9 1123.8h8v8h-8zM744.2 1122.4h8v8h-8zM745.0 1124.0h8v8h-8zM745.0 1122.6h8v8h-8zM745.4 1122.3h8v8h-8zM745.9 1120.7h8v8h-8zM745.4 1119.2h8v8h-8zM745.9 1119.2h8v8h-8zM746.7 1119.4h8v8h-8zM747.1 1118.8h8v8h-8zM747.1 1117.3h8v8h-8zM747.5 1115.9h8v8h-8zM747.2 1114.6h8v8h-8zM748.2 1113.2h8v8h-8zM747.6 1113.6h8v8h-8zM748.6 1112.7h8v8h-8zM748.0 1113.2h8v8h-8zM748.7 1112.0h8v8h-8zM748.5 1112.1h8v8h-8zM749.3 1110.6h8v8h-8zM748.5 1110.1h8v8h-8zM749.4 1108.3h8v8h-8zM749.6 1108.7h8v8h-8zM749.8 1107.7h8v8h-8zM749.3 1105.8h8v8h-8zM750.0 1105.2h8v8h-8zM750.1 1103.7h8v8h-8zM750.3 1104.4h8v8h-8zM749.6 1102.6h8v8h-8zM749.7 1102.6h8v8h-8zM750.1 1100.5h8v8h-8zM750.7 1099.6h8v8h-8zM750.5 1098.8h8v8h-8zM750.6 1098.7h8v8h-8zM750.8 1097.0h8v8h-8zM750.9 1096.6h8v8h-8zM751.4 1094.3h8v8h-8zM751.2 1093.4h8v8h-8zM751.9 1093.4h8v8h-8zM751.2 1092.4h8v8h-8zM751.4 1091.1h8v8h-8zM751.5 1092.5h8v8h-8zM751.9 1090.7h8v8h-8zM752.5 1092.0h8v8h-8zM752.1 1091.2h8v8h-8zM752.2 1089.4h8v8h-8zM751.9 1089.9h8v8h-8zM751.9 1087.6h8v8h-8zM752.1 1086.2h8v8h-8zM752.5 1085.2h8v8h-8zM752.3 1083.6h8v8h-8zM752.6 1082.4h8v8h-8zM752.4 1082.9h8v8h-8zM753.2 1081.0h8v8h-8zM753.0 1079.0h8v8h-8zM752.9 1079.0h8v8h-8zM752.7 1078.2h8v8h-8zM753.4 1077.4h8v8h-8zM753.2 1077.0h8v8h-8zM753.8 1074.7h8v8h-8zM753.0 1073.9h8v8h-8zM753.7 1075.0h8v8h-8zM753.9 1074.3h8v8h-8zM753.5 1074.7h8v8h-8zM753.8 1073.1h8v8h-8zM754.1 1070.4h8v8h-8zM754.0 1070.5h8v8h-8zM753.8 1068.6h8v8h-8zM754.1 1069.2h8v8h-8zM754.4 1067.9h8v8h-8zM754.7 1066.0h8v8h-8zM754.4 1065.1h8v8h-8zM754.1 1064.1h8v8h-8zM754.2 1062.5h8v8h-8zM754.5 1063.4h8v8h-8zM754.4 1061.7h8v8h-8zM755.1 1061.3h8v8h-8zM755.4 1061.2h8v8h-8zM755.0 1060.1h8v8h-8zM754.8 1060.4h8v8h-8zM754.8 1060.6h8v8h-8zM754.9 1059.1h8v8h-8zM755.9 1057.2h8v8h-8zM755.0 1056.0h8v8h-8zM756.0 1056.2h8v8h-8zM755.8 1056.4h8v8h-8zM756.7 1055.5h8v8h-8zM756.6 1053.2h8v8h-8zM757.2 1050.9h8v8h-8zM757.7 1052.7h8v8h-8zM757.1 1053.2h8v8h-8zM758.3 1052.7h8v8h-8zM758.4 1050.7h8v8h-8zM758.2 1050.0h8v8h-8zM759.3 1048.3h8v8h-8zM759.6 1048.4h8v8h-8zM758.9 1049.8h8v8h-8zM760.0 1050.4h8v8h-8zM759.6 1051.1h8v8h-8zM760.4 1051.2h8v8h-8zM760.5 1052.0h8v8h-8zM760.6 1052.7h8v8h-8zM761.6 1053.9h8v8h-8zM761.1 1054.8h8v8h-8zM762.3 1055.7h8v8h-8zM762.6 1057.0h8v8h-8zM762.7 1058.3h8v8h-8zM762.8 1057.1h8v8h-8zM762.4 1059.8h8v8h-8zM763.1 1061.3h8v8h-8zM763.5 1059.8h8v8h-8zM763.5 1059.7h8v8h-8zM763.2 1061.9h8v8h-8zM763.3 1061.6h8v8h-8zM763.7 1062.9h8v8h-8zM763.2 1062.2h8v8h-8zM763.5 1063.9h8v8h-8zM763.6 1064.2h8v8h-8zM764.2 1065.3h8v8h-8zM763.9 1067.4h8v8h-8zM764.0 1070.5h8v8h-8zM764.4 1069.0h8v8h-8zM764.0 1070.4h8v8h-8zM764.3 1070.2h8v8h-8zM764.0 1073.0h8v8h-8zM764.4 1071.6h8v8h-8zM764.7 1070.7h8v8h-8zM764.4 1073.1h8v8h-8zM764.3 1072.9h8v8h-8zM764.2 1075.4h8v8h-8zM764.8 1075.3h8v8h-8zM764.6 1078.1h8v8h-8zM764.6 1077.2h8v8h-8zM765.1 1079.4h8v8h-8zM765.0 1079.7h8v8h-8zM765.6 1081.1h8v8h-8zM764.9 1081.6h8v8h-8zM765.1 1082.7h8v8h-8zM765.4 1083.3h8v8h-8zM765.4 1082.4h8v8h-8zM765.5 1084.6h8v8h-8zM765.6 1086.4h8v8h-8zM765.5 1086.3h8v8h-8zM765.6 1085.5h8v8h-8zM765.9 1087.6h8v8h-8zM766.1 1087.8h8v8h-8zM765.8 1088.2h8v8h-8zM766.4 1088.6h8v8h-8zM766.5 1090.1h8v8h-8zM766.0 1091.3h8v8h-8zM766.4 1091.7h8v8h-8zM766.8 1091.5h8v8h-8zM766.3 1094.5h8v8h-8zM766.9 1094.4h8v8h-8zM767.1 1095.4h8v8h-8zM766.8 1095.1h8v8h-8zM766.7 1097.2h8v8h-8zM766.8 1098.6h8v8h-8zM767.8 1099.3h8v8h-8zM767.6 1099.3h8v8h-8zM767.8 1098.7h8v8h-8zM768.1 1100.6h8v8h-8zM767.7 1101.3h8v8h-8zM767.6 1103.5h8v8h-8zM767.7 1102.9h8v8h-8zM768.2 1103.4h8v8h-8zM768.6 1103.3h8v8h-8zM768.7 1106.8h8v8h-8zM768.6 1106.7h8v8h-8zM768.6 1108.5h8v8h-8zM768.9 1108.9h8v8h-8zM768.6 1108.2h8v8h-8zM769.2 1109.4h8v8h-8zM768.8 1110.6h8v8h-8zM769.2 1111.7h8v8h-8zM769.4 1111.9h8v8h-8zM768.9 1112.5h8v8h-8zM769.4 1115.5h8v8h-8zM769.6 1114.6h8v8h-8zM769.3 1115.8h8v8h-8zM769.2 1115.8h8v8h-8zM769.3 1117.6h8v8h-8zM770.2 1116.8h8v8h-8zM769.8 1119.2h8v8h-8zM770.1 1120.0h8v8h-8zM770.7 1120.1h8v8h-8zM769.9 1121.8h8v8h-8zM770.1 1122.1h8v8h-8zM770.4 1124.0h8v8h-8zM770.8 1125.0h8v8h-8zM770.6 1126.1h8v8h-8zM771.1 1126.1h8v8h-8zM771.5 1127.1h8v8h-8zM771.2 1127.1h8v8h-8zM770.7 1128.6h8v8h-8zM771.4 1130.3h8v8h-8zM771.7 1130.0h8v8h-8zM771.6 1129.5h8v8h-8zM772.0 1130.2h8v8h-8zM772.4 1132.1h8v8h-8zM772.6 1133.1h8v8h-8zM773.0 1133.6h8v8h-8zM773.2 1134.5h8v8h-8zM772.8 1134.1h8v8h-8zM773.4 1135.6h8v8h-8zM773.8 1135.8h8v8h-8zM774.1 1138.0h8v8h-8zM774.1 1138.9h8v8h-8zM774.8 1137.3h8v8h-8zM774.5 1139.2h8v8h-8zM774.8 1141.1h8v8h-8zM774.9 1140.4h8v8h-8zM775.9 1142.0h8v8h-8zM775.9 1142.3h8v8h-8zM775.9 1144.0h8v8h-8zM776.2 1142.2h8v8h-8zM776.0 1141.8h8v8h-8zM776.9 1143.6h8v8h-8zM776.8 1144.8h8v8h-8zM777.4 1145.2h8v8h-8zM777.0 1148.1h8v8h-8zM778.2 1147.2h8v8h-8zM778.2 1148.4h8v8h-8zM778.6 1150.3h8v8h-8zM779.7 1150.0h8v8h-8zM779.7 1153.6h8v8h-8zM780.1 1154.7h8v8h-8zM780.8 1153.1h8v8h-8zM781.7 1153.4h8v8h-8zM782.4 1154.6h8v8h-8zM782.8 1155.0h8v8h-8zM782.9 1156.3h8v8h-8zM783.4 1154.5h8v8h-8zM784.2 1155.7h8v8h-8zM784.5 1155.4h8v8h-8zM785.5 1155.1h8v8h-8zM785.5 1156.4h8v8h-8zM786.4 1156.0h8v8h-8zM787.3 1156.0h8v8h-8zM788.0 1154.8h8v8h-8zM789.3 1157.1h8v8h-8zM789.7 1158.0h8v8h-8zM790.4 1158.7h8v8h-8zM791.3 1160.7h8v8h-8zM791.9 1159.4h8v8h-8zM792.9 1159.5h8v8h-8zM793.4 1160.8h8v8h-8zM793.6 1160.7h8v8h-8zM794.3 1160.7h8v8h-8zM795.0 1161.7h8v8h-8zM795.6 1161.5h8v8h-8zM796.7 1162.2h8v8h-8zM797.7 1163.5h8v8h-8zM798.6 1162.3h8v8h-8zM798.8 1162.0h8v8h-8zM799.8 1162.1h8v8h-8zM800.6 1162.7h8v8h-8zM801.8 1163.2h8v8h-8zM802.7 1163.3h8v8h-8zM803.5 1164.8h8v8h-8zM804.3 1166.5h8v8h-8zM805.0 1165.5h8v8h-8zM806.0 1165.8h8v8h-8zM806.5 1166.4h8v8h-8zM807.6 1167.5h8v8h-8zM808.1 1168.1h8v8h-8zM808.8 1165.4h8v8h-8zM809.8 1166.1h8v8h-8zM810.3 1163.4h8v8h-8zM811.2 1163.7h8v8h-8zM811.3 1163.6h8v8h-8zM812.3 1163.0h8v8h-8zM813.5 1162.4h8v8h-8zM813.8 1162.0h8v8h-8zM814.3 1163.1h8v8h-8zM815.9 1161.9h8v8h-8zM816.5 1160.4h8v8h-8zM817.4 1159.9h8v8h-8zM817.3 1159.3h8v8h-8zM819.0 1161.4h8v8h-8zM819.6 1161.1h8v8h-8zM820.4 1160.3h8v8h-8zM820.7 1161.5h8v8h-8zM821.5 1161.0h8v8h-8zM822.3 1159.4h8v8h-8zM823.7 1160.1h8v8h-8zM824.1 1160.1h8v8h-8zM825.2 1160.9h8v8h-8zM826.3 1160.8h8v8h-8zM827.0 1160.3h8v8h-8zM827.8 1160.7h8v8h-8zM828.3 1161.2h8v8h-8zM828.5 1161.2h8v8h-8zM830.0 1163.1h8v8h-8zM830.5 1162.4h8v8h-8zM830.6 1164.5h8v8h-8zM831.5 1163.0h8v8h-8zM832.2 1165.2h8v8h-8zM833.5 1165.2h8v8h-8zM834.1 1163.9h8v8h-8zM834.5 1166.6h8v8h-8zM834.8 1166.5h8v8h-8zM836.0 1169.6h8v8h-8zM836.2 1169.0h8v8h-8zM837.3 1169.4h8v8h-8zM837.7 1168.5h8v8h-8zM839.0 1169.3h8v8h-8zM839.6 1169.5h8v8h-8zM839.6 1168.0h8v8h-8zM840.3 1169.1h8v8h-8zM841.7 1168.3h8v8h-8zM842.4 1168.2h8v8h-8zM843.3 1170.6h8v8h-8zM843.2 1169.7h8v8h-8zM844.5 1170.7h8v8h-8zM845.4 1170.6h8v8h-8zM846.3 1171.6h8v8h-8zM847.2 1171.0h8v8h-8zM847.9 1173.4h8v8h-8zM848.4 1173.3h8v8h-8zM849.0 1173.0h8v8h-8zM849.9 1172.2h8v8h-8zM850.3 1173.1h8v8h-8zM851.6 1173.1h8v8h-8zM852.1 1175.0h8v8h-8zM853.0 1173.3h8v8h-8zM853.4 1175.1h8v8h-8zM854.3 1173.6h8v8h-8zM855.5 1174.1h8v8h-8zM856.1 1174.7h8v8h-8zM856.9 1175.3h8v8h-8zM858.2 1174.7h8v8h-8zM858.6 1175.8h8v8h-8zM859.8 1176.6h8v8h-8zM860.5 1175.4h8v8h-8zM861.4 1176.0h8v8h-8zM862.1 1177.0h8v8h-8zM862.4 1177.2h8v8h-8zM863.5 1176.9h8v8h-8zM863.8 1175.9h8v8h-8zM864.9 1176.5h8v8h-8zM865.9 1177.3h8v8h-8zM866.3 1176.8h8v8h-8zM867.3 1177.0h8v8h-8zM868.1 1177.2h8v8h-8zM869.1 1178.6h8v8h-8zM870.2 1177.7h8v8h-8zM871.0 1178.7h8v8h-8zM871.1 1177.9h8v8h-8zM872.0 1178.9h8v8h-8zM873.0 1179.3h8v8h-8zM874.1 1178.7h8v8h-8zM874.4 1177.3h8v8h-8zM875.1 1179.4h8v8h-8zM876.1 1179.1h8v8h-8zM877.4 1178.4h8v8h-8zM877.7 1178.1h8v8h-8zM878.8 1178.7h8v8h-8zM879.8 1176.4h8v8h-8zM880.6 1177.9h8v8h-8zM881.4 1177.8h8v8h-8zM881.5 1178.9h8v8h-8zM882.6 1178.1h8v8h-8zM883.9 1177.6h8v8h-8zM884.9 1177.9h8v8h-8zM884.8 1176.7h8v8h-8zM885.7 1179.1h8v8h-8zM887.0 1179.3h8v8h-8zM887.2 1179.7h8v8h-8zM888.8 1177.9h8v8h-8zM889.0 1178.3h8v8h-8zM889.8 1178.5h8v8h-8zM890.8 1179.8h8v8h-8zM891.5 1178.6h8v8h-8zM892.7 1178.5h8v8h-8zM893.3 1178.9h8v8h-8zM893.7 1178.2h8v8h-8zM894.9 1177.8h8v8h-8zM895.9 1178.5h8v8h-8zM896.9 1177.4h8v8h-8zM897.9 1178.7h8v8h-8zM897.8 1178.9h8v8h-8zM899.1 1179.2h8v8h-8zM900.2 1178.9h8v8h-8zM900.6 1178.8h8v8h-8zM902.0 1179.4h8v8h-8zM902.0 1178.6h8v8h-8zM902.9 1180.0h8v8h-8zM904.2 1179.9h8v8h-8zM904.8 1181.0h8v8h-8zM905.6 1179.8h8v8h-8zM906.3 1179.8h8v8h-8zM906.8 1178.7h8v8h-8zM908.5 1179.4h8v8h-8zM908.5 1178.7h8v8h-8zM909.6 1178.9h8v8h-8zM910.6 1179.8h8v8h-8z" fill="#604a7b" stroke="#604a7b" stroke-width="1" stroke-linejoin="round"/>
<path d="M845.5 1071.4l3.3 3.3l-3.3 3.3l-3.3 -3.3z" fill="none" stroke="#e46c0a" stroke-width="2.3" stroke-linejoin="miter"/>
<rect x="841.1" y="1097.8999999999999" width="8.8" height="8.8" rx="1.2" fill="#604a7b"/>
<text x="858.7" y="1085.6" font-family="Liberation Serif" font-size="29.5" text-anchor="start">X</text>
<text x="858.7" y="1113.3" font-family="Liberation Serif" font-size="29.5" text-anchor="start">Y</text>
</svg>
</body></html>
